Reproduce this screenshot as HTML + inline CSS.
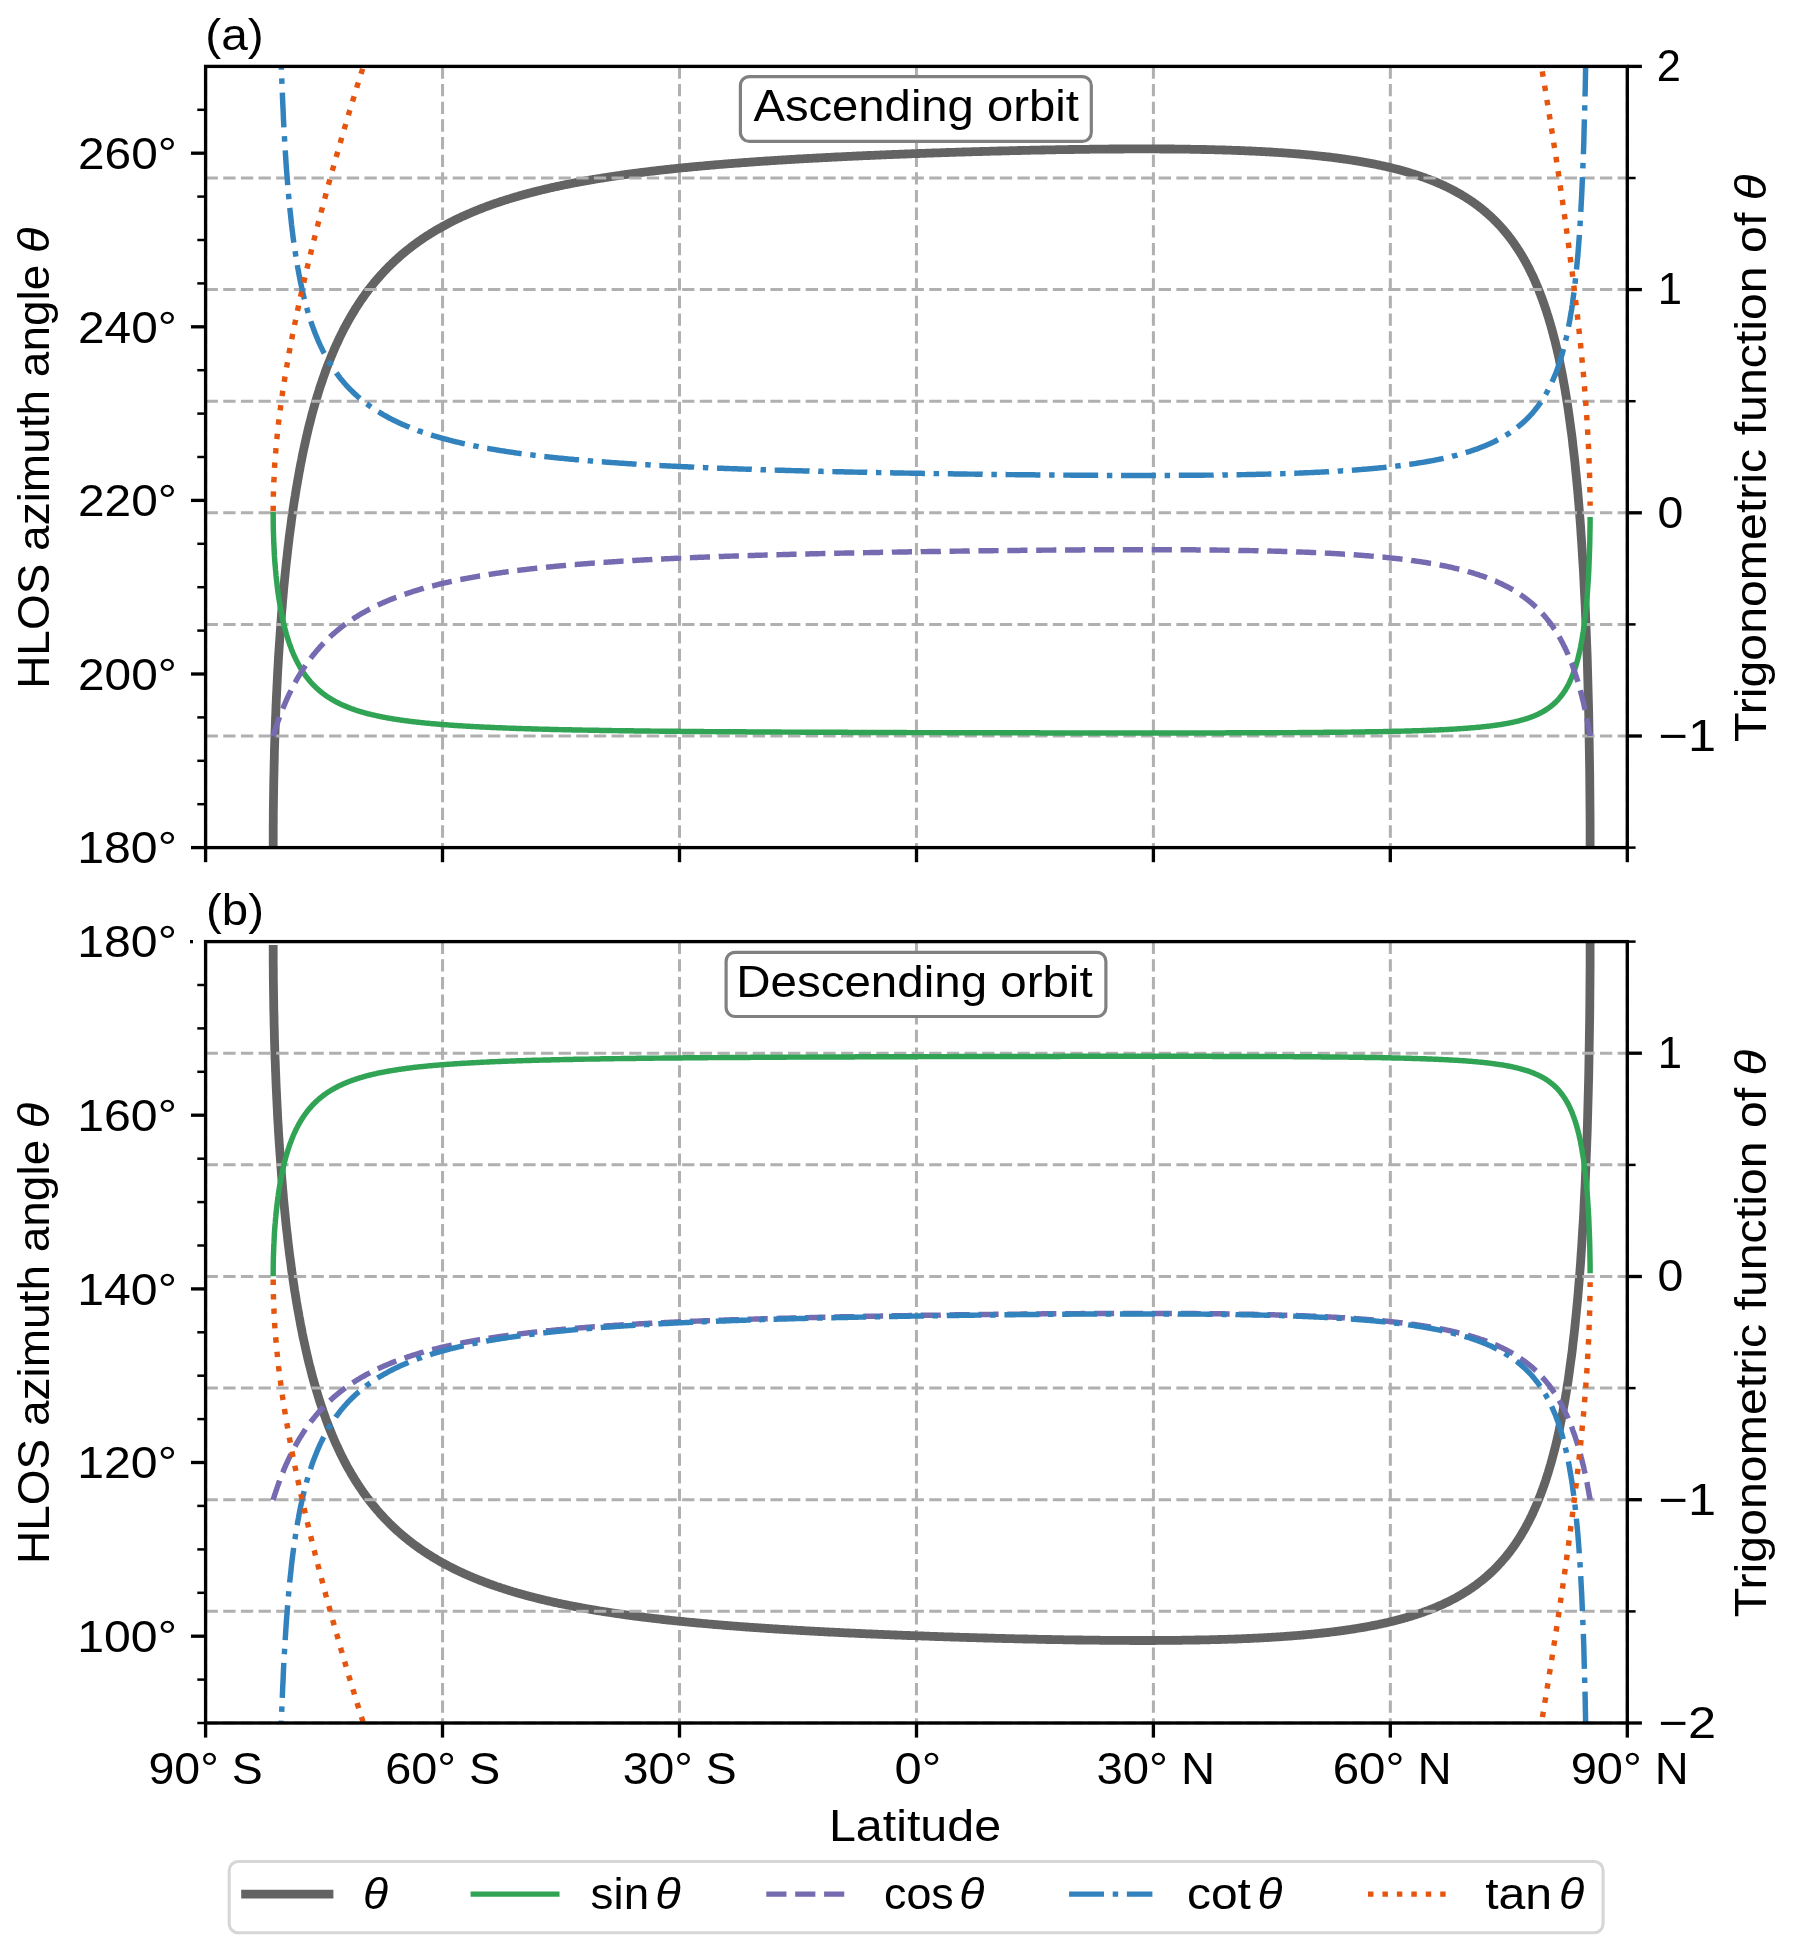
<!DOCTYPE html><html><head><meta charset="utf-8"><style>html,body{margin:0;padding:0;background:#fff}svg text{font-family:"Liberation Sans",sans-serif}svg{will-change:transform}</style></head><body><svg width="1793" height="1955" viewBox="0 0 1793 1955" style="display:block">
<rect x="0" y="0" width="1793" height="1955" fill="#fff"/>
<defs>
<clipPath id="clipa"><rect x="205.6" y="66.4" width="1421.7" height="781.2"/></clipPath>
<clipPath id="clipb"><rect x="205.6" y="941.6" width="1421.7" height="781.4"/></clipPath>
</defs>
<line x1="205.6" y1="66.4" x2="205.6" y2="847.6" stroke="#b0b0b0" stroke-width="3.0" stroke-dasharray="12.32 5.33"/>
<line x1="442.55" y1="66.4" x2="442.55" y2="847.6" stroke="#b0b0b0" stroke-width="3.0" stroke-dasharray="12.32 5.33"/>
<line x1="679.5" y1="66.4" x2="679.5" y2="847.6" stroke="#b0b0b0" stroke-width="3.0" stroke-dasharray="12.32 5.33"/>
<line x1="916.45" y1="66.4" x2="916.45" y2="847.6" stroke="#b0b0b0" stroke-width="3.0" stroke-dasharray="12.32 5.33"/>
<line x1="1153.4" y1="66.4" x2="1153.4" y2="847.6" stroke="#b0b0b0" stroke-width="3.0" stroke-dasharray="12.32 5.33"/>
<line x1="1390.35" y1="66.4" x2="1390.35" y2="847.6" stroke="#b0b0b0" stroke-width="3.0" stroke-dasharray="12.32 5.33"/>
<line x1="1627.3" y1="66.4" x2="1627.3" y2="847.6" stroke="#b0b0b0" stroke-width="3.0" stroke-dasharray="12.32 5.33"/>
<polyline points="273.2,847.6 273.2,840.7 273.2,833.8 273.2,826.9 273.3,820.0 273.3,813.1 273.4,806.2 273.5,799.4 273.6,792.5 273.7,785.7 273.8,778.9 274.0,772.2 274.1,765.4 274.3,758.7 274.4,752.0 274.6,745.4 274.8,738.8 275.0,732.3 275.3,725.7 275.5,719.3 275.8,712.8 276.0,706.5 276.3,700.1 276.6,693.8 276.9,687.6 277.2,681.4 277.5,675.3 277.8,669.3 278.2,663.3 278.5,657.3 278.9,651.4 279.3,645.6 279.7,639.8 280.1,634.1 280.5,628.5 280.9,622.9 281.3,617.3 281.7,611.9 282.2,606.5 282.6,601.2 283.1,595.9 283.5,590.7 284.0,585.5 284.5,580.5 285.0,575.4 285.5,570.5 286.0,565.6 286.5,560.8 287.1,556.0 287.6,551.3 288.1,546.7 288.7,542.1 289.2,537.6 289.8,533.1 290.4,528.7 291.0,524.4 291.5,520.1 292.1,515.9 292.7,511.7 293.3,507.6 293.9,503.6 294.5,499.6 295.2,495.7 295.8,491.8 296.4,488.0 297.1,484.2 297.7,480.5 298.4,476.9 299.0,473.2 299.7,469.7 300.3,466.2 301.0,462.7 301.7,459.3 302.3,456.0 303.0,452.6 303.7,449.4 304.4,446.2 305.1,443.0 305.8,439.9 306.5,436.8 307.2,433.7 307.9,430.7 308.6,427.8 309.3,424.9 310.1,422.0 310.8,419.2 311.5,416.4 312.2,413.6 313.0,410.9 313.7,408.2 314.5,405.6 315.2,403.0 316.0,400.4 316.7,397.9 317.5,395.4 318.2,393.0 319.0,390.5 319.7,388.1 320.5,385.8 321.3,383.5 322.1,381.2 322.8,378.9 323.6,376.7 324.4,374.5 325.2,372.3 325.9,370.1 326.7,368.0 327.5,365.9 328.3,363.9 329.1,361.8 329.9,359.8 330.7,357.9 331.5,355.9 332.3,354.0 333.1,352.1 333.9,350.2 334.7,348.3 335.5,346.5 336.3,344.7 337.2,342.9 338.0,341.1 338.8,339.4 339.6,337.7 340.4,336.0 341.2,334.3 342.1,332.7 342.9,331.0 343.7,329.4 344.5,327.8 345.4,326.3 346.2,324.7 347.0,323.2 347.9,321.7 348.7,320.2 349.5,318.7 350.4,317.2 351.2,315.8 352.1,314.4 352.9,313.0 353.8,311.6 354.6,310.2 355.4,308.8 356.3,307.5 357.1,306.2 358.0,304.8 358.8,303.5 359.7,302.3 360.5,301.0 361.4,299.7 362.3,298.5 363.1,297.3 364.0,296.1 364.8,294.9 365.7,293.7 366.5,292.5 367.4,291.4 368.3,290.2 369.1,289.1 370.0,288.0 370.9,286.9 371.7,285.8 372.6,284.7 373.5,283.6 374.3,282.6 375.2,281.5 376.1,280.5 376.9,279.5 377.8,278.5 378.7,277.5 379.6,276.5 380.4,275.5 381.3,274.5 382.2,273.6 383.1,272.6 383.9,271.7 384.8,270.7 385.7,269.8 386.6,268.9 387.5,268.0 388.3,267.1 389.2,266.2 390.1,265.4 391.0,264.5 391.9,263.6 392.8,262.8 393.6,262.0 394.5,261.1 395.4,260.3 396.3,259.5 397.2,258.7 398.1,257.9 399.0,257.1 399.8,256.3 400.7,255.5 401.6,254.8 402.5,254.0 403.4,253.3 404.3,252.5 405.2,251.8 406.1,251.0 407.0,250.3 407.9,249.6 408.8,248.9 409.7,248.2 410.6,247.5 411.5,246.8 412.3,246.1 413.2,245.5 414.1,244.8 415.0,244.1 415.9,243.5 416.8,242.8 417.7,242.2 418.6,241.5 419.5,240.9 420.4,240.3 421.3,239.6 422.2,239.0 423.1,238.4 424.0,237.8 424.9,237.2 425.8,236.6 426.7,236.0 427.6,235.4 428.6,234.9 429.5,234.3 430.4,233.7 431.3,233.2 432.2,232.6 433.1,232.0 434.0,231.5 434.9,230.9 435.8,230.4 436.7,229.9 437.6,229.3 438.5,228.8 439.4,228.3 440.3,227.8 441.2,227.3 442.1,226.8 443.1,226.3 444.0,225.8 444.9,225.3 445.8,224.8 446.7,224.3 447.6,223.8 448.5,223.3 449.4,222.9 450.3,222.4 451.3,221.9 452.2,221.5 453.1,221.0 454.0,220.5 454.9,220.1 455.8,219.6 456.7,219.2 457.6,218.8 458.6,218.3 459.5,217.9 460.4,217.5 461.3,217.0 462.2,216.6 463.1,216.2 464.0,215.8 465.0,215.4 465.9,215.0 466.8,214.6 467.7,214.2 468.6,213.8 469.5,213.4 470.5,213.0 471.4,212.6 472.3,212.2 473.2,211.8 474.1,211.4 475.0,211.0 476.0,210.7 476.9,210.3 477.8,209.9 478.7,209.6 479.6,209.2 480.6,208.8 481.5,208.5 482.4,208.1 483.3,207.8 484.2,207.4 485.2,207.1 486.1,206.7 487.0,206.4 487.9,206.0 488.8,205.7 489.8,205.4 490.7,205.0 491.6,204.7 492.5,204.4 493.4,204.1 494.4,203.7 495.3,203.4 496.2,203.1 497.1,202.8 498.1,202.5 499.0,202.2 499.9,201.9 500.8,201.5 501.7,201.2 502.7,200.9 503.6,200.6 504.5,200.3 505.4,200.0 506.4,199.8 507.3,199.5 508.2,199.2 509.1,198.9 510.1,198.6 511.0,198.3 511.9,198.0 512.8,197.8 513.8,197.5 514.7,197.2 515.6,196.9 516.5,196.7 517.5,196.4 518.4,196.1 519.3,195.9 520.2,195.6 521.2,195.3 522.1,195.1 523.0,194.8 523.9,194.6 524.9,194.3 525.8,194.1 526.7,193.8 527.6,193.6 528.6,193.3 529.5,193.1 530.4,192.8 531.4,192.6 532.3,192.3 533.2,192.1 534.1,191.9 535.1,191.6 536.0,191.4 536.9,191.2 537.8,190.9 538.8,190.7 539.7,190.5 540.6,190.2 541.6,190.0 542.5,189.8 543.4,189.6 544.3,189.3 545.3,189.1 546.2,188.9 547.1,188.7 548.1,188.5 549.0,188.3 549.9,188.0 550.9,187.8 551.8,187.6 552.7,187.4 553.6,187.2 554.6,187.0 555.5,186.8 556.4,186.6 557.4,186.4 558.3,186.2 559.2,186.0 560.2,185.8 561.1,185.6 562.0,185.4 562.9,185.2 563.9,185.0 564.8,184.8 565.7,184.6 566.7,184.5 567.6,184.3 568.5,184.1 569.5,183.9 570.4,183.7 571.3,183.5 572.3,183.3 573.2,183.2 574.1,183.0 575.1,182.8 576.0,182.6 576.9,182.4 577.9,182.3 578.8,182.1 579.7,181.9 580.6,181.7 581.6,181.6 582.5,181.4 583.4,181.2 584.4,181.1 585.3,180.9 586.2,180.7 587.2,180.6 588.1,180.4 589.0,180.2 590.0,180.1 590.9,179.9 591.8,179.8 592.8,179.6 593.7,179.4 594.6,179.3 595.6,179.1 596.5,179.0 597.4,178.8 598.4,178.7 599.3,178.5 600.2,178.4 601.2,178.2 602.1,178.1 603.0,177.9 604.0,177.8 604.9,177.6 605.8,177.5 606.8,177.3 607.7,177.2 608.7,177.0 609.6,176.9 610.5,176.7 611.5,176.6 612.4,176.5 613.3,176.3 614.3,176.2 615.2,176.0 616.1,175.9 617.1,175.8 618.0,175.6 618.9,175.5 619.9,175.4 620.8,175.2 621.7,175.1 622.7,175.0 623.6,174.8 624.5,174.7 625.5,174.6 626.4,174.4 627.3,174.3 628.3,174.2 629.2,174.1 630.2,173.9 631.1,173.8 632.0,173.7 633.0,173.6 633.9,173.4 634.8,173.3 635.8,173.2 636.7,173.1 637.6,173.0 638.6,172.8 639.5,172.7 640.4,172.6 641.4,172.5 642.3,172.4 643.3,172.2 644.2,172.1 645.1,172.0 646.1,171.9 647.0,171.8 647.9,171.7 648.9,171.5 649.8,171.4 650.7,171.3 651.7,171.2 652.6,171.1 653.6,171.0 654.5,170.9 655.4,170.8 656.4,170.7 657.3,170.6 658.2,170.4 659.2,170.3 660.1,170.2 661.1,170.1 662.0,170.0 662.9,169.9 663.9,169.8 664.8,169.7 665.7,169.6 666.7,169.5 667.6,169.4 668.6,169.3 669.5,169.2 670.4,169.1 671.4,169.0 672.3,168.9 673.2,168.8 674.2,168.7 675.1,168.6 676.0,168.5 677.0,168.4 677.9,168.3 678.9,168.2 679.8,168.1 680.7,168.0 681.7,167.9 682.6,167.8 683.6,167.7 684.5,167.7 685.4,167.6 686.4,167.5 687.3,167.4 688.2,167.3 689.2,167.2 690.1,167.1 691.1,167.0 692.0,166.9 692.9,166.8 693.9,166.7 694.8,166.7 695.7,166.6 696.7,166.5 697.6,166.4 698.6,166.3 699.5,166.2 700.4,166.1 701.4,166.1 702.3,166.0 703.3,165.9 704.2,165.8 705.1,165.7 706.1,165.6 707.0,165.5 707.9,165.5 708.9,165.4 709.8,165.3 710.8,165.2 711.7,165.1 712.6,165.1 713.6,165.0 714.5,164.9 715.5,164.8 716.4,164.7 717.3,164.7 718.3,164.6 719.2,164.5 720.2,164.4 721.1,164.4 722.0,164.3 723.0,164.2 723.9,164.1 724.8,164.0 725.8,164.0 726.7,163.9 727.7,163.8 728.6,163.7 729.5,163.7 730.5,163.6 731.4,163.5 732.4,163.5 733.3,163.4 734.2,163.3 735.2,163.2 736.1,163.2 737.1,163.1 738.0,163.0 738.9,163.0 739.9,162.9 740.8,162.8 741.8,162.7 742.7,162.7 743.6,162.6 744.6,162.5 745.5,162.5 746.5,162.4 747.4,162.3 748.3,162.3 749.3,162.2 750.2,162.1 751.1,162.1 752.1,162.0 753.0,161.9 754.0,161.9 754.9,161.8 755.8,161.7 756.8,161.7 757.7,161.6 758.7,161.5 759.6,161.5 760.5,161.4 761.5,161.3 762.4,161.3 763.4,161.2 764.3,161.2 765.2,161.1 766.2,161.0 767.1,161.0 768.1,160.9 769.0,160.8 769.9,160.8 770.9,160.7 771.8,160.7 772.8,160.6 773.7,160.5 774.6,160.5 775.6,160.4 776.5,160.4 777.5,160.3 778.4,160.2 779.3,160.2 780.3,160.1 781.2,160.1 782.2,160.0 783.1,159.9 784.1,159.9 785.0,159.8 785.9,159.8 786.9,159.7 787.8,159.7 788.8,159.6 789.7,159.5 790.6,159.5 791.6,159.4 792.5,159.4 793.5,159.3 794.4,159.3 795.3,159.2 796.3,159.2 797.2,159.1 798.2,159.0 799.1,159.0 800.0,158.9 801.0,158.9 801.9,158.8 802.9,158.8 803.8,158.7 804.7,158.7 805.7,158.6 806.6,158.6 807.6,158.5 808.5,158.5 809.4,158.4 810.4,158.4 811.3,158.3 812.3,158.3 813.2,158.2 814.1,158.2 815.1,158.1 816.0,158.1 817.0,158.0 817.9,158.0 818.9,157.9 819.8,157.9 820.7,157.8 821.7,157.8 822.6,157.7 823.6,157.7 824.5,157.6 825.4,157.6 826.4,157.5 827.3,157.5 828.3,157.4 829.2,157.4 830.1,157.3 831.1,157.3 832.0,157.2 833.0,157.2 833.9,157.1 834.8,157.1 835.8,157.0 836.7,157.0 837.7,156.9 838.6,156.9 839.6,156.8 840.5,156.8 841.4,156.8 842.4,156.7 843.3,156.7 844.3,156.6 845.2,156.6 846.1,156.5 847.1,156.5 848.0,156.4 849.0,156.4 849.9,156.4 850.8,156.3 851.8,156.3 852.7,156.2 853.7,156.2 854.6,156.1 855.6,156.1 856.5,156.0 857.4,156.0 858.4,156.0 859.3,155.9 860.3,155.9 861.2,155.8 862.1,155.8 863.1,155.7 864.0,155.7 865.0,155.7 865.9,155.6 866.8,155.6 867.8,155.5 868.7,155.5 869.7,155.5 870.6,155.4 871.6,155.4 872.5,155.3 873.4,155.3 874.4,155.3 875.3,155.2 876.3,155.2 877.2,155.1 878.1,155.1 879.1,155.1 880.0,155.0 881.0,155.0 881.9,154.9 882.8,154.9 883.8,154.9 884.7,154.8 885.7,154.8 886.6,154.7 887.6,154.7 888.5,154.7 889.4,154.6 890.4,154.6 891.3,154.6 892.3,154.5 893.2,154.5 894.1,154.4 895.1,154.4 896.0,154.4 897.0,154.3 897.9,154.3 898.9,154.3 899.8,154.2 900.7,154.2 901.7,154.1 902.6,154.1 903.6,154.1 904.5,154.0 905.4,154.0 906.4,154.0 907.3,153.9 908.3,153.9 909.2,153.9 910.2,153.8 911.1,153.8 912.0,153.7 913.0,153.7 913.9,153.7 914.9,153.6 915.8,153.6 916.7,153.6 917.7,153.5 918.6,153.5 919.6,153.5 920.5,153.4 921.4,153.4 922.4,153.4 923.3,153.3 924.3,153.3 925.2,153.3 926.2,153.2 927.1,153.2 928.0,153.2 929.0,153.1 929.9,153.1 930.9,153.1 931.8,153.0 932.7,153.0 933.7,153.0 934.6,152.9 935.6,152.9 936.5,152.9 937.5,152.8 938.4,152.8 939.3,152.8 940.3,152.8 941.2,152.7 942.2,152.7 943.1,152.7 944.0,152.6 945.0,152.6 945.9,152.6 946.9,152.5 947.8,152.5 948.8,152.5 949.7,152.4 950.6,152.4 951.6,152.4 952.5,152.3 953.5,152.3 954.4,152.3 955.3,152.3 956.3,152.2 957.2,152.2 958.2,152.2 959.1,152.1 960.1,152.1 961.0,152.1 961.9,152.1 962.9,152.0 963.8,152.0 964.8,152.0 965.7,151.9 966.6,151.9 967.6,151.9 968.5,151.9 969.5,151.8 970.4,151.8 971.4,151.8 972.3,151.7 973.2,151.7 974.2,151.7 975.1,151.7 976.1,151.6 977.0,151.6 977.9,151.6 978.9,151.6 979.8,151.5 980.8,151.5 981.7,151.5 982.7,151.4 983.6,151.4 984.5,151.4 985.5,151.4 986.4,151.3 987.4,151.3 988.3,151.3 989.2,151.3 990.2,151.2 991.1,151.2 992.1,151.2 993.0,151.2 994.0,151.1 994.9,151.1 995.8,151.1 996.8,151.1 997.7,151.0 998.7,151.0 999.6,151.0 1000.5,151.0 1001.5,150.9 1002.4,150.9 1003.4,150.9 1004.3,150.9 1005.3,150.8 1006.2,150.8 1007.1,150.8 1008.1,150.8 1009.0,150.8 1010.0,150.7 1010.9,150.7 1011.8,150.7 1012.8,150.7 1013.7,150.6 1014.7,150.6 1015.6,150.6 1016.6,150.6 1017.5,150.5 1018.4,150.5 1019.4,150.5 1020.3,150.5 1021.3,150.5 1022.2,150.4 1023.1,150.4 1024.1,150.4 1025.0,150.4 1026.0,150.4 1026.9,150.3 1027.9,150.3 1028.8,150.3 1029.7,150.3 1030.7,150.2 1031.6,150.2 1032.6,150.2 1033.5,150.2 1034.4,150.2 1035.4,150.1 1036.3,150.1 1037.3,150.1 1038.2,150.1 1039.2,150.1 1040.1,150.1 1041.0,150.0 1042.0,150.0 1042.9,150.0 1043.9,150.0 1044.8,150.0 1045.7,149.9 1046.7,149.9 1047.6,149.9 1048.6,149.9 1049.5,149.9 1050.5,149.8 1051.4,149.8 1052.3,149.8 1053.3,149.8 1054.2,149.8 1055.2,149.8 1056.1,149.7 1057.0,149.7 1058.0,149.7 1058.9,149.7 1059.9,149.7 1060.8,149.7 1061.8,149.6 1062.7,149.6 1063.6,149.6 1064.6,149.6 1065.5,149.6 1066.5,149.6 1067.4,149.6 1068.3,149.5 1069.3,149.5 1070.2,149.5 1071.2,149.5 1072.1,149.5 1073.1,149.5 1074.0,149.5 1074.9,149.4 1075.9,149.4 1076.8,149.4 1077.8,149.4 1078.7,149.4 1079.6,149.4 1080.6,149.4 1081.5,149.3 1082.5,149.3 1083.4,149.3 1084.3,149.3 1085.3,149.3 1086.2,149.3 1087.2,149.3 1088.1,149.3 1089.1,149.3 1090.0,149.2 1090.9,149.2 1091.9,149.2 1092.8,149.2 1093.8,149.2 1094.7,149.2 1095.6,149.2 1096.6,149.2 1097.5,149.2 1098.5,149.1 1099.4,149.1 1100.4,149.1 1101.3,149.1 1102.2,149.1 1103.2,149.1 1104.1,149.1 1105.1,149.1 1106.0,149.1 1106.9,149.1 1107.9,149.1 1108.8,149.1 1109.8,149.0 1110.7,149.0 1111.6,149.0 1112.6,149.0 1113.5,149.0 1114.5,149.0 1115.4,149.0 1116.4,149.0 1117.3,149.0 1118.2,149.0 1119.2,149.0 1120.1,149.0 1121.1,149.0 1122.0,149.0 1122.9,149.0 1123.9,149.0 1124.8,148.9 1125.8,148.9 1126.7,148.9 1127.6,148.9 1128.6,148.9 1129.5,148.9 1130.5,148.9 1131.4,148.9 1132.3,148.9 1133.3,148.9 1134.2,148.9 1135.2,148.9 1136.1,148.9 1137.1,148.9 1138.0,148.9 1138.9,148.9 1139.9,148.9 1140.8,148.9 1141.8,148.9 1142.7,148.9 1143.6,148.9 1144.6,148.9 1145.5,148.9 1146.5,148.9 1147.4,148.9 1148.3,148.9 1149.3,148.9 1150.2,148.9 1151.2,148.9 1152.1,148.9 1153.0,148.9 1154.0,148.9 1154.9,148.9 1155.9,148.9 1156.8,148.9 1157.8,148.9 1158.7,148.9 1159.6,148.9 1160.6,149.0 1161.5,149.0 1162.5,149.0 1163.4,149.0 1164.3,149.0 1165.3,149.0 1166.2,149.0 1167.2,149.0 1168.1,149.0 1169.0,149.0 1170.0,149.0 1170.9,149.0 1171.9,149.0 1172.8,149.0 1173.7,149.0 1174.7,149.1 1175.6,149.1 1176.6,149.1 1177.5,149.1 1178.4,149.1 1179.4,149.1 1180.3,149.1 1181.3,149.1 1182.2,149.1 1183.1,149.1 1184.1,149.2 1185.0,149.2 1186.0,149.2 1186.9,149.2 1187.9,149.2 1188.8,149.2 1189.7,149.2 1190.7,149.3 1191.6,149.3 1192.6,149.3 1193.5,149.3 1194.4,149.3 1195.4,149.3 1196.3,149.3 1197.3,149.4 1198.2,149.4 1199.1,149.4 1200.1,149.4 1201.0,149.4 1202.0,149.5 1202.9,149.5 1203.8,149.5 1204.8,149.5 1205.7,149.5 1206.7,149.6 1207.6,149.6 1208.5,149.6 1209.5,149.6 1210.4,149.6 1211.4,149.7 1212.3,149.7 1213.2,149.7 1214.2,149.7 1215.1,149.8 1216.1,149.8 1217.0,149.8 1217.9,149.8 1218.9,149.9 1219.8,149.9 1220.8,149.9 1221.7,149.9 1222.6,150.0 1223.6,150.0 1224.5,150.0 1225.5,150.0 1226.4,150.1 1227.3,150.1 1228.3,150.1 1229.2,150.2 1230.1,150.2 1231.1,150.2 1232.0,150.3 1233.0,150.3 1233.9,150.3 1234.8,150.4 1235.8,150.4 1236.7,150.4 1237.7,150.5 1238.6,150.5 1239.5,150.5 1240.5,150.6 1241.4,150.6 1242.4,150.6 1243.3,150.7 1244.2,150.7 1245.2,150.8 1246.1,150.8 1247.1,150.8 1248.0,150.9 1248.9,150.9 1249.9,151.0 1250.8,151.0 1251.8,151.0 1252.7,151.1 1253.6,151.1 1254.6,151.2 1255.5,151.2 1256.4,151.3 1257.4,151.3 1258.3,151.4 1259.3,151.4 1260.2,151.5 1261.1,151.5 1262.1,151.6 1263.0,151.6 1264.0,151.7 1264.9,151.7 1265.8,151.8 1266.8,151.8 1267.7,151.9 1268.7,151.9 1269.6,152.0 1270.5,152.0 1271.5,152.1 1272.4,152.1 1273.3,152.2 1274.3,152.3 1275.2,152.3 1276.2,152.4 1277.1,152.4 1278.0,152.5 1279.0,152.6 1279.9,152.6 1280.9,152.7 1281.8,152.7 1282.7,152.8 1283.7,152.9 1284.6,152.9 1285.5,153.0 1286.5,153.1 1287.4,153.1 1288.4,153.2 1289.3,153.3 1290.2,153.3 1291.2,153.4 1292.1,153.5 1293.0,153.6 1294.0,153.6 1294.9,153.7 1295.9,153.8 1296.8,153.9 1297.7,153.9 1298.7,154.0 1299.6,154.1 1300.6,154.2 1301.5,154.3 1302.4,154.3 1303.4,154.4 1304.3,154.5 1305.2,154.6 1306.2,154.7 1307.1,154.8 1308.1,154.8 1309.0,154.9 1309.9,155.0 1310.9,155.1 1311.8,155.2 1312.7,155.3 1313.7,155.4 1314.6,155.5 1315.5,155.6 1316.5,155.7 1317.4,155.8 1318.4,155.9 1319.3,156.0 1320.2,156.1 1321.2,156.2 1322.1,156.3 1323.0,156.4 1324.0,156.5 1324.9,156.6 1325.9,156.7 1326.8,156.8 1327.7,156.9 1328.7,157.0 1329.6,157.1 1330.5,157.2 1331.5,157.3 1332.4,157.5 1333.3,157.6 1334.3,157.7 1335.2,157.8 1336.2,157.9 1337.1,158.1 1338.0,158.2 1339.0,158.3 1339.9,158.4 1340.8,158.6 1341.8,158.7 1342.7,158.8 1343.6,158.9 1344.6,159.1 1345.5,159.2 1346.4,159.3 1347.4,159.5 1348.3,159.6 1349.3,159.8 1350.2,159.9 1351.1,160.0 1352.1,160.2 1353.0,160.3 1353.9,160.5 1354.9,160.6 1355.8,160.8 1356.7,160.9 1357.7,161.1 1358.6,161.2 1359.5,161.4 1360.5,161.5 1361.4,161.7 1362.3,161.9 1363.3,162.0 1364.2,162.2 1365.1,162.4 1366.1,162.5 1367.0,162.7 1367.9,162.9 1368.9,163.0 1369.8,163.2 1370.7,163.4 1371.7,163.6 1372.6,163.7 1373.5,163.9 1374.5,164.1 1375.4,164.3 1376.3,164.5 1377.3,164.7 1378.2,164.9 1379.1,165.1 1380.1,165.3 1381.0,165.5 1381.9,165.7 1382.9,165.9 1383.8,166.1 1384.7,166.3 1385.7,166.5 1386.6,166.7 1387.5,166.9 1388.5,167.1 1389.4,167.4 1390.3,167.6 1391.3,167.8 1392.2,168.0 1393.1,168.3 1394.1,168.5 1395.0,168.7 1395.9,169.0 1396.9,169.2 1397.8,169.4 1398.7,169.7 1399.7,169.9 1400.6,170.2 1401.5,170.4 1402.4,170.7 1403.4,170.9 1404.3,171.2 1405.2,171.5 1406.2,171.7 1407.1,172.0 1408.0,172.3 1409.0,172.6 1409.9,172.8 1410.8,173.1 1411.7,173.4 1412.7,173.7 1413.6,174.0 1414.5,174.3 1415.5,174.6 1416.4,174.9 1417.3,175.2 1418.2,175.5 1419.2,175.8 1420.1,176.1 1421.0,176.4 1422.0,176.8 1422.9,177.1 1423.8,177.4 1424.7,177.7 1425.7,178.1 1426.6,178.4 1427.5,178.8 1428.5,179.1 1429.4,179.5 1430.3,179.8 1431.2,180.2 1432.2,180.6 1433.1,180.9 1434.0,181.3 1434.9,181.7 1435.9,182.1 1436.8,182.5 1437.7,182.8 1438.6,183.2 1439.6,183.7 1440.5,184.1 1441.4,184.5 1442.3,184.9 1443.3,185.3 1444.2,185.7 1445.1,186.2 1446.0,186.6 1447.0,187.1 1447.9,187.5 1448.8,188.0 1449.7,188.4 1450.7,188.9 1451.6,189.4 1452.5,189.8 1453.4,190.3 1454.3,190.8 1455.3,191.3 1456.2,191.8 1457.1,192.3 1458.0,192.8 1458.9,193.3 1459.9,193.9 1460.8,194.4 1461.7,195.0 1462.6,195.5 1463.5,196.1 1464.5,196.6 1465.4,197.2 1466.3,197.8 1467.2,198.4 1468.1,199.0 1469.1,199.6 1470.0,200.2 1470.9,200.8 1471.8,201.4 1472.7,202.0 1473.6,202.7 1474.5,203.3 1475.5,204.0 1476.4,204.7 1477.3,205.3 1478.2,206.0 1479.1,206.7 1480.0,207.4 1480.9,208.2 1481.9,208.9 1482.8,209.6 1483.7,210.4 1484.6,211.1 1485.5,211.9 1486.4,212.7 1487.3,213.5 1488.2,214.3 1489.1,215.1 1490.1,215.9 1491.0,216.8 1491.9,217.6 1492.8,218.5 1493.7,219.4 1494.6,220.3 1495.5,221.2 1496.4,222.1 1497.3,223.0 1498.2,224.0 1499.1,224.9 1500.0,225.9 1500.9,226.9 1501.8,227.9 1502.7,228.9 1503.6,230.0 1504.5,231.0 1505.4,232.1 1506.3,233.2 1507.2,234.3 1508.1,235.4 1509.0,236.6 1509.9,237.8 1510.8,238.9 1511.7,240.1 1512.6,241.4 1513.5,242.6 1514.4,243.9 1515.3,245.2 1516.1,246.5 1517.0,247.8 1517.9,249.2 1518.8,250.5 1519.7,251.9 1520.6,253.4 1521.5,254.8 1522.3,256.3 1523.2,257.8 1524.1,259.3 1525.0,260.9 1525.9,262.5 1526.7,264.1 1527.6,265.7 1528.5,267.4 1529.4,269.1 1530.2,270.9 1531.1,272.7 1532.0,274.5 1532.9,276.3 1533.7,278.2 1534.6,280.1 1535.4,282.1 1536.3,284.1 1537.2,286.1 1538.0,288.2 1538.9,290.3 1539.7,292.5 1540.6,294.7 1541.4,296.9 1542.3,299.2 1543.1,301.6 1544.0,304.0 1544.8,306.4 1545.7,308.9 1546.5,311.5 1547.3,314.1 1548.2,316.7 1549.0,319.5 1549.8,322.2 1550.7,325.1 1551.5,328.0 1552.3,331.0 1553.1,334.0 1553.9,337.1 1554.8,340.3 1555.6,343.6 1556.4,346.9 1557.2,350.3 1558.0,353.8 1558.8,357.4 1559.6,361.1 1560.3,364.8 1561.1,368.7 1561.9,372.6 1562.7,376.7 1563.4,380.8 1564.2,385.0 1565.0,389.4 1565.7,393.8 1566.5,398.4 1567.2,403.1 1568.0,407.9 1568.7,412.8 1569.4,417.9 1570.1,423.1 1570.8,428.4 1571.6,433.8 1572.3,439.4 1572.9,445.2 1573.6,451.1 1574.3,457.1 1575.0,463.3 1575.6,469.7 1576.3,476.2 1576.9,482.9 1577.6,489.8 1578.2,496.8 1578.8,504.1 1579.4,511.5 1580.0,519.1 1580.6,526.9 1581.1,534.9 1581.7,543.1 1582.2,551.5 1582.7,560.0 1583.3,568.8 1583.8,577.9 1584.2,587.1 1584.7,596.5 1585.2,606.1 1585.6,616.0 1586.0,626.0 1586.4,636.2 1586.8,646.7 1587.2,657.3 1587.5,668.2 1587.8,679.2 1588.1,690.4 1588.4,701.8 1588.7,713.3 1588.9,725.0 1589.1,736.8 1589.3,748.8 1589.5,760.8 1589.7,773.0 1589.8,785.3 1589.9,797.7 1590.0,810.1 1590.1,822.6 1590.1,835.1 1590.1,847.6" fill="none" stroke="#636363" stroke-width="8.8" stroke-linecap="square" stroke-linejoin="round" clip-path="url(#clipa)" />
<line x1="205.6" y1="847.6" x2="1627.3" y2="847.6" stroke="#b0b0b0" stroke-width="3.0" stroke-dasharray="12.32 5.33"/>
<line x1="205.6" y1="736" x2="1627.3" y2="736" stroke="#b0b0b0" stroke-width="3.0" stroke-dasharray="12.32 5.33"/>
<line x1="205.6" y1="624.4" x2="1627.3" y2="624.4" stroke="#b0b0b0" stroke-width="3.0" stroke-dasharray="12.32 5.33"/>
<line x1="205.6" y1="512.8" x2="1627.3" y2="512.8" stroke="#b0b0b0" stroke-width="3.0" stroke-dasharray="12.32 5.33"/>
<line x1="205.6" y1="401.2" x2="1627.3" y2="401.2" stroke="#b0b0b0" stroke-width="3.0" stroke-dasharray="12.32 5.33"/>
<line x1="205.6" y1="289.6" x2="1627.3" y2="289.6" stroke="#b0b0b0" stroke-width="3.0" stroke-dasharray="12.32 5.33"/>
<line x1="205.6" y1="178" x2="1627.3" y2="178" stroke="#b0b0b0" stroke-width="3.0" stroke-dasharray="12.32 5.33"/>
<line x1="205.6" y1="66.4" x2="1627.3" y2="66.4" stroke="#b0b0b0" stroke-width="3.0" stroke-dasharray="12.32 5.33"/>
<polyline points="273.2,514.4 273.2,515.9 273.2,519.0 273.2,522.1 273.3,525.2 273.3,528.3 273.4,531.4 273.5,534.4 273.6,537.5 273.7,540.5 273.8,543.5 274.0,546.5 274.1,549.5 274.3,552.5 274.4,555.4 274.6,558.3 274.8,561.2 275.0,564.1 275.3,566.9 275.5,569.8 275.8,572.5 276.0,575.3 276.3,578.0 276.6,580.7 276.9,583.4 277.2,586.0 277.5,588.6 277.8,591.1 278.2,593.7 278.5,596.1 278.9,598.6 279.3,601.0 279.7,603.4 280.1,605.7 280.5,608.0 280.9,610.3 281.3,612.5 281.7,614.7 282.2,616.8 282.6,618.9 283.1,621.0 283.5,623.0 284.0,625.0 284.5,627.0 285.0,628.9 285.5,630.8 286.0,632.7 286.5,634.5 287.1,636.3 287.6,638.0 288.1,639.8 288.7,641.4 289.2,643.1 289.8,644.7 290.4,646.3 291.0,647.9 291.5,649.4 292.1,650.9 292.7,652.3 293.3,653.8 293.9,655.2 294.5,656.5 295.2,657.9 295.8,659.2 296.4,660.5 297.1,661.8 297.7,663.0 298.4,664.2 299.0,665.4 299.7,666.5 300.3,667.7 301.0,668.8 301.7,669.9 302.3,671.0 303.0,672.0 303.7,673.0 304.4,674.0 305.1,675.0 305.8,676.0 306.5,676.9 307.2,677.8 307.9,678.7 308.6,679.6 309.3,680.5 310.1,681.3 310.8,682.2 311.5,683.0 312.2,683.8 313.0,684.6 313.7,685.3 314.5,686.1 315.2,686.8 316.0,687.5 316.7,688.2 317.5,688.9 318.2,689.6 319.0,690.2 319.7,690.9 320.5,691.5 321.3,692.2 322.1,692.8 322.8,693.4 323.6,694.0 324.4,694.5 325.2,695.1 325.9,695.7 326.7,696.2 327.5,696.7 328.3,697.2 329.1,697.8 329.9,698.3 330.7,698.8 331.5,699.2 332.3,699.7 333.1,700.2 333.9,700.6 334.7,701.1 335.5,701.5 336.3,702.0 337.2,702.4 338.0,702.8 338.8,703.2 339.6,703.6 340.4,704.0 341.2,704.4 342.1,704.8 342.9,705.1 343.7,705.5 344.5,705.9 345.4,706.2 346.2,706.6 347.0,706.9 347.9,707.2 348.7,707.6 349.5,707.9 350.4,708.2 351.2,708.5 352.1,708.8 352.9,709.1 353.8,709.4 354.6,709.7 355.4,710.0 356.3,710.3 357.1,710.6 358.0,710.8 358.8,711.1 359.7,711.4 360.5,711.6 361.4,711.9 362.3,712.1 363.1,712.4 364.0,712.6 364.8,712.9 365.7,713.1 366.5,713.3 367.4,713.5 368.3,713.8 369.1,714.0 370.0,714.2 370.9,714.4 371.7,714.6 372.6,714.8 373.5,715.0 374.3,715.2 375.2,715.4 376.1,715.6 376.9,715.8 377.8,716.0 378.7,716.2 379.6,716.4 380.4,716.6 381.3,716.7 382.2,716.9 383.1,717.1 383.9,717.3 384.8,717.4 385.7,717.6 386.6,717.8 387.5,717.9 388.3,718.1 389.2,718.2 390.1,718.4 391.0,718.5 391.9,718.7 392.8,718.8 393.6,719.0 394.5,719.1 395.4,719.2 396.3,719.4 397.2,719.5 398.1,719.7 399.0,719.8 399.8,719.9 400.7,720.1 401.6,720.2 402.5,720.3 403.4,720.4 404.3,720.6 405.2,720.7 406.1,720.8 407.0,720.9 407.9,721.0 408.8,721.1 409.7,721.3 410.6,721.4 411.5,721.5 412.3,721.6 413.2,721.7 414.1,721.8 415.0,721.9 415.9,722.0 416.8,722.1 417.7,722.2 418.6,722.3 419.5,722.4 420.4,722.5 421.3,722.6 422.2,722.7 423.1,722.8 424.0,722.9 424.9,723.0 425.8,723.1 426.7,723.1 427.6,723.2 428.6,723.3 429.5,723.4 430.4,723.5 431.3,723.6 432.2,723.7 433.1,723.7 434.0,723.8 434.9,723.9 435.8,724.0 436.7,724.0 437.6,724.1 438.5,724.2 439.4,724.3 440.3,724.4 441.2,724.4 442.1,724.5 443.1,724.6 444.0,724.6 444.9,724.7 445.8,724.8 446.7,724.8 447.6,724.9 448.5,725.0 449.4,725.0 450.3,725.1 451.3,725.2 452.2,725.2 453.1,725.3 454.0,725.4 454.9,725.4 455.8,725.5 456.7,725.5 457.6,725.6 458.6,725.7 459.5,725.7 460.4,725.8 461.3,725.8 462.2,725.9 463.1,726.0 464.0,726.0 465.0,726.1 465.9,726.1 466.8,726.2 467.7,726.2 468.6,726.3 469.5,726.3 470.5,726.4 471.4,726.4 472.3,726.5 473.2,726.5 474.1,726.6 475.0,726.6 476.0,726.7 476.9,726.7 477.8,726.8 478.7,726.8 479.6,726.9 480.6,726.9 481.5,727.0 482.4,727.0 483.3,727.0 484.2,727.1 485.2,727.1 486.1,727.2 487.0,727.2 487.9,727.3 488.8,727.3 489.8,727.3 490.7,727.4 491.6,727.4 492.5,727.5 493.4,727.5 494.4,727.5 495.3,727.6 496.2,727.6 497.1,727.7 498.1,727.7 499.0,727.7 499.9,727.8 500.8,727.8 501.7,727.8 502.7,727.9 503.6,727.9 504.5,728.0 505.4,728.0 506.4,728.0 507.3,728.1 508.2,728.1 509.1,728.1 510.1,728.2 511.0,728.2 511.9,728.2 512.8,728.3 513.8,728.3 514.7,728.3 515.6,728.4 516.5,728.4 517.5,728.4 518.4,728.4 519.3,728.5 520.2,728.5 521.2,728.5 522.1,728.6 523.0,728.6 523.9,728.6 524.9,728.7 525.8,728.7 526.7,728.7 527.6,728.7 528.6,728.8 529.5,728.8 530.4,728.8 531.4,728.9 532.3,728.9 533.2,728.9 534.1,728.9 535.1,729.0 536.0,729.0 536.9,729.0 537.8,729.0 538.8,729.1 539.7,729.1 540.6,729.1 541.6,729.1 542.5,729.2 543.4,729.2 544.3,729.2 545.3,729.2 546.2,729.3 547.1,729.3 548.1,729.3 549.0,729.3 549.9,729.4 550.9,729.4 551.8,729.4 552.7,729.4 553.6,729.4 554.6,729.5 555.5,729.5 556.4,729.5 557.4,729.5 558.3,729.6 559.2,729.6 560.2,729.6 561.1,729.6 562.0,729.6 562.9,729.7 563.9,729.7 564.8,729.7 565.7,729.7 566.7,729.7 567.6,729.8 568.5,729.8 569.5,729.8 570.4,729.8 571.3,729.8 572.3,729.9 573.2,729.9 574.1,729.9 575.1,729.9 576.0,729.9 576.9,730.0 577.9,730.0 578.8,730.0 579.7,730.0 580.6,730.0 581.6,730.0 582.5,730.1 583.4,730.1 584.4,730.1 585.3,730.1 586.2,730.1 587.2,730.1 588.1,730.2 589.0,730.2 590.0,730.2 590.9,730.2 591.8,730.2 592.8,730.2 593.7,730.3 594.6,730.3 595.6,730.3 596.5,730.3 597.4,730.3 598.4,730.3 599.3,730.4 600.2,730.4 601.2,730.4 602.1,730.4 603.0,730.4 604.0,730.4 604.9,730.4 605.8,730.5 606.8,730.5 607.7,730.5 608.7,730.5 609.6,730.5 610.5,730.5 611.5,730.5 612.4,730.6 613.3,730.6 614.3,730.6 615.2,730.6 616.1,730.6 617.1,730.6 618.0,730.6 618.9,730.7 619.9,730.7 620.8,730.7 621.7,730.7 622.7,730.7 623.6,730.7 624.5,730.7 625.5,730.7 626.4,730.8 627.3,730.8 628.3,730.8 629.2,730.8 630.2,730.8 631.1,730.8 632.0,730.8 633.0,730.8 633.9,730.9 634.8,730.9 635.8,730.9 636.7,730.9 637.6,730.9 638.6,730.9 639.5,730.9 640.4,730.9 641.4,730.9 642.3,731.0 643.3,731.0 644.2,731.0 645.1,731.0 646.1,731.0 647.0,731.0 647.9,731.0 648.9,731.0 649.8,731.0 650.7,731.1 651.7,731.1 652.6,731.1 653.6,731.1 654.5,731.1 655.4,731.1 656.4,731.1 657.3,731.1 658.2,731.1 659.2,731.1 660.1,731.2 661.1,731.2 662.0,731.2 662.9,731.2 663.9,731.2 664.8,731.2 665.7,731.2 666.7,731.2 667.6,731.2 668.6,731.2 669.5,731.2 670.4,731.3 671.4,731.3 672.3,731.3 673.2,731.3 674.2,731.3 675.1,731.3 676.0,731.3 677.0,731.3 677.9,731.3 678.9,731.3 679.8,731.3 680.7,731.4 681.7,731.4 682.6,731.4 683.6,731.4 684.5,731.4 685.4,731.4 686.4,731.4 687.3,731.4 688.2,731.4 689.2,731.4 690.1,731.4 691.1,731.4 692.0,731.5 692.9,731.5 693.9,731.5 694.8,731.5 695.7,731.5 696.7,731.5 697.6,731.5 698.6,731.5 699.5,731.5 700.4,731.5 701.4,731.5 702.3,731.5 703.3,731.5 704.2,731.6 705.1,731.6 706.1,731.6 707.0,731.6 707.9,731.6 708.9,731.6 709.8,731.6 710.8,731.6 711.7,731.6 712.6,731.6 713.6,731.6 714.5,731.6 715.5,731.6 716.4,731.7 717.3,731.7 718.3,731.7 719.2,731.7 720.2,731.7 721.1,731.7 722.0,731.7 723.0,731.7 723.9,731.7 724.8,731.7 725.8,731.7 726.7,731.7 727.7,731.7 728.6,731.7 729.5,731.7 730.5,731.8 731.4,731.8 732.4,731.8 733.3,731.8 734.2,731.8 735.2,731.8 736.1,731.8 737.1,731.8 738.0,731.8 738.9,731.8 739.9,731.8 740.8,731.8 741.8,731.8 742.7,731.8 743.6,731.8 744.6,731.8 745.5,731.8 746.5,731.9 747.4,731.9 748.3,731.9 749.3,731.9 750.2,731.9 751.1,731.9 752.1,731.9 753.0,731.9 754.0,731.9 754.9,731.9 755.8,731.9 756.8,731.9 757.7,731.9 758.7,731.9 759.6,731.9 760.5,731.9 761.5,731.9 762.4,732.0 763.4,732.0 764.3,732.0 765.2,732.0 766.2,732.0 767.1,732.0 768.1,732.0 769.0,732.0 769.9,732.0 770.9,732.0 771.8,732.0 772.8,732.0 773.7,732.0 774.6,732.0 775.6,732.0 776.5,732.0 777.5,732.0 778.4,732.0 779.3,732.0 780.3,732.0 781.2,732.1 782.2,732.1 783.1,732.1 784.1,732.1 785.0,732.1 785.9,732.1 786.9,732.1 787.8,732.1 788.8,732.1 789.7,732.1 790.6,732.1 791.6,732.1 792.5,732.1 793.5,732.1 794.4,732.1 795.3,732.1 796.3,732.1 797.2,732.1 798.2,732.1 799.1,732.1 800.0,732.1 801.0,732.2 801.9,732.2 802.9,732.2 803.8,732.2 804.7,732.2 805.7,732.2 806.6,732.2 807.6,732.2 808.5,732.2 809.4,732.2 810.4,732.2 811.3,732.2 812.3,732.2 813.2,732.2 814.1,732.2 815.1,732.2 816.0,732.2 817.0,732.2 817.9,732.2 818.9,732.2 819.8,732.2 820.7,732.2 821.7,732.2 822.6,732.2 823.6,732.3 824.5,732.3 825.4,732.3 826.4,732.3 827.3,732.3 828.3,732.3 829.2,732.3 830.1,732.3 831.1,732.3 832.0,732.3 833.0,732.3 833.9,732.3 834.8,732.3 835.8,732.3 836.7,732.3 837.7,732.3 838.6,732.3 839.6,732.3 840.5,732.3 841.4,732.3 842.4,732.3 843.3,732.3 844.3,732.3 845.2,732.3 846.1,732.3 847.1,732.3 848.0,732.4 849.0,732.4 849.9,732.4 850.8,732.4 851.8,732.4 852.7,732.4 853.7,732.4 854.6,732.4 855.6,732.4 856.5,732.4 857.4,732.4 858.4,732.4 859.3,732.4 860.3,732.4 861.2,732.4 862.1,732.4 863.1,732.4 864.0,732.4 865.0,732.4 865.9,732.4 866.8,732.4 867.8,732.4 868.7,732.4 869.7,732.4 870.6,732.4 871.6,732.4 872.5,732.4 873.4,732.4 874.4,732.4 875.3,732.5 876.3,732.5 877.2,732.5 878.1,732.5 879.1,732.5 880.0,732.5 881.0,732.5 881.9,732.5 882.8,732.5 883.8,732.5 884.7,732.5 885.7,732.5 886.6,732.5 887.6,732.5 888.5,732.5 889.4,732.5 890.4,732.5 891.3,732.5 892.3,732.5 893.2,732.5 894.1,732.5 895.1,732.5 896.0,732.5 897.0,732.5 897.9,732.5 898.9,732.5 899.8,732.5 900.7,732.5 901.7,732.5 902.6,732.5 903.6,732.5 904.5,732.5 905.4,732.5 906.4,732.5 907.3,732.6 908.3,732.6 909.2,732.6 910.2,732.6 911.1,732.6 912.0,732.6 913.0,732.6 913.9,732.6 914.9,732.6 915.8,732.6 916.7,732.6 917.7,732.6 918.6,732.6 919.6,732.6 920.5,732.6 921.4,732.6 922.4,732.6 923.3,732.6 924.3,732.6 925.2,732.6 926.2,732.6 927.1,732.6 928.0,732.6 929.0,732.6 929.9,732.6 930.9,732.6 931.8,732.6 932.7,732.6 933.7,732.6 934.6,732.6 935.6,732.6 936.5,732.6 937.5,732.6 938.4,732.6 939.3,732.6 940.3,732.6 941.2,732.6 942.2,732.6 943.1,732.7 944.0,732.7 945.0,732.7 945.9,732.7 946.9,732.7 947.8,732.7 948.8,732.7 949.7,732.7 950.6,732.7 951.6,732.7 952.5,732.7 953.5,732.7 954.4,732.7 955.3,732.7 956.3,732.7 957.2,732.7 958.2,732.7 959.1,732.7 960.1,732.7 961.0,732.7 961.9,732.7 962.9,732.7 963.8,732.7 964.8,732.7 965.7,732.7 966.6,732.7 967.6,732.7 968.5,732.7 969.5,732.7 970.4,732.7 971.4,732.7 972.3,732.7 973.2,732.7 974.2,732.7 975.1,732.7 976.1,732.7 977.0,732.7 977.9,732.7 978.9,732.7 979.8,732.7 980.8,732.7 981.7,732.7 982.7,732.7 983.6,732.7 984.5,732.7 985.5,732.8 986.4,732.8 987.4,732.8 988.3,732.8 989.2,732.8 990.2,732.8 991.1,732.8 992.1,732.8 993.0,732.8 994.0,732.8 994.9,732.8 995.8,732.8 996.8,732.8 997.7,732.8 998.7,732.8 999.6,732.8 1000.5,732.8 1001.5,732.8 1002.4,732.8 1003.4,732.8 1004.3,732.8 1005.3,732.8 1006.2,732.8 1007.1,732.8 1008.1,732.8 1009.0,732.8 1010.0,732.8 1010.9,732.8 1011.8,732.8 1012.8,732.8 1013.7,732.8 1014.7,732.8 1015.6,732.8 1016.6,732.8 1017.5,732.8 1018.4,732.8 1019.4,732.8 1020.3,732.8 1021.3,732.8 1022.2,732.8 1023.1,732.8 1024.1,732.8 1025.0,732.8 1026.0,732.8 1026.9,732.8 1027.9,732.8 1028.8,732.8 1029.7,732.8 1030.7,732.8 1031.6,732.8 1032.6,732.8 1033.5,732.8 1034.4,732.8 1035.4,732.8 1036.3,732.8 1037.3,732.8 1038.2,732.8 1039.2,732.8 1040.1,732.9 1041.0,732.9 1042.0,732.9 1042.9,732.9 1043.9,732.9 1044.8,732.9 1045.7,732.9 1046.7,732.9 1047.6,732.9 1048.6,732.9 1049.5,732.9 1050.5,732.9 1051.4,732.9 1052.3,732.9 1053.3,732.9 1054.2,732.9 1055.2,732.9 1056.1,732.9 1057.0,732.9 1058.0,732.9 1058.9,732.9 1059.9,732.9 1060.8,732.9 1061.8,732.9 1062.7,732.9 1063.6,732.9 1064.6,732.9 1065.5,732.9 1066.5,732.9 1067.4,732.9 1068.3,732.9 1069.3,732.9 1070.2,732.9 1071.2,732.9 1072.1,732.9 1073.1,732.9 1074.0,732.9 1074.9,732.9 1075.9,732.9 1076.8,732.9 1077.8,732.9 1078.7,732.9 1079.6,732.9 1080.6,732.9 1081.5,732.9 1082.5,732.9 1083.4,732.9 1084.3,732.9 1085.3,732.9 1086.2,732.9 1087.2,732.9 1088.1,732.9 1089.1,732.9 1090.0,732.9 1090.9,732.9 1091.9,732.9 1092.8,732.9 1093.8,732.9 1094.7,732.9 1095.6,732.9 1096.6,732.9 1097.5,732.9 1098.5,732.9 1099.4,732.9 1100.4,732.9 1101.3,732.9 1102.2,732.9 1103.2,732.9 1104.1,732.9 1105.1,732.9 1106.0,732.9 1106.9,732.9 1107.9,732.9 1108.8,732.9 1109.8,732.9 1110.7,732.9 1111.6,732.9 1112.6,732.9 1113.5,732.9 1114.5,732.9 1115.4,732.9 1116.4,732.9 1117.3,732.9 1118.2,732.9 1119.2,732.9 1120.1,732.9 1121.1,732.9 1122.0,732.9 1122.9,732.9 1123.9,732.9 1124.8,732.9 1125.8,732.9 1126.7,732.9 1127.6,732.9 1128.6,732.9 1129.5,732.9 1130.5,732.9 1131.4,732.9 1132.3,732.9 1133.3,732.9 1134.2,732.9 1135.2,732.9 1136.1,732.9 1137.1,732.9 1138.0,732.9 1138.9,732.9 1139.9,732.9 1140.8,732.9 1141.8,732.9 1142.7,732.9 1143.6,732.9 1144.6,732.9 1145.5,732.9 1146.5,732.9 1147.4,732.9 1148.3,732.9 1149.3,732.9 1150.2,732.9 1151.2,732.9 1152.1,732.9 1153.0,732.9 1154.0,732.9 1154.9,732.9 1155.9,732.9 1156.8,732.9 1157.8,732.9 1158.7,732.9 1159.6,732.9 1160.6,732.9 1161.5,732.9 1162.5,732.9 1163.4,732.9 1164.3,732.9 1165.3,732.9 1166.2,732.9 1167.2,732.9 1168.1,732.9 1169.0,732.9 1170.0,732.9 1170.9,732.9 1171.9,732.9 1172.8,732.9 1173.7,732.9 1174.7,732.9 1175.6,732.9 1176.6,732.9 1177.5,732.9 1178.4,732.9 1179.4,732.9 1180.3,732.9 1181.3,732.9 1182.2,732.9 1183.1,732.9 1184.1,732.9 1185.0,732.9 1186.0,732.9 1186.9,732.9 1187.9,732.9 1188.8,732.9 1189.7,732.9 1190.7,732.9 1191.6,732.9 1192.6,732.9 1193.5,732.9 1194.4,732.9 1195.4,732.9 1196.3,732.9 1197.3,732.9 1198.2,732.9 1199.1,732.9 1200.1,732.9 1201.0,732.9 1202.0,732.9 1202.9,732.9 1203.8,732.9 1204.8,732.9 1205.7,732.9 1206.7,732.9 1207.6,732.9 1208.5,732.9 1209.5,732.9 1210.4,732.9 1211.4,732.9 1212.3,732.9 1213.2,732.9 1214.2,732.9 1215.1,732.9 1216.1,732.9 1217.0,732.9 1217.9,732.9 1218.9,732.9 1219.8,732.9 1220.8,732.9 1221.7,732.9 1222.6,732.9 1223.6,732.9 1224.5,732.9 1225.5,732.9 1226.4,732.8 1227.3,732.8 1228.3,732.8 1229.2,732.8 1230.1,732.8 1231.1,732.8 1232.0,732.8 1233.0,732.8 1233.9,732.8 1234.8,732.8 1235.8,732.8 1236.7,732.8 1237.7,732.8 1238.6,732.8 1239.5,732.8 1240.5,732.8 1241.4,732.8 1242.4,732.8 1243.3,732.8 1244.2,732.8 1245.2,732.8 1246.1,732.8 1247.1,732.8 1248.0,732.8 1248.9,732.8 1249.9,732.8 1250.8,732.8 1251.8,732.8 1252.7,732.8 1253.6,732.8 1254.6,732.8 1255.5,732.8 1256.4,732.8 1257.4,732.8 1258.3,732.8 1259.3,732.7 1260.2,732.7 1261.1,732.7 1262.1,732.7 1263.0,732.7 1264.0,732.7 1264.9,732.7 1265.8,732.7 1266.8,732.7 1267.7,732.7 1268.7,732.7 1269.6,732.7 1270.5,732.7 1271.5,732.7 1272.4,732.7 1273.3,732.7 1274.3,732.7 1275.2,732.7 1276.2,732.7 1277.1,732.7 1278.0,732.7 1279.0,732.7 1279.9,732.7 1280.9,732.6 1281.8,732.6 1282.7,732.6 1283.7,732.6 1284.6,732.6 1285.5,732.6 1286.5,732.6 1287.4,732.6 1288.4,732.6 1289.3,732.6 1290.2,732.6 1291.2,732.6 1292.1,732.6 1293.0,732.6 1294.0,732.6 1294.9,732.6 1295.9,732.6 1296.8,732.6 1297.7,732.6 1298.7,732.5 1299.6,732.5 1300.6,732.5 1301.5,732.5 1302.4,732.5 1303.4,732.5 1304.3,732.5 1305.2,732.5 1306.2,732.5 1307.1,732.5 1308.1,732.5 1309.0,732.5 1309.9,732.5 1310.9,732.5 1311.8,732.5 1312.7,732.4 1313.7,732.4 1314.6,732.4 1315.5,732.4 1316.5,732.4 1317.4,732.4 1318.4,732.4 1319.3,732.4 1320.2,732.4 1321.2,732.4 1322.1,732.4 1323.0,732.4 1324.0,732.3 1324.9,732.3 1325.9,732.3 1326.8,732.3 1327.7,732.3 1328.7,732.3 1329.6,732.3 1330.5,732.3 1331.5,732.3 1332.4,732.3 1333.3,732.3 1334.3,732.2 1335.2,732.2 1336.2,732.2 1337.1,732.2 1338.0,732.2 1339.0,732.2 1339.9,732.2 1340.8,732.2 1341.8,732.2 1342.7,732.2 1343.6,732.1 1344.6,732.1 1345.5,732.1 1346.4,732.1 1347.4,732.1 1348.3,732.1 1349.3,732.1 1350.2,732.1 1351.1,732.1 1352.1,732.0 1353.0,732.0 1353.9,732.0 1354.9,732.0 1355.8,732.0 1356.7,732.0 1357.7,732.0 1358.6,732.0 1359.5,731.9 1360.5,731.9 1361.4,731.9 1362.3,731.9 1363.3,731.9 1364.2,731.9 1365.1,731.9 1366.1,731.8 1367.0,731.8 1367.9,731.8 1368.9,731.8 1369.8,731.8 1370.7,731.8 1371.7,731.8 1372.6,731.7 1373.5,731.7 1374.5,731.7 1375.4,731.7 1376.3,731.7 1377.3,731.7 1378.2,731.6 1379.1,731.6 1380.1,731.6 1381.0,731.6 1381.9,731.6 1382.9,731.6 1383.8,731.5 1384.7,731.5 1385.7,731.5 1386.6,731.5 1387.5,731.5 1388.5,731.4 1389.4,731.4 1390.3,731.4 1391.3,731.4 1392.2,731.4 1393.1,731.3 1394.1,731.3 1395.0,731.3 1395.9,731.3 1396.9,731.2 1397.8,731.2 1398.7,731.2 1399.7,731.2 1400.6,731.2 1401.5,731.1 1402.4,731.1 1403.4,731.1 1404.3,731.1 1405.2,731.0 1406.2,731.0 1407.1,731.0 1408.0,731.0 1409.0,730.9 1409.9,730.9 1410.8,730.9 1411.7,730.9 1412.7,730.8 1413.6,730.8 1414.5,730.8 1415.5,730.7 1416.4,730.7 1417.3,730.7 1418.2,730.7 1419.2,730.6 1420.1,730.6 1421.0,730.6 1422.0,730.5 1422.9,730.5 1423.8,730.5 1424.7,730.4 1425.7,730.4 1426.6,730.4 1427.5,730.3 1428.5,730.3 1429.4,730.3 1430.3,730.2 1431.2,730.2 1432.2,730.1 1433.1,730.1 1434.0,730.1 1434.9,730.0 1435.9,730.0 1436.8,730.0 1437.7,729.9 1438.6,729.9 1439.6,729.8 1440.5,729.8 1441.4,729.7 1442.3,729.7 1443.3,729.7 1444.2,729.6 1445.1,729.6 1446.0,729.5 1447.0,729.5 1447.9,729.4 1448.8,729.4 1449.7,729.3 1450.7,729.3 1451.6,729.2 1452.5,729.2 1453.4,729.1 1454.3,729.1 1455.3,729.0 1456.2,728.9 1457.1,728.9 1458.0,728.8 1458.9,728.8 1459.9,728.7 1460.8,728.6 1461.7,728.6 1462.6,728.5 1463.5,728.5 1464.5,728.4 1465.4,728.3 1466.3,728.3 1467.2,728.2 1468.1,728.1 1469.1,728.0 1470.0,728.0 1470.9,727.9 1471.8,727.8 1472.7,727.7 1473.6,727.7 1474.5,727.6 1475.5,727.5 1476.4,727.4 1477.3,727.3 1478.2,727.3 1479.1,727.2 1480.0,727.1 1480.9,727.0 1481.9,726.9 1482.8,726.8 1483.7,726.7 1484.6,726.6 1485.5,726.5 1486.4,726.4 1487.3,726.3 1488.2,726.2 1489.1,726.1 1490.1,726.0 1491.0,725.9 1491.9,725.8 1492.8,725.6 1493.7,725.5 1494.6,725.4 1495.5,725.3 1496.4,725.2 1497.3,725.0 1498.2,724.9 1499.1,724.8 1500.0,724.6 1500.9,724.5 1501.8,724.3 1502.7,724.2 1503.6,724.0 1504.5,723.9 1505.4,723.7 1506.3,723.6 1507.2,723.4 1508.1,723.2 1509.0,723.1 1509.9,722.9 1510.8,722.7 1511.7,722.5 1512.6,722.3 1513.5,722.1 1514.4,721.9 1515.3,721.7 1516.1,721.5 1517.0,721.3 1517.9,721.1 1518.8,720.9 1519.7,720.6 1520.6,720.4 1521.5,720.2 1522.3,719.9 1523.2,719.7 1524.1,719.4 1525.0,719.1 1525.9,718.9 1526.7,718.6 1527.6,718.3 1528.5,718.0 1529.4,717.7 1530.2,717.4 1531.1,717.1 1532.0,716.7 1532.9,716.4 1533.7,716.1 1534.6,715.7 1535.4,715.3 1536.3,715.0 1537.2,714.6 1538.0,714.2 1538.9,713.8 1539.7,713.3 1540.6,712.9 1541.4,712.4 1542.3,712.0 1543.1,711.5 1544.0,711.0 1544.8,710.5 1545.7,710.0 1546.5,709.4 1547.3,708.9 1548.2,708.3 1549.0,707.7 1549.8,707.1 1550.7,706.5 1551.5,705.8 1552.3,705.2 1553.1,704.5 1553.9,703.7 1554.8,703.0 1555.6,702.2 1556.4,701.4 1557.2,700.6 1558.0,699.7 1558.8,698.9 1559.6,697.9 1560.3,697.0 1561.1,696.0 1561.9,695.0 1562.7,694.0 1563.4,692.9 1564.2,691.7 1565.0,690.6 1565.7,689.3 1566.5,688.1 1567.2,686.8 1568.0,685.4 1568.7,684.0 1569.4,682.5 1570.1,681.0 1570.8,679.4 1571.6,677.8 1572.3,676.1 1572.9,674.3 1573.6,672.5 1574.3,670.6 1575.0,668.6 1575.6,666.6 1576.3,664.4 1576.9,662.2 1577.6,659.9 1578.2,657.5 1578.8,655.0 1579.4,652.4 1580.0,649.8 1580.6,647.0 1581.1,644.1 1581.7,641.1 1582.2,638.0 1582.7,634.8 1583.3,631.5 1583.8,628.0 1584.2,624.5 1584.7,620.8 1585.2,617.0 1585.6,613.0 1586.0,609.0 1586.4,604.8 1586.8,600.5 1587.2,596.1 1587.5,591.6 1587.8,586.9 1588.1,582.2 1588.4,577.3 1588.7,572.3 1588.9,567.3 1589.1,562.1 1589.3,556.9 1589.5,551.5 1589.7,546.1 1589.8,540.7 1589.9,535.2 1590.0,529.6 1590.1,524.0 1590.1,519.8" fill="none" stroke="#31a354" stroke-width="5.45" stroke-linecap="square" stroke-linejoin="round" clip-path="url(#clipa)" />
<polyline points="273.2,736.0 273.2,736.0 273.2,735.9 273.2,735.8 273.3,735.7 273.3,735.5 273.4,735.2 273.5,735.0 273.6,734.6 273.7,734.3 273.8,733.9 274.0,733.4 274.1,733.0 274.3,732.4 274.4,731.9 274.6,731.3 274.8,730.7 275.0,730.0 275.3,729.3 275.5,728.6 275.8,727.9 276.0,727.1 276.3,726.3 276.6,725.4 276.9,724.6 277.2,723.7 277.5,722.7 277.8,721.8 278.2,720.8 278.5,719.9 278.9,718.9 279.3,717.8 279.7,716.8 280.1,715.7 280.5,714.7 280.9,713.6 281.3,712.5 281.7,711.4 282.2,710.3 282.6,709.2 283.1,708.0 283.5,706.9 284.0,705.7 284.5,704.6 285.0,703.4 285.5,702.2 286.0,701.1 286.5,699.9 287.1,698.7 287.6,697.5 288.1,696.4 288.7,695.2 289.2,694.0 289.8,692.8 290.4,691.7 291.0,690.5 291.5,689.3 292.1,688.2 292.7,687.0 293.3,685.9 293.9,684.7 294.5,683.6 295.2,682.4 295.8,681.3 296.4,680.1 297.1,679.0 297.7,677.9 298.4,676.8 299.0,675.7 299.7,674.6 300.3,673.5 301.0,672.4 301.7,671.4 302.3,670.3 303.0,669.2 303.7,668.2 304.4,667.2 305.1,666.1 305.8,665.1 306.5,664.1 307.2,663.1 307.9,662.1 308.6,661.1 309.3,660.1 310.1,659.1 310.8,658.2 311.5,657.2 312.2,656.3 313.0,655.3 313.7,654.4 314.5,653.5 315.2,652.6 316.0,651.7 316.7,650.8 317.5,649.9 318.2,649.1 319.0,648.2 319.7,647.3 320.5,646.5 321.3,645.6 322.1,644.8 322.8,644.0 323.6,643.2 324.4,642.4 325.2,641.6 325.9,640.8 326.7,640.0 327.5,639.2 328.3,638.5 329.1,637.7 329.9,637.0 330.7,636.2 331.5,635.5 332.3,634.8 333.1,634.1 333.9,633.4 334.7,632.7 335.5,632.0 336.3,631.3 337.2,630.6 338.0,629.9 338.8,629.3 339.6,628.6 340.4,628.0 341.2,627.3 342.1,626.7 342.9,626.0 343.7,625.4 344.5,624.8 345.4,624.2 346.2,623.6 347.0,623.0 347.9,622.4 348.7,621.8 349.5,621.2 350.4,620.7 351.2,620.1 352.1,619.5 352.9,619.0 353.8,618.4 354.6,617.9 355.4,617.3 356.3,616.8 357.1,616.3 358.0,615.8 358.8,615.2 359.7,614.7 360.5,614.2 361.4,613.7 362.3,613.2 363.1,612.7 364.0,612.3 364.8,611.8 365.7,611.3 366.5,610.8 367.4,610.4 368.3,609.9 369.1,609.4 370.0,609.0 370.9,608.5 371.7,608.1 372.6,607.7 373.5,607.2 374.3,606.8 375.2,606.4 376.1,605.9 376.9,605.5 377.8,605.1 378.7,604.7 379.6,604.3 380.4,603.9 381.3,603.5 382.2,603.1 383.1,602.7 383.9,602.3 384.8,601.9 385.7,601.6 386.6,601.2 387.5,600.8 388.3,600.5 389.2,600.1 390.1,599.7 391.0,599.4 391.9,599.0 392.8,598.7 393.6,598.3 394.5,598.0 395.4,597.6 396.3,597.3 397.2,597.0 398.1,596.6 399.0,596.3 399.8,596.0 400.7,595.7 401.6,595.3 402.5,595.0 403.4,594.7 404.3,594.4 405.2,594.1 406.1,593.8 407.0,593.5 407.9,593.2 408.8,592.9 409.7,592.6 410.6,592.3 411.5,592.0 412.3,591.7 413.2,591.4 414.1,591.2 415.0,590.9 415.9,590.6 416.8,590.3 417.7,590.0 418.6,589.8 419.5,589.5 420.4,589.2 421.3,589.0 422.2,588.7 423.1,588.5 424.0,588.2 424.9,588.0 425.8,587.7 426.7,587.5 427.6,587.2 428.6,587.0 429.5,586.7 430.4,586.5 431.3,586.2 432.2,586.0 433.1,585.8 434.0,585.5 434.9,585.3 435.8,585.1 436.7,584.9 437.6,584.6 438.5,584.4 439.4,584.2 440.3,584.0 441.2,583.7 442.1,583.5 443.1,583.3 444.0,583.1 444.9,582.9 445.8,582.7 446.7,582.5 447.6,582.3 448.5,582.1 449.4,581.9 450.3,581.7 451.3,581.5 452.2,581.3 453.1,581.1 454.0,580.9 454.9,580.7 455.8,580.5 456.7,580.3 457.6,580.1 458.6,579.9 459.5,579.7 460.4,579.6 461.3,579.4 462.2,579.2 463.1,579.0 464.0,578.8 465.0,578.7 465.9,578.5 466.8,578.3 467.7,578.1 468.6,578.0 469.5,577.8 470.5,577.6 471.4,577.5 472.3,577.3 473.2,577.1 474.1,577.0 475.0,576.8 476.0,576.6 476.9,576.5 477.8,576.3 478.7,576.2 479.6,576.0 480.6,575.9 481.5,575.7 482.4,575.5 483.3,575.4 484.2,575.2 485.2,575.1 486.1,574.9 487.0,574.8 487.9,574.7 488.8,574.5 489.8,574.4 490.7,574.2 491.6,574.1 492.5,573.9 493.4,573.8 494.4,573.7 495.3,573.5 496.2,573.4 497.1,573.2 498.1,573.1 499.0,573.0 499.9,572.8 500.8,572.7 501.7,572.6 502.7,572.4 503.6,572.3 504.5,572.2 505.4,572.1 506.4,571.9 507.3,571.8 508.2,571.7 509.1,571.6 510.1,571.4 511.0,571.3 511.9,571.2 512.8,571.1 513.8,571.0 514.7,570.8 515.6,570.7 516.5,570.6 517.5,570.5 518.4,570.4 519.3,570.2 520.2,570.1 521.2,570.0 522.1,569.9 523.0,569.8 523.9,569.7 524.9,569.6 525.8,569.5 526.7,569.4 527.6,569.2 528.6,569.1 529.5,569.0 530.4,568.9 531.4,568.8 532.3,568.7 533.2,568.6 534.1,568.5 535.1,568.4 536.0,568.3 536.9,568.2 537.8,568.1 538.8,568.0 539.7,567.9 540.6,567.8 541.6,567.7 542.5,567.6 543.4,567.5 544.3,567.4 545.3,567.3 546.2,567.2 547.1,567.1 548.1,567.0 549.0,566.9 549.9,566.9 550.9,566.8 551.8,566.7 552.7,566.6 553.6,566.5 554.6,566.4 555.5,566.3 556.4,566.2 557.4,566.1 558.3,566.0 559.2,566.0 560.2,565.9 561.1,565.8 562.0,565.7 562.9,565.6 563.9,565.5 564.8,565.5 565.7,565.4 566.7,565.3 567.6,565.2 568.5,565.1 569.5,565.0 570.4,565.0 571.3,564.9 572.3,564.8 573.2,564.7 574.1,564.6 575.1,564.6 576.0,564.5 576.9,564.4 577.9,564.3 578.8,564.3 579.7,564.2 580.6,564.1 581.6,564.0 582.5,564.0 583.4,563.9 584.4,563.8 585.3,563.7 586.2,563.7 587.2,563.6 588.1,563.5 589.0,563.4 590.0,563.4 590.9,563.3 591.8,563.2 592.8,563.2 593.7,563.1 594.6,563.0 595.6,563.0 596.5,562.9 597.4,562.8 598.4,562.8 599.3,562.7 600.2,562.6 601.2,562.6 602.1,562.5 603.0,562.4 604.0,562.4 604.9,562.3 605.8,562.2 606.8,562.2 607.7,562.1 608.7,562.0 609.6,562.0 610.5,561.9 611.5,561.9 612.4,561.8 613.3,561.7 614.3,561.7 615.2,561.6 616.1,561.6 617.1,561.5 618.0,561.4 618.9,561.4 619.9,561.3 620.8,561.3 621.7,561.2 622.7,561.1 623.6,561.1 624.5,561.0 625.5,561.0 626.4,560.9 627.3,560.9 628.3,560.8 629.2,560.7 630.2,560.7 631.1,560.6 632.0,560.6 633.0,560.5 633.9,560.5 634.8,560.4 635.8,560.4 636.7,560.3 637.6,560.3 638.6,560.2 639.5,560.1 640.4,560.1 641.4,560.0 642.3,560.0 643.3,559.9 644.2,559.9 645.1,559.8 646.1,559.8 647.0,559.7 647.9,559.7 648.9,559.6 649.8,559.6 650.7,559.5 651.7,559.5 652.6,559.4 653.6,559.4 654.5,559.3 655.4,559.3 656.4,559.3 657.3,559.2 658.2,559.2 659.2,559.1 660.1,559.1 661.1,559.0 662.0,559.0 662.9,558.9 663.9,558.9 664.8,558.8 665.7,558.8 666.7,558.7 667.6,558.7 668.6,558.7 669.5,558.6 670.4,558.6 671.4,558.5 672.3,558.5 673.2,558.4 674.2,558.4 675.1,558.3 676.0,558.3 677.0,558.3 677.9,558.2 678.9,558.2 679.8,558.1 680.7,558.1 681.7,558.1 682.6,558.0 683.6,558.0 684.5,557.9 685.4,557.9 686.4,557.8 687.3,557.8 688.2,557.8 689.2,557.7 690.1,557.7 691.1,557.6 692.0,557.6 692.9,557.6 693.9,557.5 694.8,557.5 695.7,557.5 696.7,557.4 697.6,557.4 698.6,557.3 699.5,557.3 700.4,557.3 701.4,557.2 702.3,557.2 703.3,557.2 704.2,557.1 705.1,557.1 706.1,557.0 707.0,557.0 707.9,557.0 708.9,556.9 709.8,556.9 710.8,556.9 711.7,556.8 712.6,556.8 713.6,556.8 714.5,556.7 715.5,556.7 716.4,556.6 717.3,556.6 718.3,556.6 719.2,556.5 720.2,556.5 721.1,556.5 722.0,556.4 723.0,556.4 723.9,556.4 724.8,556.3 725.8,556.3 726.7,556.3 727.7,556.2 728.6,556.2 729.5,556.2 730.5,556.1 731.4,556.1 732.4,556.1 733.3,556.0 734.2,556.0 735.2,556.0 736.1,556.0 737.1,555.9 738.0,555.9 738.9,555.9 739.9,555.8 740.8,555.8 741.8,555.8 742.7,555.7 743.6,555.7 744.6,555.7 745.5,555.6 746.5,555.6 747.4,555.6 748.3,555.6 749.3,555.5 750.2,555.5 751.1,555.5 752.1,555.4 753.0,555.4 754.0,555.4 754.9,555.4 755.8,555.3 756.8,555.3 757.7,555.3 758.7,555.2 759.6,555.2 760.5,555.2 761.5,555.2 762.4,555.1 763.4,555.1 764.3,555.1 765.2,555.0 766.2,555.0 767.1,555.0 768.1,555.0 769.0,554.9 769.9,554.9 770.9,554.9 771.8,554.8 772.8,554.8 773.7,554.8 774.6,554.8 775.6,554.7 776.5,554.7 777.5,554.7 778.4,554.7 779.3,554.6 780.3,554.6 781.2,554.6 782.2,554.6 783.1,554.5 784.1,554.5 785.0,554.5 785.9,554.5 786.9,554.4 787.8,554.4 788.8,554.4 789.7,554.4 790.6,554.3 791.6,554.3 792.5,554.3 793.5,554.3 794.4,554.2 795.3,554.2 796.3,554.2 797.2,554.2 798.2,554.1 799.1,554.1 800.0,554.1 801.0,554.1 801.9,554.0 802.9,554.0 803.8,554.0 804.7,554.0 805.7,554.0 806.6,553.9 807.6,553.9 808.5,553.9 809.4,553.9 810.4,553.8 811.3,553.8 812.3,553.8 813.2,553.8 814.1,553.7 815.1,553.7 816.0,553.7 817.0,553.7 817.9,553.7 818.9,553.6 819.8,553.6 820.7,553.6 821.7,553.6 822.6,553.5 823.6,553.5 824.5,553.5 825.4,553.5 826.4,553.5 827.3,553.4 828.3,553.4 829.2,553.4 830.1,553.4 831.1,553.4 832.0,553.3 833.0,553.3 833.9,553.3 834.8,553.3 835.8,553.3 836.7,553.2 837.7,553.2 838.6,553.2 839.6,553.2 840.5,553.1 841.4,553.1 842.4,553.1 843.3,553.1 844.3,553.1 845.2,553.0 846.1,553.0 847.1,553.0 848.0,553.0 849.0,553.0 849.9,553.0 850.8,552.9 851.8,552.9 852.7,552.9 853.7,552.9 854.6,552.9 855.6,552.8 856.5,552.8 857.4,552.8 858.4,552.8 859.3,552.8 860.3,552.7 861.2,552.7 862.1,552.7 863.1,552.7 864.0,552.7 865.0,552.6 865.9,552.6 866.8,552.6 867.8,552.6 868.7,552.6 869.7,552.6 870.6,552.5 871.6,552.5 872.5,552.5 873.4,552.5 874.4,552.5 875.3,552.4 876.3,552.4 877.2,552.4 878.1,552.4 879.1,552.4 880.0,552.4 881.0,552.3 881.9,552.3 882.8,552.3 883.8,552.3 884.7,552.3 885.7,552.3 886.6,552.2 887.6,552.2 888.5,552.2 889.4,552.2 890.4,552.2 891.3,552.2 892.3,552.1 893.2,552.1 894.1,552.1 895.1,552.1 896.0,552.1 897.0,552.1 897.9,552.0 898.9,552.0 899.8,552.0 900.7,552.0 901.7,552.0 902.6,552.0 903.6,551.9 904.5,551.9 905.4,551.9 906.4,551.9 907.3,551.9 908.3,551.9 909.2,551.8 910.2,551.8 911.1,551.8 912.0,551.8 913.0,551.8 913.9,551.8 914.9,551.8 915.8,551.7 916.7,551.7 917.7,551.7 918.6,551.7 919.6,551.7 920.5,551.7 921.4,551.6 922.4,551.6 923.3,551.6 924.3,551.6 925.2,551.6 926.2,551.6 927.1,551.6 928.0,551.5 929.0,551.5 929.9,551.5 930.9,551.5 931.8,551.5 932.7,551.5 933.7,551.5 934.6,551.4 935.6,551.4 936.5,551.4 937.5,551.4 938.4,551.4 939.3,551.4 940.3,551.4 941.2,551.3 942.2,551.3 943.1,551.3 944.0,551.3 945.0,551.3 945.9,551.3 946.9,551.3 947.8,551.2 948.8,551.2 949.7,551.2 950.6,551.2 951.6,551.2 952.5,551.2 953.5,551.2 954.4,551.2 955.3,551.1 956.3,551.1 957.2,551.1 958.2,551.1 959.1,551.1 960.1,551.1 961.0,551.1 961.9,551.1 962.9,551.0 963.8,551.0 964.8,551.0 965.7,551.0 966.6,551.0 967.6,551.0 968.5,551.0 969.5,551.0 970.4,550.9 971.4,550.9 972.3,550.9 973.2,550.9 974.2,550.9 975.1,550.9 976.1,550.9 977.0,550.9 977.9,550.8 978.9,550.8 979.8,550.8 980.8,550.8 981.7,550.8 982.7,550.8 983.6,550.8 984.5,550.8 985.5,550.7 986.4,550.7 987.4,550.7 988.3,550.7 989.2,550.7 990.2,550.7 991.1,550.7 992.1,550.7 993.0,550.7 994.0,550.6 994.9,550.6 995.8,550.6 996.8,550.6 997.7,550.6 998.7,550.6 999.6,550.6 1000.5,550.6 1001.5,550.6 1002.4,550.5 1003.4,550.5 1004.3,550.5 1005.3,550.5 1006.2,550.5 1007.1,550.5 1008.1,550.5 1009.0,550.5 1010.0,550.5 1010.9,550.5 1011.8,550.4 1012.8,550.4 1013.7,550.4 1014.7,550.4 1015.6,550.4 1016.6,550.4 1017.5,550.4 1018.4,550.4 1019.4,550.4 1020.3,550.4 1021.3,550.3 1022.2,550.3 1023.1,550.3 1024.1,550.3 1025.0,550.3 1026.0,550.3 1026.9,550.3 1027.9,550.3 1028.8,550.3 1029.7,550.3 1030.7,550.3 1031.6,550.2 1032.6,550.2 1033.5,550.2 1034.4,550.2 1035.4,550.2 1036.3,550.2 1037.3,550.2 1038.2,550.2 1039.2,550.2 1040.1,550.2 1041.0,550.2 1042.0,550.1 1042.9,550.1 1043.9,550.1 1044.8,550.1 1045.7,550.1 1046.7,550.1 1047.6,550.1 1048.6,550.1 1049.5,550.1 1050.5,550.1 1051.4,550.1 1052.3,550.1 1053.3,550.1 1054.2,550.0 1055.2,550.0 1056.1,550.0 1057.0,550.0 1058.0,550.0 1058.9,550.0 1059.9,550.0 1060.8,550.0 1061.8,550.0 1062.7,550.0 1063.6,550.0 1064.6,550.0 1065.5,550.0 1066.5,550.0 1067.4,549.9 1068.3,549.9 1069.3,549.9 1070.2,549.9 1071.2,549.9 1072.1,549.9 1073.1,549.9 1074.0,549.9 1074.9,549.9 1075.9,549.9 1076.8,549.9 1077.8,549.9 1078.7,549.9 1079.6,549.9 1080.6,549.9 1081.5,549.9 1082.5,549.8 1083.4,549.8 1084.3,549.8 1085.3,549.8 1086.2,549.8 1087.2,549.8 1088.1,549.8 1089.1,549.8 1090.0,549.8 1090.9,549.8 1091.9,549.8 1092.8,549.8 1093.8,549.8 1094.7,549.8 1095.6,549.8 1096.6,549.8 1097.5,549.8 1098.5,549.8 1099.4,549.8 1100.4,549.8 1101.3,549.8 1102.2,549.7 1103.2,549.7 1104.1,549.7 1105.1,549.7 1106.0,549.7 1106.9,549.7 1107.9,549.7 1108.8,549.7 1109.8,549.7 1110.7,549.7 1111.6,549.7 1112.6,549.7 1113.5,549.7 1114.5,549.7 1115.4,549.7 1116.4,549.7 1117.3,549.7 1118.2,549.7 1119.2,549.7 1120.1,549.7 1121.1,549.7 1122.0,549.7 1122.9,549.7 1123.9,549.7 1124.8,549.7 1125.8,549.7 1126.7,549.7 1127.6,549.7 1128.6,549.7 1129.5,549.7 1130.5,549.7 1131.4,549.7 1132.3,549.7 1133.3,549.7 1134.2,549.7 1135.2,549.7 1136.1,549.7 1137.1,549.7 1138.0,549.7 1138.9,549.7 1139.9,549.7 1140.8,549.7 1141.8,549.7 1142.7,549.7 1143.6,549.7 1144.6,549.7 1145.5,549.7 1146.5,549.7 1147.4,549.7 1148.3,549.7 1149.3,549.7 1150.2,549.7 1151.2,549.7 1152.1,549.7 1153.0,549.7 1154.0,549.7 1154.9,549.7 1155.9,549.7 1156.8,549.7 1157.8,549.7 1158.7,549.7 1159.6,549.7 1160.6,549.7 1161.5,549.7 1162.5,549.7 1163.4,549.7 1164.3,549.7 1165.3,549.7 1166.2,549.7 1167.2,549.7 1168.1,549.7 1169.0,549.7 1170.0,549.7 1170.9,549.7 1171.9,549.7 1172.8,549.7 1173.7,549.7 1174.7,549.7 1175.6,549.7 1176.6,549.7 1177.5,549.7 1178.4,549.7 1179.4,549.7 1180.3,549.8 1181.3,549.8 1182.2,549.8 1183.1,549.8 1184.1,549.8 1185.0,549.8 1186.0,549.8 1186.9,549.8 1187.9,549.8 1188.8,549.8 1189.7,549.8 1190.7,549.8 1191.6,549.8 1192.6,549.8 1193.5,549.8 1194.4,549.8 1195.4,549.8 1196.3,549.9 1197.3,549.9 1198.2,549.9 1199.1,549.9 1200.1,549.9 1201.0,549.9 1202.0,549.9 1202.9,549.9 1203.8,549.9 1204.8,549.9 1205.7,549.9 1206.7,549.9 1207.6,550.0 1208.5,550.0 1209.5,550.0 1210.4,550.0 1211.4,550.0 1212.3,550.0 1213.2,550.0 1214.2,550.0 1215.1,550.0 1216.1,550.0 1217.0,550.1 1217.9,550.1 1218.9,550.1 1219.8,550.1 1220.8,550.1 1221.7,550.1 1222.6,550.1 1223.6,550.1 1224.5,550.1 1225.5,550.2 1226.4,550.2 1227.3,550.2 1228.3,550.2 1229.2,550.2 1230.1,550.2 1231.1,550.2 1232.0,550.3 1233.0,550.3 1233.9,550.3 1234.8,550.3 1235.8,550.3 1236.7,550.3 1237.7,550.3 1238.6,550.4 1239.5,550.4 1240.5,550.4 1241.4,550.4 1242.4,550.4 1243.3,550.4 1244.2,550.5 1245.2,550.5 1246.1,550.5 1247.1,550.5 1248.0,550.5 1248.9,550.5 1249.9,550.6 1250.8,550.6 1251.8,550.6 1252.7,550.6 1253.6,550.6 1254.6,550.7 1255.5,550.7 1256.4,550.7 1257.4,550.7 1258.3,550.7 1259.3,550.8 1260.2,550.8 1261.1,550.8 1262.1,550.8 1263.0,550.9 1264.0,550.9 1264.9,550.9 1265.8,550.9 1266.8,550.9 1267.7,551.0 1268.7,551.0 1269.6,551.0 1270.5,551.0 1271.5,551.1 1272.4,551.1 1273.3,551.1 1274.3,551.1 1275.2,551.2 1276.2,551.2 1277.1,551.2 1278.0,551.2 1279.0,551.3 1279.9,551.3 1280.9,551.3 1281.8,551.4 1282.7,551.4 1283.7,551.4 1284.6,551.4 1285.5,551.5 1286.5,551.5 1287.4,551.5 1288.4,551.6 1289.3,551.6 1290.2,551.6 1291.2,551.7 1292.1,551.7 1293.0,551.7 1294.0,551.8 1294.9,551.8 1295.9,551.8 1296.8,551.9 1297.7,551.9 1298.7,551.9 1299.6,552.0 1300.6,552.0 1301.5,552.0 1302.4,552.1 1303.4,552.1 1304.3,552.1 1305.2,552.2 1306.2,552.2 1307.1,552.2 1308.1,552.3 1309.0,552.3 1309.9,552.4 1310.9,552.4 1311.8,552.4 1312.7,552.5 1313.7,552.5 1314.6,552.6 1315.5,552.6 1316.5,552.6 1317.4,552.7 1318.4,552.7 1319.3,552.8 1320.2,552.8 1321.2,552.9 1322.1,552.9 1323.0,553.0 1324.0,553.0 1324.9,553.1 1325.9,553.1 1326.8,553.1 1327.7,553.2 1328.7,553.2 1329.6,553.3 1330.5,553.3 1331.5,553.4 1332.4,553.4 1333.3,553.5 1334.3,553.5 1335.2,553.6 1336.2,553.6 1337.1,553.7 1338.0,553.8 1339.0,553.8 1339.9,553.9 1340.8,553.9 1341.8,554.0 1342.7,554.0 1343.6,554.1 1344.6,554.2 1345.5,554.2 1346.4,554.3 1347.4,554.3 1348.3,554.4 1349.3,554.5 1350.2,554.5 1351.1,554.6 1352.1,554.6 1353.0,554.7 1353.9,554.8 1354.9,554.8 1355.8,554.9 1356.7,555.0 1357.7,555.0 1358.6,555.1 1359.5,555.2 1360.5,555.2 1361.4,555.3 1362.3,555.4 1363.3,555.5 1364.2,555.5 1365.1,555.6 1366.1,555.7 1367.0,555.7 1367.9,555.8 1368.9,555.9 1369.8,556.0 1370.7,556.1 1371.7,556.1 1372.6,556.2 1373.5,556.3 1374.5,556.4 1375.4,556.5 1376.3,556.5 1377.3,556.6 1378.2,556.7 1379.1,556.8 1380.1,556.9 1381.0,557.0 1381.9,557.1 1382.9,557.1 1383.8,557.2 1384.7,557.3 1385.7,557.4 1386.6,557.5 1387.5,557.6 1388.5,557.7 1389.4,557.8 1390.3,557.9 1391.3,558.0 1392.2,558.1 1393.1,558.2 1394.1,558.3 1395.0,558.4 1395.9,558.5 1396.9,558.6 1397.8,558.7 1398.7,558.8 1399.7,558.9 1400.6,559.0 1401.5,559.1 1402.4,559.3 1403.4,559.4 1404.3,559.5 1405.2,559.6 1406.2,559.7 1407.1,559.8 1408.0,560.0 1409.0,560.1 1409.9,560.2 1410.8,560.3 1411.7,560.5 1412.7,560.6 1413.6,560.7 1414.5,560.8 1415.5,561.0 1416.4,561.1 1417.3,561.2 1418.2,561.4 1419.2,561.5 1420.1,561.6 1421.0,561.8 1422.0,561.9 1422.9,562.1 1423.8,562.2 1424.7,562.4 1425.7,562.5 1426.6,562.7 1427.5,562.8 1428.5,563.0 1429.4,563.1 1430.3,563.3 1431.2,563.4 1432.2,563.6 1433.1,563.7 1434.0,563.9 1434.9,564.1 1435.9,564.2 1436.8,564.4 1437.7,564.6 1438.6,564.8 1439.6,564.9 1440.5,565.1 1441.4,565.3 1442.3,565.5 1443.3,565.7 1444.2,565.8 1445.1,566.0 1446.0,566.2 1447.0,566.4 1447.9,566.6 1448.8,566.8 1449.7,567.0 1450.7,567.2 1451.6,567.4 1452.5,567.6 1453.4,567.8 1454.3,568.1 1455.3,568.3 1456.2,568.5 1457.1,568.7 1458.0,568.9 1458.9,569.2 1459.9,569.4 1460.8,569.6 1461.7,569.9 1462.6,570.1 1463.5,570.3 1464.5,570.6 1465.4,570.8 1466.3,571.1 1467.2,571.3 1468.1,571.6 1469.1,571.8 1470.0,572.1 1470.9,572.4 1471.8,572.6 1472.7,572.9 1473.6,573.2 1474.5,573.5 1475.5,573.8 1476.4,574.1 1477.3,574.4 1478.2,574.6 1479.1,575.0 1480.0,575.3 1480.9,575.6 1481.9,575.9 1482.8,576.2 1483.7,576.5 1484.6,576.8 1485.5,577.2 1486.4,577.5 1487.3,577.9 1488.2,578.2 1489.1,578.5 1490.1,578.9 1491.0,579.3 1491.9,579.6 1492.8,580.0 1493.7,580.4 1494.6,580.8 1495.5,581.1 1496.4,581.5 1497.3,581.9 1498.2,582.3 1499.1,582.8 1500.0,583.2 1500.9,583.6 1501.8,584.0 1502.7,584.5 1503.6,584.9 1504.5,585.3 1505.4,585.8 1506.3,586.3 1507.2,586.7 1508.1,587.2 1509.0,587.7 1509.9,588.2 1510.8,588.7 1511.7,589.2 1512.6,589.7 1513.5,590.2 1514.4,590.8 1515.3,591.3 1516.1,591.9 1517.0,592.4 1517.9,593.0 1518.8,593.6 1519.7,594.1 1520.6,594.7 1521.5,595.4 1522.3,596.0 1523.2,596.6 1524.1,597.2 1525.0,597.9 1525.9,598.5 1526.7,599.2 1527.6,599.9 1528.5,600.6 1529.4,601.3 1530.2,602.0 1531.1,602.7 1532.0,603.5 1532.9,604.2 1533.7,605.0 1534.6,605.8 1535.4,606.6 1536.3,607.4 1537.2,608.2 1538.0,609.1 1538.9,609.9 1539.7,610.8 1540.6,611.7 1541.4,612.6 1542.3,613.5 1543.1,614.5 1544.0,615.4 1544.8,616.4 1545.7,617.4 1546.5,618.4 1547.3,619.4 1548.2,620.5 1549.0,621.5 1549.8,622.6 1550.7,623.7 1551.5,624.9 1552.3,626.0 1553.1,627.2 1553.9,628.4 1554.8,629.6 1555.6,630.9 1556.4,632.1 1557.2,633.4 1558.0,634.7 1558.8,636.1 1559.6,637.5 1560.3,638.8 1561.1,640.3 1561.9,641.7 1562.7,643.2 1563.4,644.7 1564.2,646.2 1565.0,647.8 1565.7,649.4 1566.5,651.0 1567.2,652.6 1568.0,654.3 1568.7,656.0 1569.4,657.7 1570.1,659.5 1570.8,661.3 1571.6,663.1 1572.3,665.0 1572.9,666.8 1573.6,668.7 1574.3,670.7 1575.0,672.6 1575.6,674.6 1576.3,676.6 1576.9,678.6 1577.6,680.7 1578.2,682.7 1578.8,684.8 1579.4,686.9 1580.0,689.0 1580.6,691.2 1581.1,693.3 1581.7,695.4 1582.2,697.6 1582.7,699.7 1583.3,701.8 1583.8,704.0 1584.2,706.1 1584.7,708.1 1585.2,710.2 1585.6,712.2 1586.0,714.2 1586.4,716.1 1586.8,718.0 1587.2,719.9 1587.5,721.6 1587.8,723.3 1588.1,724.9 1588.4,726.5 1588.7,727.9 1588.9,729.2 1589.1,730.5 1589.3,731.6 1589.5,732.6 1589.7,733.5 1589.8,734.3 1589.9,734.9 1590.0,735.4 1590.1,735.7 1590.1,735.9" fill="none" stroke="#756bb1" stroke-width="5.45" stroke-linecap="butt" stroke-linejoin="round" stroke-dasharray="20.17 8.72" clip-path="url(#clipa)" />
<polyline points="273.2,-3951.2 273.2,-3951.2 273.2,-3951.2 273.2,-3951.2 273.3,-3501.3 273.3,-2698.5 273.4,-2163.4 273.5,-1781.1 273.6,-1494.4 273.7,-1271.5 273.8,-1093.1 274.0,-947.2 274.1,-825.6 274.3,-722.7 274.4,-634.5 274.6,-558.1 274.8,-491.2 275.0,-432.2 275.3,-379.8 275.5,-332.9 275.8,-290.6 276.0,-252.4 276.3,-217.7 276.6,-186.0 276.9,-157.0 277.2,-130.2 277.5,-105.6 277.8,-82.7 278.2,-61.5 278.5,-41.8 278.9,-23.4 279.3,-6.1 279.7,10.0 280.1,25.2 280.5,39.5 280.9,52.9 281.3,65.7 281.7,77.7 282.2,89.1 282.6,99.9 283.1,110.1 283.5,119.9 284.0,129.2 284.5,138.0 285.0,146.5 285.5,154.6 286.0,162.3 286.5,169.7 287.1,176.8 287.6,183.6 288.1,190.1 288.7,196.4 289.2,202.4 289.8,208.2 290.4,213.7 291.0,219.1 291.5,224.3 292.1,229.3 292.7,234.1 293.3,238.8 293.9,243.3 294.5,247.6 295.2,251.9 295.8,255.9 296.4,259.9 297.1,263.7 297.7,267.4 298.4,271.0 299.0,274.5 299.7,277.9 300.3,281.2 301.0,284.4 301.7,287.5 302.3,290.5 303.0,293.5 303.7,296.3 304.4,299.1 305.1,301.8 305.8,304.5 306.5,307.0 307.2,309.6 307.9,312.0 308.6,314.4 309.3,316.7 310.1,319.0 310.8,321.2 311.5,323.4 312.2,325.5 313.0,327.5 313.7,329.6 314.5,331.5 315.2,333.5 316.0,335.4 316.7,337.2 317.5,339.0 318.2,340.8 319.0,342.5 319.7,344.2 320.5,345.9 321.3,347.5 322.1,349.1 322.8,350.6 323.6,352.2 324.4,353.6 325.2,355.1 325.9,356.6 326.7,358.0 327.5,359.4 328.3,360.7 329.1,362.0 329.9,363.3 330.7,364.6 331.5,365.9 332.3,367.1 333.1,368.3 333.9,369.5 334.7,370.7 335.5,371.9 336.3,373.0 337.2,374.1 338.0,375.2 338.8,376.3 339.6,377.3 340.4,378.4 341.2,379.4 342.1,380.4 342.9,381.4 343.7,382.4 344.5,383.3 345.4,384.3 346.2,385.2 347.0,386.1 347.9,387.0 348.7,387.9 349.5,388.7 350.4,389.6 351.2,390.4 352.1,391.3 352.9,392.1 353.8,392.9 354.6,393.7 355.4,394.5 356.3,395.2 357.1,396.0 358.0,396.8 358.8,397.5 359.7,398.2 360.5,398.9 361.4,399.6 362.3,400.3 363.1,401.0 364.0,401.7 364.8,402.4 365.7,403.0 366.5,403.7 367.4,404.3 368.3,405.0 369.1,405.6 370.0,406.2 370.9,406.8 371.7,407.4 372.6,408.0 373.5,408.6 374.3,409.2 375.2,409.7 376.1,410.3 376.9,410.9 377.8,411.4 378.7,411.9 379.6,412.5 380.4,413.0 381.3,413.5 382.2,414.0 383.1,414.6 383.9,415.1 384.8,415.6 385.7,416.0 386.6,416.5 387.5,417.0 388.3,417.5 389.2,418.0 390.1,418.4 391.0,418.9 391.9,419.3 392.8,419.8 393.6,420.2 394.5,420.7 395.4,421.1 396.3,421.5 397.2,421.9 398.1,422.3 399.0,422.8 399.8,423.2 400.7,423.6 401.6,424.0 402.5,424.4 403.4,424.8 404.3,425.1 405.2,425.5 406.1,425.9 407.0,426.3 407.9,426.6 408.8,427.0 409.7,427.4 410.6,427.7 411.5,428.1 412.3,428.4 413.2,428.8 414.1,429.1 415.0,429.5 415.9,429.8 416.8,430.1 417.7,430.5 418.6,430.8 419.5,431.1 420.4,431.4 421.3,431.7 422.2,432.1 423.1,432.4 424.0,432.7 424.9,433.0 425.8,433.3 426.7,433.6 427.6,433.9 428.6,434.2 429.5,434.5 430.4,434.7 431.3,435.0 432.2,435.3 433.1,435.6 434.0,435.9 434.9,436.1 435.8,436.4 436.7,436.7 437.6,436.9 438.5,437.2 439.4,437.5 440.3,437.7 441.2,438.0 442.1,438.2 443.1,438.5 444.0,438.7 444.9,439.0 445.8,439.2 446.7,439.5 447.6,439.7 448.5,439.9 449.4,440.2 450.3,440.4 451.3,440.6 452.2,440.9 453.1,441.1 454.0,441.3 454.9,441.5 455.8,441.8 456.7,442.0 457.6,442.2 458.6,442.4 459.5,442.6 460.4,442.8 461.3,443.0 462.2,443.3 463.1,443.5 464.0,443.7 465.0,443.9 465.9,444.1 466.8,444.3 467.7,444.5 468.6,444.7 469.5,444.9 470.5,445.1 471.4,445.2 472.3,445.4 473.2,445.6 474.1,445.8 475.0,446.0 476.0,446.2 476.9,446.4 477.8,446.5 478.7,446.7 479.6,446.9 480.6,447.1 481.5,447.2 482.4,447.4 483.3,447.6 484.2,447.8 485.2,447.9 486.1,448.1 487.0,448.3 487.9,448.4 488.8,448.6 489.8,448.8 490.7,448.9 491.6,449.1 492.5,449.2 493.4,449.4 494.4,449.5 495.3,449.7 496.2,449.9 497.1,450.0 498.1,450.2 499.0,450.3 499.9,450.5 500.8,450.6 501.7,450.8 502.7,450.9 503.6,451.0 504.5,451.2 505.4,451.3 506.4,451.5 507.3,451.6 508.2,451.8 509.1,451.9 510.1,452.0 511.0,452.2 511.9,452.3 512.8,452.4 513.8,452.6 514.7,452.7 515.6,452.8 516.5,453.0 517.5,453.1 518.4,453.2 519.3,453.3 520.2,453.5 521.2,453.6 522.1,453.7 523.0,453.8 523.9,454.0 524.9,454.1 525.8,454.2 526.7,454.3 527.6,454.5 528.6,454.6 529.5,454.7 530.4,454.8 531.4,454.9 532.3,455.0 533.2,455.2 534.1,455.3 535.1,455.4 536.0,455.5 536.9,455.6 537.8,455.7 538.8,455.8 539.7,455.9 540.6,456.0 541.6,456.2 542.5,456.3 543.4,456.4 544.3,456.5 545.3,456.6 546.2,456.7 547.1,456.8 548.1,456.9 549.0,457.0 549.9,457.1 550.9,457.2 551.8,457.3 552.7,457.4 553.6,457.5 554.6,457.6 555.5,457.7 556.4,457.8 557.4,457.9 558.3,458.0 559.2,458.1 560.2,458.2 561.1,458.3 562.0,458.3 562.9,458.4 563.9,458.5 564.8,458.6 565.7,458.7 566.7,458.8 567.6,458.9 568.5,459.0 569.5,459.1 570.4,459.2 571.3,459.2 572.3,459.3 573.2,459.4 574.1,459.5 575.1,459.6 576.0,459.7 576.9,459.8 577.9,459.8 578.8,459.9 579.7,460.0 580.6,460.1 581.6,460.2 582.5,460.2 583.4,460.3 584.4,460.4 585.3,460.5 586.2,460.6 587.2,460.6 588.1,460.7 589.0,460.8 590.0,460.9 590.9,460.9 591.8,461.0 592.8,461.1 593.7,461.2 594.6,461.2 595.6,461.3 596.5,461.4 597.4,461.5 598.4,461.5 599.3,461.6 600.2,461.7 601.2,461.8 602.1,461.8 603.0,461.9 604.0,462.0 604.9,462.0 605.8,462.1 606.8,462.2 607.7,462.2 608.7,462.3 609.6,462.4 610.5,462.4 611.5,462.5 612.4,462.6 613.3,462.6 614.3,462.7 615.2,462.8 616.1,462.8 617.1,462.9 618.0,463.0 618.9,463.0 619.9,463.1 620.8,463.2 621.7,463.2 622.7,463.3 623.6,463.3 624.5,463.4 625.5,463.5 626.4,463.5 627.3,463.6 628.3,463.7 629.2,463.7 630.2,463.8 631.1,463.8 632.0,463.9 633.0,463.9 633.9,464.0 634.8,464.1 635.8,464.1 636.7,464.2 637.6,464.2 638.6,464.3 639.5,464.3 640.4,464.4 641.4,464.5 642.3,464.5 643.3,464.6 644.2,464.6 645.1,464.7 646.1,464.7 647.0,464.8 647.9,464.8 648.9,464.9 649.8,464.9 650.7,465.0 651.7,465.1 652.6,465.1 653.6,465.2 654.5,465.2 655.4,465.3 656.4,465.3 657.3,465.4 658.2,465.4 659.2,465.5 660.1,465.5 661.1,465.6 662.0,465.6 662.9,465.7 663.9,465.7 664.8,465.8 665.7,465.8 666.7,465.9 667.6,465.9 668.6,465.9 669.5,466.0 670.4,466.0 671.4,466.1 672.3,466.1 673.2,466.2 674.2,466.2 675.1,466.3 676.0,466.3 677.0,466.4 677.9,466.4 678.9,466.5 679.8,466.5 680.7,466.5 681.7,466.6 682.6,466.6 683.6,466.7 684.5,466.7 685.4,466.8 686.4,466.8 687.3,466.8 688.2,466.9 689.2,466.9 690.1,467.0 691.1,467.0 692.0,467.1 692.9,467.1 693.9,467.1 694.8,467.2 695.7,467.2 696.7,467.3 697.6,467.3 698.6,467.3 699.5,467.4 700.4,467.4 701.4,467.5 702.3,467.5 703.3,467.5 704.2,467.6 705.1,467.6 706.1,467.7 707.0,467.7 707.9,467.7 708.9,467.8 709.8,467.8 710.8,467.9 711.7,467.9 712.6,467.9 713.6,468.0 714.5,468.0 715.5,468.0 716.4,468.1 717.3,468.1 718.3,468.2 719.2,468.2 720.2,468.2 721.1,468.3 722.0,468.3 723.0,468.3 723.9,468.4 724.8,468.4 725.8,468.4 726.7,468.5 727.7,468.5 728.6,468.5 729.5,468.6 730.5,468.6 731.4,468.6 732.4,468.7 733.3,468.7 734.2,468.7 735.2,468.8 736.1,468.8 737.1,468.8 738.0,468.9 738.9,468.9 739.9,468.9 740.8,469.0 741.8,469.0 742.7,469.0 743.6,469.1 744.6,469.1 745.5,469.1 746.5,469.2 747.4,469.2 748.3,469.2 749.3,469.3 750.2,469.3 751.1,469.3 752.1,469.4 753.0,469.4 754.0,469.4 754.9,469.5 755.8,469.5 756.8,469.5 757.7,469.5 758.7,469.6 759.6,469.6 760.5,469.6 761.5,469.7 762.4,469.7 763.4,469.7 764.3,469.8 765.2,469.8 766.2,469.8 767.1,469.8 768.1,469.9 769.0,469.9 769.9,469.9 770.9,470.0 771.8,470.0 772.8,470.0 773.7,470.0 774.6,470.1 775.6,470.1 776.5,470.1 777.5,470.2 778.4,470.2 779.3,470.2 780.3,470.2 781.2,470.3 782.2,470.3 783.1,470.3 784.1,470.3 785.0,470.4 785.9,470.4 786.9,470.4 787.8,470.4 788.8,470.5 789.7,470.5 790.6,470.5 791.6,470.6 792.5,470.6 793.5,470.6 794.4,470.6 795.3,470.7 796.3,470.7 797.2,470.7 798.2,470.7 799.1,470.8 800.0,470.8 801.0,470.8 801.9,470.8 802.9,470.9 803.8,470.9 804.7,470.9 805.7,470.9 806.6,471.0 807.6,471.0 808.5,471.0 809.4,471.0 810.4,471.1 811.3,471.1 812.3,471.1 813.2,471.1 814.1,471.1 815.1,471.2 816.0,471.2 817.0,471.2 817.9,471.2 818.9,471.3 819.8,471.3 820.7,471.3 821.7,471.3 822.6,471.4 823.6,471.4 824.5,471.4 825.4,471.4 826.4,471.4 827.3,471.5 828.3,471.5 829.2,471.5 830.1,471.5 831.1,471.6 832.0,471.6 833.0,471.6 833.9,471.6 834.8,471.6 835.8,471.7 836.7,471.7 837.7,471.7 838.6,471.7 839.6,471.8 840.5,471.8 841.4,471.8 842.4,471.8 843.3,471.8 844.3,471.9 845.2,471.9 846.1,471.9 847.1,471.9 848.0,471.9 849.0,472.0 849.9,472.0 850.8,472.0 851.8,472.0 852.7,472.0 853.7,472.1 854.6,472.1 855.6,472.1 856.5,472.1 857.4,472.1 858.4,472.2 859.3,472.2 860.3,472.2 861.2,472.2 862.1,472.2 863.1,472.3 864.0,472.3 865.0,472.3 865.9,472.3 866.8,472.3 867.8,472.4 868.7,472.4 869.7,472.4 870.6,472.4 871.6,472.4 872.5,472.5 873.4,472.5 874.4,472.5 875.3,472.5 876.3,472.5 877.2,472.5 878.1,472.6 879.1,472.6 880.0,472.6 881.0,472.6 881.9,472.6 882.8,472.7 883.8,472.7 884.7,472.7 885.7,472.7 886.6,472.7 887.6,472.7 888.5,472.8 889.4,472.8 890.4,472.8 891.3,472.8 892.3,472.8 893.2,472.9 894.1,472.9 895.1,472.9 896.0,472.9 897.0,472.9 897.9,472.9 898.9,473.0 899.8,473.0 900.7,473.0 901.7,473.0 902.6,473.0 903.6,473.0 904.5,473.1 905.4,473.1 906.4,473.1 907.3,473.1 908.3,473.1 909.2,473.1 910.2,473.2 911.1,473.2 912.0,473.2 913.0,473.2 913.9,473.2 914.9,473.2 915.8,473.3 916.7,473.3 917.7,473.3 918.6,473.3 919.6,473.3 920.5,473.3 921.4,473.3 922.4,473.4 923.3,473.4 924.3,473.4 925.2,473.4 926.2,473.4 927.1,473.4 928.0,473.5 929.0,473.5 929.9,473.5 930.9,473.5 931.8,473.5 932.7,473.5 933.7,473.5 934.6,473.6 935.6,473.6 936.5,473.6 937.5,473.6 938.4,473.6 939.3,473.6 940.3,473.7 941.2,473.7 942.2,473.7 943.1,473.7 944.0,473.7 945.0,473.7 945.9,473.7 946.9,473.8 947.8,473.8 948.8,473.8 949.7,473.8 950.6,473.8 951.6,473.8 952.5,473.8 953.5,473.9 954.4,473.9 955.3,473.9 956.3,473.9 957.2,473.9 958.2,473.9 959.1,473.9 960.1,473.9 961.0,474.0 961.9,474.0 962.9,474.0 963.8,474.0 964.8,474.0 965.7,474.0 966.6,474.0 967.6,474.1 968.5,474.1 969.5,474.1 970.4,474.1 971.4,474.1 972.3,474.1 973.2,474.1 974.2,474.1 975.1,474.2 976.1,474.2 977.0,474.2 977.9,474.2 978.9,474.2 979.8,474.2 980.8,474.2 981.7,474.2 982.7,474.3 983.6,474.3 984.5,474.3 985.5,474.3 986.4,474.3 987.4,474.3 988.3,474.3 989.2,474.3 990.2,474.4 991.1,474.4 992.1,474.4 993.0,474.4 994.0,474.4 994.9,474.4 995.8,474.4 996.8,474.4 997.7,474.4 998.7,474.5 999.6,474.5 1000.5,474.5 1001.5,474.5 1002.4,474.5 1003.4,474.5 1004.3,474.5 1005.3,474.5 1006.2,474.5 1007.1,474.6 1008.1,474.6 1009.0,474.6 1010.0,474.6 1010.9,474.6 1011.8,474.6 1012.8,474.6 1013.7,474.6 1014.7,474.6 1015.6,474.7 1016.6,474.7 1017.5,474.7 1018.4,474.7 1019.4,474.7 1020.3,474.7 1021.3,474.7 1022.2,474.7 1023.1,474.7 1024.1,474.7 1025.0,474.8 1026.0,474.8 1026.9,474.8 1027.9,474.8 1028.8,474.8 1029.7,474.8 1030.7,474.8 1031.6,474.8 1032.6,474.8 1033.5,474.8 1034.4,474.8 1035.4,474.9 1036.3,474.9 1037.3,474.9 1038.2,474.9 1039.2,474.9 1040.1,474.9 1041.0,474.9 1042.0,474.9 1042.9,474.9 1043.9,474.9 1044.8,474.9 1045.7,475.0 1046.7,475.0 1047.6,475.0 1048.6,475.0 1049.5,475.0 1050.5,475.0 1051.4,475.0 1052.3,475.0 1053.3,475.0 1054.2,475.0 1055.2,475.0 1056.1,475.0 1057.0,475.0 1058.0,475.1 1058.9,475.1 1059.9,475.1 1060.8,475.1 1061.8,475.1 1062.7,475.1 1063.6,475.1 1064.6,475.1 1065.5,475.1 1066.5,475.1 1067.4,475.1 1068.3,475.1 1069.3,475.1 1070.2,475.1 1071.2,475.2 1072.1,475.2 1073.1,475.2 1074.0,475.2 1074.9,475.2 1075.9,475.2 1076.8,475.2 1077.8,475.2 1078.7,475.2 1079.6,475.2 1080.6,475.2 1081.5,475.2 1082.5,475.2 1083.4,475.2 1084.3,475.2 1085.3,475.2 1086.2,475.3 1087.2,475.3 1088.1,475.3 1089.1,475.3 1090.0,475.3 1090.9,475.3 1091.9,475.3 1092.8,475.3 1093.8,475.3 1094.7,475.3 1095.6,475.3 1096.6,475.3 1097.5,475.3 1098.5,475.3 1099.4,475.3 1100.4,475.3 1101.3,475.3 1102.2,475.3 1103.2,475.3 1104.1,475.3 1105.1,475.3 1106.0,475.4 1106.9,475.4 1107.9,475.4 1108.8,475.4 1109.8,475.4 1110.7,475.4 1111.6,475.4 1112.6,475.4 1113.5,475.4 1114.5,475.4 1115.4,475.4 1116.4,475.4 1117.3,475.4 1118.2,475.4 1119.2,475.4 1120.1,475.4 1121.1,475.4 1122.0,475.4 1122.9,475.4 1123.9,475.4 1124.8,475.4 1125.8,475.4 1126.7,475.4 1127.6,475.4 1128.6,475.4 1129.5,475.4 1130.5,475.4 1131.4,475.4 1132.3,475.4 1133.3,475.4 1134.2,475.4 1135.2,475.4 1136.1,475.4 1137.1,475.4 1138.0,475.4 1138.9,475.4 1139.9,475.4 1140.8,475.4 1141.8,475.4 1142.7,475.4 1143.6,475.4 1144.6,475.4 1145.5,475.4 1146.5,475.4 1147.4,475.4 1148.3,475.4 1149.3,475.4 1150.2,475.4 1151.2,475.4 1152.1,475.4 1153.0,475.4 1154.0,475.4 1154.9,475.4 1155.9,475.4 1156.8,475.4 1157.8,475.4 1158.7,475.4 1159.6,475.4 1160.6,475.4 1161.5,475.4 1162.5,475.4 1163.4,475.4 1164.3,475.4 1165.3,475.4 1166.2,475.4 1167.2,475.4 1168.1,475.4 1169.0,475.4 1170.0,475.4 1170.9,475.4 1171.9,475.4 1172.8,475.4 1173.7,475.4 1174.7,475.4 1175.6,475.4 1176.6,475.4 1177.5,475.3 1178.4,475.3 1179.4,475.3 1180.3,475.3 1181.3,475.3 1182.2,475.3 1183.1,475.3 1184.1,475.3 1185.0,475.3 1186.0,475.3 1186.9,475.3 1187.9,475.3 1188.8,475.3 1189.7,475.3 1190.7,475.3 1191.6,475.3 1192.6,475.3 1193.5,475.2 1194.4,475.2 1195.4,475.2 1196.3,475.2 1197.3,475.2 1198.2,475.2 1199.1,475.2 1200.1,475.2 1201.0,475.2 1202.0,475.2 1202.9,475.2 1203.8,475.2 1204.8,475.1 1205.7,475.1 1206.7,475.1 1207.6,475.1 1208.5,475.1 1209.5,475.1 1210.4,475.1 1211.4,475.1 1212.3,475.1 1213.2,475.1 1214.2,475.0 1215.1,475.0 1216.1,475.0 1217.0,475.0 1217.9,475.0 1218.9,475.0 1219.8,475.0 1220.8,475.0 1221.7,475.0 1222.6,474.9 1223.6,474.9 1224.5,474.9 1225.5,474.9 1226.4,474.9 1227.3,474.9 1228.3,474.9 1229.2,474.8 1230.1,474.8 1231.1,474.8 1232.0,474.8 1233.0,474.8 1233.9,474.8 1234.8,474.8 1235.8,474.7 1236.7,474.7 1237.7,474.7 1238.6,474.7 1239.5,474.7 1240.5,474.7 1241.4,474.6 1242.4,474.6 1243.3,474.6 1244.2,474.6 1245.2,474.6 1246.1,474.6 1247.1,474.5 1248.0,474.5 1248.9,474.5 1249.9,474.5 1250.8,474.5 1251.8,474.4 1252.7,474.4 1253.6,474.4 1254.6,474.4 1255.5,474.4 1256.4,474.3 1257.4,474.3 1258.3,474.3 1259.3,474.3 1260.2,474.3 1261.1,474.2 1262.1,474.2 1263.0,474.2 1264.0,474.2 1264.9,474.1 1265.8,474.1 1266.8,474.1 1267.7,474.1 1268.7,474.0 1269.6,474.0 1270.5,474.0 1271.5,474.0 1272.4,473.9 1273.3,473.9 1274.3,473.9 1275.2,473.9 1276.2,473.8 1277.1,473.8 1278.0,473.8 1279.0,473.7 1279.9,473.7 1280.9,473.7 1281.8,473.7 1282.7,473.6 1283.7,473.6 1284.6,473.6 1285.5,473.5 1286.5,473.5 1287.4,473.5 1288.4,473.4 1289.3,473.4 1290.2,473.4 1291.2,473.3 1292.1,473.3 1293.0,473.3 1294.0,473.2 1294.9,473.2 1295.9,473.2 1296.8,473.1 1297.7,473.1 1298.7,473.1 1299.6,473.0 1300.6,473.0 1301.5,473.0 1302.4,472.9 1303.4,472.9 1304.3,472.8 1305.2,472.8 1306.2,472.8 1307.1,472.7 1308.1,472.7 1309.0,472.6 1309.9,472.6 1310.9,472.6 1311.8,472.5 1312.7,472.5 1313.7,472.4 1314.6,472.4 1315.5,472.3 1316.5,472.3 1317.4,472.3 1318.4,472.2 1319.3,472.2 1320.2,472.1 1321.2,472.1 1322.1,472.0 1323.0,472.0 1324.0,471.9 1324.9,471.9 1325.9,471.8 1326.8,471.8 1327.7,471.7 1328.7,471.7 1329.6,471.6 1330.5,471.6 1331.5,471.5 1332.4,471.5 1333.3,471.4 1334.3,471.4 1335.2,471.3 1336.2,471.2 1337.1,471.2 1338.0,471.1 1339.0,471.1 1339.9,471.0 1340.8,471.0 1341.8,470.9 1342.7,470.8 1343.6,470.8 1344.6,470.7 1345.5,470.7 1346.4,470.6 1347.4,470.5 1348.3,470.5 1349.3,470.4 1350.2,470.3 1351.1,470.3 1352.1,470.2 1353.0,470.1 1353.9,470.1 1354.9,470.0 1355.8,469.9 1356.7,469.9 1357.7,469.8 1358.6,469.7 1359.5,469.6 1360.5,469.6 1361.4,469.5 1362.3,469.4 1363.3,469.3 1364.2,469.3 1365.1,469.2 1366.1,469.1 1367.0,469.0 1367.9,469.0 1368.9,468.9 1369.8,468.8 1370.7,468.7 1371.7,468.6 1372.6,468.5 1373.5,468.5 1374.5,468.4 1375.4,468.3 1376.3,468.2 1377.3,468.1 1378.2,468.0 1379.1,467.9 1380.1,467.8 1381.0,467.7 1381.9,467.6 1382.9,467.6 1383.8,467.5 1384.7,467.4 1385.7,467.3 1386.6,467.2 1387.5,467.1 1388.5,467.0 1389.4,466.9 1390.3,466.8 1391.3,466.7 1392.2,466.5 1393.1,466.4 1394.1,466.3 1395.0,466.2 1395.9,466.1 1396.9,466.0 1397.8,465.9 1398.7,465.8 1399.7,465.7 1400.6,465.5 1401.5,465.4 1402.4,465.3 1403.4,465.2 1404.3,465.1 1405.2,464.9 1406.2,464.8 1407.1,464.7 1408.0,464.6 1409.0,464.4 1409.9,464.3 1410.8,464.2 1411.7,464.0 1412.7,463.9 1413.6,463.8 1414.5,463.6 1415.5,463.5 1416.4,463.3 1417.3,463.2 1418.2,463.0 1419.2,462.9 1420.1,462.7 1421.0,462.6 1422.0,462.4 1422.9,462.3 1423.8,462.1 1424.7,462.0 1425.7,461.8 1426.6,461.7 1427.5,461.5 1428.5,461.3 1429.4,461.2 1430.3,461.0 1431.2,460.8 1432.2,460.6 1433.1,460.5 1434.0,460.3 1434.9,460.1 1435.9,459.9 1436.8,459.7 1437.7,459.6 1438.6,459.4 1439.6,459.2 1440.5,459.0 1441.4,458.8 1442.3,458.6 1443.3,458.4 1444.2,458.2 1445.1,458.0 1446.0,457.8 1447.0,457.6 1447.9,457.3 1448.8,457.1 1449.7,456.9 1450.7,456.7 1451.6,456.5 1452.5,456.2 1453.4,456.0 1454.3,455.8 1455.3,455.5 1456.2,455.3 1457.1,455.1 1458.0,454.8 1458.9,454.6 1459.9,454.3 1460.8,454.0 1461.7,453.8 1462.6,453.5 1463.5,453.3 1464.5,453.0 1465.4,452.7 1466.3,452.4 1467.2,452.1 1468.1,451.9 1469.1,451.6 1470.0,451.3 1470.9,451.0 1471.8,450.7 1472.7,450.4 1473.6,450.1 1474.5,449.7 1475.5,449.4 1476.4,449.1 1477.3,448.8 1478.2,448.4 1479.1,448.1 1480.0,447.7 1480.9,447.4 1481.9,447.0 1482.8,446.7 1483.7,446.3 1484.6,445.9 1485.5,445.6 1486.4,445.2 1487.3,444.8 1488.2,444.4 1489.1,444.0 1490.1,443.6 1491.0,443.2 1491.9,442.8 1492.8,442.3 1493.7,441.9 1494.6,441.5 1495.5,441.0 1496.4,440.5 1497.3,440.1 1498.2,439.6 1499.1,439.1 1500.0,438.6 1500.9,438.2 1501.8,437.7 1502.7,437.1 1503.6,436.6 1504.5,436.1 1505.4,435.5 1506.3,435.0 1507.2,434.4 1508.1,433.9 1509.0,433.3 1509.9,432.7 1510.8,432.1 1511.7,431.5 1512.6,430.9 1513.5,430.2 1514.4,429.6 1515.3,428.9 1516.1,428.3 1517.0,427.6 1517.9,426.9 1518.8,426.2 1519.7,425.4 1520.6,424.7 1521.5,423.9 1522.3,423.2 1523.2,422.4 1524.1,421.6 1525.0,420.8 1525.9,419.9 1526.7,419.1 1527.6,418.2 1528.5,417.3 1529.4,416.4 1530.2,415.5 1531.1,414.5 1532.0,413.6 1532.9,412.6 1533.7,411.5 1534.6,410.5 1535.4,409.4 1536.3,408.4 1537.2,407.2 1538.0,406.1 1538.9,404.9 1539.7,403.7 1540.6,402.5 1541.4,401.2 1542.3,399.9 1543.1,398.6 1544.0,397.3 1544.8,395.9 1545.7,394.4 1546.5,393.0 1547.3,391.4 1548.2,389.9 1549.0,388.3 1549.8,386.6 1550.7,385.0 1551.5,383.2 1552.3,381.4 1553.1,379.6 1553.9,377.7 1554.8,375.7 1555.6,373.7 1556.4,371.6 1557.2,369.4 1558.0,367.2 1558.8,364.9 1559.6,362.5 1560.3,360.1 1561.1,357.5 1561.9,354.9 1562.7,352.1 1563.4,349.3 1564.2,346.4 1565.0,343.3 1565.7,340.1 1566.5,336.8 1567.2,333.4 1568.0,329.8 1568.7,326.1 1569.4,322.2 1570.1,318.2 1570.8,313.9 1571.6,309.5 1572.3,304.8 1572.9,300.0 1573.6,294.9 1574.3,289.5 1575.0,283.9 1575.6,277.9 1576.3,271.7 1576.9,265.1 1577.6,258.1 1578.2,250.7 1578.8,242.8 1579.4,234.4 1580.0,225.6 1580.6,216.1 1581.1,205.9 1581.7,195.0 1582.2,183.4 1582.7,170.8 1583.3,157.2 1583.8,142.5 1584.2,126.4 1584.7,109.0 1585.2,89.8 1585.6,68.8 1586.0,45.5 1586.4,19.6 1586.8,-9.3 1587.2,-41.9 1587.5,-78.8 1587.8,-120.9 1588.1,-169.6 1588.4,-226.4 1588.7,-293.5 1588.9,-374.0 1589.1,-472.5 1589.3,-595.5 1589.5,-753.8 1589.7,-964.8 1589.8,-1260.2 1589.9,-1703.3 1590.0,-2441.9 1590.1,-3919.2 1590.1,-3951.2" fill="none" stroke="#3182bd" stroke-width="5.45" stroke-linecap="butt" stroke-linejoin="round" stroke-dasharray="34.88 8.72 5.45 8.72" clip-path="url(#clipa)" />
<polyline points="273.2,511.2 273.2,509.7 273.2,506.6 273.2,503.5 273.3,500.4 273.3,497.3 273.4,494.2 273.5,491.1 273.6,488.0 273.7,484.9 273.8,481.8 274.0,478.7 274.1,475.6 274.3,472.5 274.4,469.4 274.6,466.3 274.8,463.2 275.0,460.1 275.3,457.0 275.5,453.9 275.8,450.8 276.0,447.7 276.3,444.6 276.6,441.5 276.9,438.4 277.2,435.3 277.5,432.2 277.8,429.1 278.2,426.1 278.5,423.0 278.9,419.9 279.3,416.8 279.7,413.7 280.1,410.6 280.5,407.5 280.9,404.5 281.3,401.4 281.7,398.3 282.2,395.2 282.6,392.2 283.1,389.1 283.5,386.0 284.0,382.9 284.5,379.9 285.0,376.8 285.5,373.7 286.0,370.7 286.5,367.6 287.1,364.5 287.6,361.5 288.1,358.4 288.7,355.4 289.2,352.3 289.8,349.3 290.4,346.2 291.0,343.2 291.5,340.1 292.1,337.1 292.7,334.0 293.3,331.0 293.9,328.0 294.5,324.9 295.2,321.9 295.8,318.9 296.4,315.8 297.1,312.8 297.7,309.8 298.4,306.7 299.0,303.7 299.7,300.7 300.3,297.7 301.0,294.7 301.7,291.7 302.3,288.7 303.0,285.7 303.7,282.7 304.4,279.7 305.1,276.7 305.8,273.7 306.5,270.7 307.2,267.7 307.9,264.7 308.6,261.7 309.3,258.7 310.1,255.8 310.8,252.8 311.5,249.8 312.2,246.8 313.0,243.9 313.7,240.9 314.5,238.0 315.2,235.0 316.0,232.0 316.7,229.1 317.5,226.1 318.2,223.2 319.0,220.3 319.7,217.3 320.5,214.4 321.3,211.5 322.1,208.5 322.8,205.6 323.6,202.7 324.4,199.8 325.2,196.9 325.9,194.0 326.7,191.0 327.5,188.1 328.3,185.2 329.1,182.3 329.9,179.5 330.7,176.6 331.5,173.7 332.3,170.8 333.1,167.9 333.9,165.1 334.7,162.2 335.5,159.3 336.3,156.5 337.2,153.6 338.0,150.7 338.8,147.9 339.6,145.1 340.4,142.2 341.2,139.4 342.1,136.5 342.9,133.7 343.7,130.9 344.5,128.1 345.4,125.2 346.2,122.4 347.0,119.6 347.9,116.8 348.7,114.0 349.5,111.2 350.4,108.4 351.2,105.6 352.1,102.9 352.9,100.1 353.8,97.3 354.6,94.5 355.4,91.8 356.3,89.0 357.1,86.2 358.0,83.5 358.8,80.7 359.7,78.0 360.5,75.3 361.4,72.5 362.3,69.8 363.1,67.1 364.0,64.4 364.8,61.6 365.7,58.9 366.5,56.2 367.4,53.5 368.3,50.8 369.1,48.1 370.0,45.4 370.9,42.8 371.7,40.1 372.6,37.4 373.5,34.7 374.3,32.1 375.2,29.4 376.1,26.8 376.9,24.1 377.8,21.5 378.7,18.8 379.6,16.2 380.4,13.6 381.3,10.9 382.2,8.3 383.1,5.7 383.9,3.1 384.8,0.5 385.7,-2.1 386.6,-4.7 387.5,-7.3 388.3,-9.9 389.2,-12.5 390.1,-15.0 391.0,-17.6 391.9,-20.2 392.8,-22.7 393.6,-25.3 394.5,-27.8 395.4,-30.4 396.3,-32.9 397.2,-35.4 398.1,-38.0 399.0,-40.5 399.8,-43.0 400.7,-45.5 401.6,-48.0 402.5,-50.5 403.4,-53.0 404.3,-55.5 405.2,-58.0 406.1,-60.5 407.0,-63.0 407.9,-65.4 408.8,-67.9 409.7,-70.4 410.6,-72.8 411.5,-75.3 412.3,-77.7 413.2,-80.1 414.1,-82.6 415.0,-85.0 415.9,-87.4 416.8,-89.8 417.7,-92.2 418.6,-94.6 419.5,-97.0 420.4,-99.4 421.3,-101.8 422.2,-104.2 423.1,-106.6 424.0,-109.0 424.9,-111.3 425.8,-113.7 426.7,-116.0 427.6,-118.4 428.6,-120.7 429.5,-123.1 430.4,-125.4 431.3,-127.7 432.2,-130.1 433.1,-132.4 434.0,-134.7 434.9,-137.0 435.8,-139.3 436.7,-141.6 437.6,-143.9 438.5,-146.2 439.4,-148.4 440.3,-150.7 441.2,-153.0 442.1,-155.2 443.1,-157.5 444.0,-159.7 444.9,-162.0 445.8,-164.2 446.7,-166.5 447.6,-168.7 448.5,-170.9 449.4,-173.1 450.3,-175.3 451.3,-177.5 452.2,-179.7 453.1,-181.9 454.0,-184.1 454.9,-186.3 455.8,-188.5 456.7,-190.6 457.6,-192.8 458.6,-195.0 459.5,-197.1 460.4,-199.3 461.3,-201.4 462.2,-203.5 463.1,-205.7 464.0,-207.8 465.0,-209.9 465.9,-212.0 466.8,-214.2 467.7,-216.3 468.6,-218.4 469.5,-220.4 470.5,-222.5 471.4,-224.6 472.3,-226.7 473.2,-228.8 474.1,-230.8 475.0,-232.9 476.0,-234.9 476.9,-237.0 477.8,-239.0 478.7,-241.1 479.6,-243.1 480.6,-245.1 481.5,-247.1 482.4,-249.1 483.3,-251.2 484.2,-253.2 485.2,-255.2 486.1,-257.1 487.0,-259.1 487.9,-261.1 488.8,-263.1 489.8,-265.1 490.7,-267.0 491.6,-269.0 492.5,-270.9 493.4,-272.9 494.4,-274.8 495.3,-276.8 496.2,-278.7 497.1,-280.6 498.1,-282.5 499.0,-284.4 499.9,-286.4 500.8,-288.3 501.7,-290.2 502.7,-292.0 503.6,-293.9 504.5,-295.8 505.4,-297.7 506.4,-299.6 507.3,-301.4 508.2,-303.3 509.1,-305.1 510.1,-307.0 511.0,-308.8 511.9,-310.7 512.8,-312.5 513.8,-314.3 514.7,-316.1 515.6,-318.0 516.5,-319.8 517.5,-321.6 518.4,-323.4 519.3,-325.2 520.2,-327.0 521.2,-328.7 522.1,-330.5 523.0,-332.3 523.9,-334.1 524.9,-335.8 525.8,-337.6 526.7,-339.3 527.6,-341.1 528.6,-342.8 529.5,-344.6 530.4,-346.3 531.4,-348.0 532.3,-349.7 533.2,-351.4 534.1,-353.2 535.1,-354.9 536.0,-356.6 536.9,-358.3 537.8,-359.9 538.8,-361.6 539.7,-363.3 540.6,-365.0 541.6,-366.6 542.5,-368.3 543.4,-370.0 544.3,-371.6 545.3,-373.3 546.2,-374.9 547.1,-376.5 548.1,-378.2 549.0,-379.8 549.9,-381.4 550.9,-383.0 551.8,-384.7 552.7,-386.3 553.6,-387.9 554.6,-389.5 555.5,-391.1 556.4,-392.6 557.4,-394.2 558.3,-395.8 559.2,-397.4 560.2,-398.9 561.1,-400.5 562.0,-402.1 562.9,-403.6 563.9,-405.2 564.8,-406.7 565.7,-408.2 566.7,-409.8 567.6,-411.3 568.5,-412.8 569.5,-414.3 570.4,-415.9 571.3,-417.4 572.3,-418.9 573.2,-420.4 574.1,-421.9 575.1,-423.4 576.0,-424.8 576.9,-426.3 577.9,-427.8 578.8,-429.3 579.7,-430.7 580.6,-432.2 581.6,-433.7 582.5,-435.1 583.4,-436.6 584.4,-438.0 585.3,-439.4 586.2,-440.9 587.2,-442.3 588.1,-443.7 589.0,-445.1 590.0,-446.6 590.9,-448.0 591.8,-449.4 592.8,-450.8 593.7,-452.2 594.6,-453.6 595.6,-455.0 596.5,-456.3 597.4,-457.7 598.4,-459.1 599.3,-460.5 600.2,-461.8 601.2,-463.2 602.1,-464.6 603.0,-465.9 604.0,-467.3 604.9,-468.6 605.8,-469.9 606.8,-471.3 607.7,-472.6 608.7,-473.9 609.6,-475.3 610.5,-476.6 611.5,-477.9 612.4,-479.2 613.3,-480.5 614.3,-481.8 615.2,-483.1 616.1,-484.4 617.1,-485.7 618.0,-487.0 618.9,-488.3 619.9,-489.5 620.8,-490.8 621.7,-492.1 622.7,-493.3 623.6,-494.6 624.5,-495.8 625.5,-497.1 626.4,-498.3 627.3,-499.6 628.3,-500.8 629.2,-502.1 630.2,-503.3 631.1,-504.5 632.0,-505.7 633.0,-507.0 633.9,-508.2 634.8,-509.4 635.8,-510.6 636.7,-511.8 637.6,-513.0 638.6,-514.2 639.5,-515.4 640.4,-516.6 641.4,-517.8 642.3,-518.9 643.3,-520.1 644.2,-521.3 645.1,-522.5 646.1,-523.6 647.0,-524.8 647.9,-526.0 648.9,-527.1 649.8,-528.3 650.7,-529.4 651.7,-530.5 652.6,-531.7 653.6,-532.8 654.5,-534.0 655.4,-535.1 656.4,-536.2 657.3,-537.3 658.2,-538.4 659.2,-539.6 660.1,-540.7 661.1,-541.8 662.0,-542.9 662.9,-544.0 663.9,-545.1 664.8,-546.2 665.7,-547.3 666.7,-548.3 667.6,-549.4 668.6,-550.5 669.5,-551.6 670.4,-552.6 671.4,-553.7 672.3,-554.8 673.2,-555.8 674.2,-556.9 675.1,-558.0 676.0,-559.0 677.0,-560.1 677.9,-561.1 678.9,-562.1 679.8,-563.2 680.7,-564.2 681.7,-565.2 682.6,-566.3 683.6,-567.3 684.5,-568.3 685.4,-569.3 686.4,-570.4 687.3,-571.4 688.2,-572.4 689.2,-573.4 690.1,-574.4 691.1,-575.4 692.0,-576.4 692.9,-577.4 693.9,-578.4 694.8,-579.3 695.7,-580.3 696.7,-581.3 697.6,-582.3 698.6,-583.3 699.5,-584.2 700.4,-585.2 701.4,-586.2 702.3,-587.1 703.3,-588.1 704.2,-589.0 705.1,-590.0 706.1,-590.9 707.0,-591.9 707.9,-592.8 708.9,-593.8 709.8,-594.7 710.8,-595.6 711.7,-596.6 712.6,-597.5 713.6,-598.4 714.5,-599.4 715.5,-600.3 716.4,-601.2 717.3,-602.1 718.3,-603.0 719.2,-603.9 720.2,-604.8 721.1,-605.7 722.0,-606.6 723.0,-607.5 723.9,-608.4 724.8,-609.3 725.8,-610.2 726.7,-611.1 727.7,-612.0 728.6,-612.9 729.5,-613.8 730.5,-614.6 731.4,-615.5 732.4,-616.4 733.3,-617.3 734.2,-618.1 735.2,-619.0 736.1,-619.8 737.1,-620.7 738.0,-621.6 738.9,-622.4 739.9,-623.3 740.8,-624.1 741.8,-625.0 742.7,-625.8 743.6,-626.6 744.6,-627.5 745.5,-628.3 746.5,-629.1 747.4,-630.0 748.3,-630.8 749.3,-631.6 750.2,-632.5 751.1,-633.3 752.1,-634.1 753.0,-634.9 754.0,-635.7 754.9,-636.5 755.8,-637.3 756.8,-638.1 757.7,-639.0 758.7,-639.8 759.6,-640.6 760.5,-641.4 761.5,-642.1 762.4,-642.9 763.4,-643.7 764.3,-644.5 765.2,-645.3 766.2,-646.1 767.1,-646.9 768.1,-647.6 769.0,-648.4 769.9,-649.2 770.9,-650.0 771.8,-650.7 772.8,-651.5 773.7,-652.3 774.6,-653.0 775.6,-653.8 776.5,-654.6 777.5,-655.3 778.4,-656.1 779.3,-656.8 780.3,-657.6 781.2,-658.3 782.2,-659.1 783.1,-659.8 784.1,-660.5 785.0,-661.3 785.9,-662.0 786.9,-662.8 787.8,-663.5 788.8,-664.2 789.7,-665.0 790.6,-665.7 791.6,-666.4 792.5,-667.1 793.5,-667.9 794.4,-668.6 795.3,-669.3 796.3,-670.0 797.2,-670.7 798.2,-671.4 799.1,-672.1 800.0,-672.8 801.0,-673.6 801.9,-674.3 802.9,-675.0 803.8,-675.7 804.7,-676.4 805.7,-677.0 806.6,-677.7 807.6,-678.4 808.5,-679.1 809.4,-679.8 810.4,-680.5 811.3,-681.2 812.3,-681.9 813.2,-682.5 814.1,-683.2 815.1,-683.9 816.0,-684.6 817.0,-685.3 817.9,-685.9 818.9,-686.6 819.8,-687.3 820.7,-687.9 821.7,-688.6 822.6,-689.3 823.6,-689.9 824.5,-690.6 825.4,-691.2 826.4,-691.9 827.3,-692.5 828.3,-693.2 829.2,-693.8 830.1,-694.5 831.1,-695.1 832.0,-695.8 833.0,-696.4 833.9,-697.1 834.8,-697.7 835.8,-698.3 836.7,-699.0 837.7,-699.6 838.6,-700.3 839.6,-700.9 840.5,-701.5 841.4,-702.1 842.4,-702.8 843.3,-703.4 844.3,-704.0 845.2,-704.6 846.1,-705.3 847.1,-705.9 848.0,-706.5 849.0,-707.1 849.9,-707.7 850.8,-708.3 851.8,-709.0 852.7,-709.6 853.7,-710.2 854.6,-710.8 855.6,-711.4 856.5,-712.0 857.4,-712.6 858.4,-713.2 859.3,-713.8 860.3,-714.4 861.2,-715.0 862.1,-715.6 863.1,-716.2 864.0,-716.7 865.0,-717.3 865.9,-717.9 866.8,-718.5 867.8,-719.1 868.7,-719.7 869.7,-720.3 870.6,-720.8 871.6,-721.4 872.5,-722.0 873.4,-722.6 874.4,-723.1 875.3,-723.7 876.3,-724.3 877.2,-724.9 878.1,-725.4 879.1,-726.0 880.0,-726.6 881.0,-727.1 881.9,-727.7 882.8,-728.2 883.8,-728.8 884.7,-729.4 885.7,-729.9 886.6,-730.5 887.6,-731.0 888.5,-731.6 889.4,-732.1 890.4,-732.7 891.3,-733.2 892.3,-733.8 893.2,-734.3 894.1,-734.9 895.1,-735.4 896.0,-735.9 897.0,-736.5 897.9,-737.0 898.9,-737.5 899.8,-738.1 900.7,-738.6 901.7,-739.1 902.6,-739.7 903.6,-740.2 904.5,-740.7 905.4,-741.3 906.4,-741.8 907.3,-742.3 908.3,-742.8 909.2,-743.3 910.2,-743.9 911.1,-744.4 912.0,-744.9 913.0,-745.4 913.9,-745.9 914.9,-746.4 915.8,-747.0 916.7,-747.5 917.7,-748.0 918.6,-748.5 919.6,-749.0 920.5,-749.5 921.4,-750.0 922.4,-750.5 923.3,-751.0 924.3,-751.5 925.2,-752.0 926.2,-752.5 927.1,-753.0 928.0,-753.5 929.0,-754.0 929.9,-754.5 930.9,-754.9 931.8,-755.4 932.7,-755.9 933.7,-756.4 934.6,-756.9 935.6,-757.4 936.5,-757.8 937.5,-758.3 938.4,-758.8 939.3,-759.3 940.3,-759.8 941.2,-760.2 942.2,-760.7 943.1,-761.2 944.0,-761.6 945.0,-762.1 945.9,-762.6 946.9,-763.0 947.8,-763.5 948.8,-764.0 949.7,-764.4 950.6,-764.9 951.6,-765.3 952.5,-765.8 953.5,-766.3 954.4,-766.7 955.3,-767.2 956.3,-767.6 957.2,-768.1 958.2,-768.5 959.1,-769.0 960.1,-769.4 961.0,-769.9 961.9,-770.3 962.9,-770.7 963.8,-771.2 964.8,-771.6 965.7,-772.1 966.6,-772.5 967.6,-772.9 968.5,-773.4 969.5,-773.8 970.4,-774.2 971.4,-774.6 972.3,-775.1 973.2,-775.5 974.2,-775.9 975.1,-776.3 976.1,-776.8 977.0,-777.2 977.9,-777.6 978.9,-778.0 979.8,-778.4 980.8,-778.9 981.7,-779.3 982.7,-779.7 983.6,-780.1 984.5,-780.5 985.5,-780.9 986.4,-781.3 987.4,-781.7 988.3,-782.1 989.2,-782.5 990.2,-782.9 991.1,-783.3 992.1,-783.7 993.0,-784.1 994.0,-784.5 994.9,-784.9 995.8,-785.3 996.8,-785.6 997.7,-786.0 998.7,-786.4 999.6,-786.8 1000.5,-787.2 1001.5,-787.6 1002.4,-787.9 1003.4,-788.3 1004.3,-788.7 1005.3,-789.1 1006.2,-789.4 1007.1,-789.8 1008.1,-790.2 1009.0,-790.5 1010.0,-790.9 1010.9,-791.3 1011.8,-791.6 1012.8,-792.0 1013.7,-792.3 1014.7,-792.7 1015.6,-793.1 1016.6,-793.4 1017.5,-793.8 1018.4,-794.1 1019.4,-794.5 1020.3,-794.8 1021.3,-795.1 1022.2,-795.5 1023.1,-795.8 1024.1,-796.2 1025.0,-796.5 1026.0,-796.8 1026.9,-797.2 1027.9,-797.5 1028.8,-797.8 1029.7,-798.2 1030.7,-798.5 1031.6,-798.8 1032.6,-799.1 1033.5,-799.4 1034.4,-799.8 1035.4,-800.1 1036.3,-800.4 1037.3,-800.7 1038.2,-801.0 1039.2,-801.3 1040.1,-801.6 1041.0,-801.9 1042.0,-802.2 1042.9,-802.5 1043.9,-802.8 1044.8,-803.1 1045.7,-803.4 1046.7,-803.7 1047.6,-804.0 1048.6,-804.3 1049.5,-804.6 1050.5,-804.9 1051.4,-805.2 1052.3,-805.4 1053.3,-805.7 1054.2,-806.0 1055.2,-806.3 1056.1,-806.5 1057.0,-806.8 1058.0,-807.1 1058.9,-807.3 1059.9,-807.6 1060.8,-807.9 1061.8,-808.1 1062.7,-808.4 1063.6,-808.6 1064.6,-808.9 1065.5,-809.1 1066.5,-809.4 1067.4,-809.6 1068.3,-809.9 1069.3,-810.1 1070.2,-810.3 1071.2,-810.6 1072.1,-810.8 1073.1,-811.0 1074.0,-811.3 1074.9,-811.5 1075.9,-811.7 1076.8,-811.9 1077.8,-812.2 1078.7,-812.4 1079.6,-812.6 1080.6,-812.8 1081.5,-813.0 1082.5,-813.2 1083.4,-813.4 1084.3,-813.6 1085.3,-813.8 1086.2,-814.0 1087.2,-814.2 1088.1,-814.4 1089.1,-814.6 1090.0,-814.8 1090.9,-814.9 1091.9,-815.1 1092.8,-815.3 1093.8,-815.5 1094.7,-815.6 1095.6,-815.8 1096.6,-816.0 1097.5,-816.1 1098.5,-816.3 1099.4,-816.5 1100.4,-816.6 1101.3,-816.8 1102.2,-816.9 1103.2,-817.1 1104.1,-817.2 1105.1,-817.3 1106.0,-817.5 1106.9,-817.6 1107.9,-817.7 1108.8,-817.9 1109.8,-818.0 1110.7,-818.1 1111.6,-818.2 1112.6,-818.3 1113.5,-818.5 1114.5,-818.6 1115.4,-818.7 1116.4,-818.8 1117.3,-818.9 1118.2,-819.0 1119.2,-819.1 1120.1,-819.1 1121.1,-819.2 1122.0,-819.3 1122.9,-819.4 1123.9,-819.5 1124.8,-819.5 1125.8,-819.6 1126.7,-819.7 1127.6,-819.7 1128.6,-819.8 1129.5,-819.8 1130.5,-819.9 1131.4,-819.9 1132.3,-820.0 1133.3,-820.0 1134.2,-820.1 1135.2,-820.1 1136.1,-820.1 1137.1,-820.1 1138.0,-820.2 1138.9,-820.2 1139.9,-820.2 1140.8,-820.2 1141.8,-820.2 1142.7,-820.2 1143.6,-820.2 1144.6,-820.2 1145.5,-820.2 1146.5,-820.2 1147.4,-820.2 1148.3,-820.2 1149.3,-820.1 1150.2,-820.1 1151.2,-820.1 1152.1,-820.0 1153.0,-820.0 1154.0,-819.9 1154.9,-819.9 1155.9,-819.8 1156.8,-819.8 1157.8,-819.7 1158.7,-819.6 1159.6,-819.6 1160.6,-819.5 1161.5,-819.4 1162.5,-819.3 1163.4,-819.2 1164.3,-819.1 1165.3,-819.0 1166.2,-818.9 1167.2,-818.8 1168.1,-818.7 1169.0,-818.6 1170.0,-818.5 1170.9,-818.4 1171.9,-818.2 1172.8,-818.1 1173.7,-817.9 1174.7,-817.8 1175.6,-817.7 1176.6,-817.5 1177.5,-817.3 1178.4,-817.2 1179.4,-817.0 1180.3,-816.8 1181.3,-816.6 1182.2,-816.5 1183.1,-816.3 1184.1,-816.1 1185.0,-815.9 1186.0,-815.7 1186.9,-815.4 1187.9,-815.2 1188.8,-815.0 1189.7,-814.8 1190.7,-814.5 1191.6,-814.3 1192.6,-814.1 1193.5,-813.8 1194.4,-813.6 1195.4,-813.3 1196.3,-813.0 1197.3,-812.8 1198.2,-812.5 1199.1,-812.2 1200.1,-811.9 1201.0,-811.6 1202.0,-811.3 1202.9,-811.0 1203.8,-810.7 1204.8,-810.4 1205.7,-810.0 1206.7,-809.7 1207.6,-809.4 1208.5,-809.0 1209.5,-808.7 1210.4,-808.3 1211.4,-808.0 1212.3,-807.6 1213.2,-807.2 1214.2,-806.8 1215.1,-806.5 1216.1,-806.1 1217.0,-805.7 1217.9,-805.2 1218.9,-804.8 1219.8,-804.4 1220.8,-804.0 1221.7,-803.6 1222.6,-803.1 1223.6,-802.7 1224.5,-802.2 1225.5,-801.8 1226.4,-801.3 1227.3,-800.8 1228.3,-800.3 1229.2,-799.8 1230.1,-799.3 1231.1,-798.8 1232.0,-798.3 1233.0,-797.8 1233.9,-797.3 1234.8,-796.8 1235.8,-796.2 1236.7,-795.7 1237.7,-795.1 1238.6,-794.6 1239.5,-794.0 1240.5,-793.4 1241.4,-792.8 1242.4,-792.2 1243.3,-791.6 1244.2,-791.0 1245.2,-790.4 1246.1,-789.8 1247.1,-789.2 1248.0,-788.5 1248.9,-787.9 1249.9,-787.2 1250.8,-786.6 1251.8,-785.9 1252.7,-785.2 1253.6,-784.5 1254.6,-783.8 1255.5,-783.1 1256.4,-782.4 1257.4,-781.7 1258.3,-781.0 1259.3,-780.3 1260.2,-779.5 1261.1,-778.8 1262.1,-778.0 1263.0,-777.2 1264.0,-776.4 1264.9,-775.7 1265.8,-774.9 1266.8,-774.0 1267.7,-773.2 1268.7,-772.4 1269.6,-771.6 1270.5,-770.7 1271.5,-769.9 1272.4,-769.0 1273.3,-768.2 1274.3,-767.3 1275.2,-766.4 1276.2,-765.5 1277.1,-764.6 1278.0,-763.7 1279.0,-762.7 1279.9,-761.8 1280.9,-760.9 1281.8,-759.9 1282.7,-758.9 1283.7,-758.0 1284.6,-757.0 1285.5,-756.0 1286.5,-755.0 1287.4,-754.0 1288.4,-753.0 1289.3,-751.9 1290.2,-750.9 1291.2,-749.8 1292.1,-748.8 1293.0,-747.7 1294.0,-746.6 1294.9,-745.5 1295.9,-744.4 1296.8,-743.3 1297.7,-742.1 1298.7,-741.0 1299.6,-739.9 1300.6,-738.7 1301.5,-737.5 1302.4,-736.4 1303.4,-735.2 1304.3,-734.0 1305.2,-732.7 1306.2,-731.5 1307.1,-730.3 1308.1,-729.0 1309.0,-727.8 1309.9,-726.5 1310.9,-725.2 1311.8,-723.9 1312.7,-722.6 1313.7,-721.3 1314.6,-720.0 1315.5,-718.7 1316.5,-717.3 1317.4,-715.9 1318.4,-714.6 1319.3,-713.2 1320.2,-711.8 1321.2,-710.4 1322.1,-709.0 1323.0,-707.5 1324.0,-706.1 1324.9,-704.6 1325.9,-703.1 1326.8,-701.7 1327.7,-700.2 1328.7,-698.7 1329.6,-697.1 1330.5,-695.6 1331.5,-694.1 1332.4,-692.5 1333.3,-690.9 1334.3,-689.4 1335.2,-687.8 1336.2,-686.2 1337.1,-684.5 1338.0,-682.9 1339.0,-681.3 1339.9,-679.6 1340.8,-677.9 1341.8,-676.2 1342.7,-674.5 1343.6,-672.8 1344.6,-671.1 1345.5,-669.4 1346.4,-667.6 1347.4,-665.8 1348.3,-664.1 1349.3,-662.3 1350.2,-660.5 1351.1,-658.6 1352.1,-656.8 1353.0,-655.0 1353.9,-653.1 1354.9,-651.2 1355.8,-649.3 1356.7,-647.4 1357.7,-645.5 1358.6,-643.6 1359.5,-641.6 1360.5,-639.7 1361.4,-637.7 1362.3,-635.7 1363.3,-633.7 1364.2,-631.7 1365.1,-629.7 1366.1,-627.6 1367.0,-625.6 1367.9,-623.5 1368.9,-621.4 1369.8,-619.3 1370.7,-617.2 1371.7,-615.0 1372.6,-612.9 1373.5,-610.7 1374.5,-608.5 1375.4,-606.3 1376.3,-604.1 1377.3,-601.9 1378.2,-599.7 1379.1,-597.4 1380.1,-595.1 1381.0,-592.9 1381.9,-590.6 1382.9,-588.2 1383.8,-585.9 1384.7,-583.6 1385.7,-581.2 1386.6,-578.8 1387.5,-576.4 1388.5,-574.0 1389.4,-571.6 1390.3,-569.2 1391.3,-566.7 1392.2,-564.2 1393.1,-561.7 1394.1,-559.2 1395.0,-556.7 1395.9,-554.2 1396.9,-551.6 1397.8,-549.1 1398.7,-546.5 1399.7,-543.9 1400.6,-541.3 1401.5,-538.6 1402.4,-536.0 1403.4,-533.3 1404.3,-530.6 1405.2,-527.9 1406.2,-525.2 1407.1,-522.5 1408.0,-519.7 1409.0,-517.0 1409.9,-514.2 1410.8,-511.4 1411.7,-508.6 1412.7,-505.7 1413.6,-502.9 1414.5,-500.0 1415.5,-497.2 1416.4,-494.3 1417.3,-491.3 1418.2,-488.4 1419.2,-485.5 1420.1,-482.5 1421.0,-479.5 1422.0,-476.5 1422.9,-473.5 1423.8,-470.5 1424.7,-467.4 1425.7,-464.4 1426.6,-461.3 1427.5,-458.2 1428.5,-455.1 1429.4,-451.9 1430.3,-448.8 1431.2,-445.6 1432.2,-442.4 1433.1,-439.2 1434.0,-436.0 1434.9,-432.8 1435.9,-429.5 1436.8,-426.2 1437.7,-422.9 1438.6,-419.6 1439.6,-416.3 1440.5,-413.0 1441.4,-409.6 1442.3,-406.2 1443.3,-402.9 1444.2,-399.4 1445.1,-396.0 1446.0,-392.6 1447.0,-389.1 1447.9,-385.6 1448.8,-382.1 1449.7,-378.6 1450.7,-375.1 1451.6,-371.5 1452.5,-368.0 1453.4,-364.4 1454.3,-360.8 1455.3,-357.2 1456.2,-353.5 1457.1,-349.9 1458.0,-346.2 1458.9,-342.5 1459.9,-338.8 1460.8,-335.1 1461.7,-331.4 1462.6,-327.6 1463.5,-323.8 1464.5,-320.0 1465.4,-316.2 1466.3,-312.4 1467.2,-308.6 1468.1,-304.7 1469.1,-300.8 1470.0,-296.9 1470.9,-293.0 1471.8,-289.1 1472.7,-285.2 1473.6,-281.2 1474.5,-277.2 1475.5,-273.2 1476.4,-269.2 1477.3,-265.2 1478.2,-261.1 1479.1,-257.1 1480.0,-253.0 1480.9,-248.9 1481.9,-244.8 1482.8,-240.7 1483.7,-236.5 1484.6,-232.3 1485.5,-228.2 1486.4,-224.0 1487.3,-219.8 1488.2,-215.5 1489.1,-211.3 1490.1,-207.0 1491.0,-202.7 1491.9,-198.4 1492.8,-194.1 1493.7,-189.8 1494.6,-185.5 1495.5,-181.1 1496.4,-176.7 1497.3,-172.3 1498.2,-167.9 1499.1,-163.5 1500.0,-159.1 1500.9,-154.6 1501.8,-150.1 1502.7,-145.6 1503.6,-141.1 1504.5,-136.6 1505.4,-132.1 1506.3,-127.5 1507.2,-123.0 1508.1,-118.4 1509.0,-113.8 1509.9,-109.2 1510.8,-104.6 1511.7,-99.9 1512.6,-95.3 1513.5,-90.6 1514.4,-85.9 1515.3,-81.2 1516.1,-76.5 1517.0,-71.7 1517.9,-67.0 1518.8,-62.2 1519.7,-57.5 1520.6,-52.7 1521.5,-47.9 1522.3,-43.1 1523.2,-38.2 1524.1,-33.4 1525.0,-28.5 1525.9,-23.7 1526.7,-18.8 1527.6,-13.9 1528.5,-9.0 1529.4,-4.0 1530.2,0.9 1531.1,5.8 1532.0,10.8 1532.9,15.8 1533.7,20.8 1534.6,25.8 1535.4,30.8 1536.3,35.8 1537.2,40.9 1538.0,45.9 1538.9,51.0 1539.7,56.1 1540.6,61.2 1541.4,66.3 1542.3,71.4 1543.1,76.5 1544.0,81.6 1544.8,86.8 1545.7,91.9 1546.5,97.1 1547.3,102.3 1548.2,107.5 1549.0,112.7 1549.8,117.9 1550.7,123.1 1551.5,128.4 1552.3,133.6 1553.1,138.9 1553.9,144.1 1554.8,149.4 1555.6,154.7 1556.4,160.0 1557.2,165.3 1558.0,170.6 1558.8,175.9 1559.6,181.3 1560.3,186.6 1561.1,192.0 1561.9,197.3 1562.7,202.7 1563.4,208.1 1564.2,213.5 1565.0,218.9 1565.7,224.3 1566.5,229.7 1567.2,235.1 1568.0,240.5 1568.7,246.0 1569.4,251.4 1570.1,256.9 1570.8,262.3 1571.6,267.8 1572.3,273.2 1572.9,278.7 1573.6,284.2 1574.3,289.7 1575.0,295.2 1575.6,300.7 1576.3,306.2 1576.9,311.7 1577.6,317.2 1578.2,322.8 1578.8,328.3 1579.4,333.8 1580.0,339.4 1580.6,344.9 1581.1,350.5 1581.7,356.0 1582.2,361.6 1582.7,367.1 1583.3,372.7 1583.8,378.3 1584.2,383.9 1584.7,389.4 1585.2,395.0 1585.6,400.6 1586.0,406.2 1586.4,411.8 1586.8,417.4 1587.2,423.0 1587.5,428.6 1587.8,434.2 1588.1,439.8 1588.4,445.4 1588.7,451.0 1588.9,456.6 1589.1,462.2 1589.3,467.9 1589.5,473.5 1589.7,479.1 1589.8,484.7 1589.9,490.3 1590.0,495.9 1590.1,501.6 1590.1,505.8" fill="none" stroke="#e6550d" stroke-width="5.45" stroke-linecap="butt" stroke-linejoin="round" stroke-dasharray="5.45 8.99" clip-path="url(#clipa)" />
<rect x="205.6" y="66.4" width="1421.7" height="781.2" fill="none" stroke="#000" stroke-width="3.33" stroke-linejoin="miter"/>
<line x1="191.0" y1="847.6" x2="205.6" y2="847.6" stroke="#000" stroke-width="3.33"/>
<line x1="197.3" y1="804.2" x2="205.6" y2="804.2" stroke="#000" stroke-width="2.5"/>
<line x1="197.3" y1="760.8" x2="205.6" y2="760.8" stroke="#000" stroke-width="2.5"/>
<line x1="197.3" y1="717.4" x2="205.6" y2="717.4" stroke="#000" stroke-width="2.5"/>
<line x1="191.0" y1="674.0" x2="205.6" y2="674.0" stroke="#000" stroke-width="3.33"/>
<line x1="197.3" y1="630.6" x2="205.6" y2="630.6" stroke="#000" stroke-width="2.5"/>
<line x1="197.3" y1="587.2" x2="205.6" y2="587.2" stroke="#000" stroke-width="2.5"/>
<line x1="197.3" y1="543.8" x2="205.6" y2="543.8" stroke="#000" stroke-width="2.5"/>
<line x1="191.0" y1="500.4" x2="205.6" y2="500.4" stroke="#000" stroke-width="3.33"/>
<line x1="197.3" y1="457.0" x2="205.6" y2="457.0" stroke="#000" stroke-width="2.5"/>
<line x1="197.3" y1="413.6" x2="205.6" y2="413.6" stroke="#000" stroke-width="2.5"/>
<line x1="197.3" y1="370.2" x2="205.6" y2="370.2" stroke="#000" stroke-width="2.5"/>
<line x1="191.0" y1="326.8" x2="205.6" y2="326.8" stroke="#000" stroke-width="3.33"/>
<line x1="197.3" y1="283.4" x2="205.6" y2="283.4" stroke="#000" stroke-width="2.5"/>
<line x1="197.3" y1="240.0" x2="205.6" y2="240.0" stroke="#000" stroke-width="2.5"/>
<line x1="197.3" y1="196.6" x2="205.6" y2="196.6" stroke="#000" stroke-width="2.5"/>
<line x1="191.0" y1="153.2" x2="205.6" y2="153.2" stroke="#000" stroke-width="3.33"/>
<line x1="197.3" y1="109.8" x2="205.6" y2="109.8" stroke="#000" stroke-width="2.5"/>
<line x1="1627.3" y1="847.6" x2="1635.6" y2="847.6" stroke="#000" stroke-width="2.5"/>
<line x1="1627.3" y1="736.0" x2="1641.9" y2="736.0" stroke="#000" stroke-width="3.33"/>
<line x1="1627.3" y1="624.4" x2="1635.6" y2="624.4" stroke="#000" stroke-width="2.5"/>
<line x1="1627.3" y1="512.8" x2="1641.9" y2="512.8" stroke="#000" stroke-width="3.33"/>
<line x1="1627.3" y1="401.2" x2="1635.6" y2="401.2" stroke="#000" stroke-width="2.5"/>
<line x1="1627.3" y1="289.6" x2="1641.9" y2="289.6" stroke="#000" stroke-width="3.33"/>
<line x1="1627.3" y1="178.0" x2="1635.6" y2="178.0" stroke="#000" stroke-width="2.5"/>
<line x1="1627.3" y1="66.4" x2="1641.9" y2="66.4" stroke="#000" stroke-width="3.33"/>
<line x1="205.6" y1="847.6" x2="205.6" y2="862.2" stroke="#000" stroke-width="3.33"/>
<line x1="442.5" y1="847.6" x2="442.5" y2="862.2" stroke="#000" stroke-width="3.33"/>
<line x1="679.5" y1="847.6" x2="679.5" y2="862.2" stroke="#000" stroke-width="3.33"/>
<line x1="916.5" y1="847.6" x2="916.5" y2="862.2" stroke="#000" stroke-width="3.33"/>
<line x1="1153.4" y1="847.6" x2="1153.4" y2="862.2" stroke="#000" stroke-width="3.33"/>
<line x1="1390.3" y1="847.6" x2="1390.3" y2="862.2" stroke="#000" stroke-width="3.33"/>
<line x1="1627.3" y1="847.6" x2="1627.3" y2="862.2" stroke="#000" stroke-width="3.33"/>
<line x1="205.6" y1="941.6" x2="205.6" y2="1723.0" stroke="#b0b0b0" stroke-width="3.0" stroke-dasharray="12.32 5.33"/>
<line x1="442.55" y1="941.6" x2="442.55" y2="1723.0" stroke="#b0b0b0" stroke-width="3.0" stroke-dasharray="12.32 5.33"/>
<line x1="679.5" y1="941.6" x2="679.5" y2="1723.0" stroke="#b0b0b0" stroke-width="3.0" stroke-dasharray="12.32 5.33"/>
<line x1="916.45" y1="941.6" x2="916.45" y2="1723.0" stroke="#b0b0b0" stroke-width="3.0" stroke-dasharray="12.32 5.33"/>
<line x1="1153.4" y1="941.6" x2="1153.4" y2="1723.0" stroke="#b0b0b0" stroke-width="3.0" stroke-dasharray="12.32 5.33"/>
<line x1="1390.35" y1="941.6" x2="1390.35" y2="1723.0" stroke="#b0b0b0" stroke-width="3.0" stroke-dasharray="12.32 5.33"/>
<line x1="1627.3" y1="941.6" x2="1627.3" y2="1723.0" stroke="#b0b0b0" stroke-width="3.0" stroke-dasharray="12.32 5.33"/>
<polyline points="1590.1,941.6 1590.1,954.1 1590.1,966.6 1590.0,979.1 1589.9,991.5 1589.8,1003.9 1589.7,1016.2 1589.5,1028.4 1589.3,1040.5 1589.1,1052.4 1588.9,1064.3 1588.7,1075.9 1588.4,1087.5 1588.1,1098.9 1587.8,1110.1 1587.5,1121.1 1587.2,1131.9 1586.8,1142.6 1586.4,1153.0 1586.0,1163.3 1585.6,1173.3 1585.2,1183.1 1584.7,1192.8 1584.2,1202.2 1583.8,1211.4 1583.3,1220.4 1582.7,1229.2 1582.2,1237.8 1581.7,1246.2 1581.1,1254.4 1580.6,1262.4 1580.0,1270.2 1579.4,1277.8 1578.8,1285.2 1578.2,1292.5 1577.6,1299.5 1576.9,1306.4 1576.3,1313.1 1575.6,1319.6 1575.0,1326.0 1574.3,1332.2 1573.6,1338.2 1572.9,1344.1 1572.3,1349.9 1571.6,1355.5 1570.8,1360.9 1570.1,1366.2 1569.4,1371.4 1568.7,1376.5 1568.0,1381.4 1567.2,1386.2 1566.5,1390.9 1565.7,1395.5 1565.0,1399.9 1564.2,1404.3 1563.4,1408.5 1562.7,1412.6 1561.9,1416.7 1561.1,1420.6 1560.3,1424.5 1559.6,1428.2 1558.8,1431.9 1558.0,1435.5 1557.2,1439.0 1556.4,1442.4 1555.6,1445.7 1554.8,1449.0 1553.9,1452.2 1553.1,1455.3 1552.3,1458.3 1551.5,1461.3 1550.7,1464.2 1549.8,1467.1 1549.0,1469.9 1548.2,1472.6 1547.3,1475.3 1546.5,1477.9 1545.7,1480.4 1544.8,1482.9 1544.0,1485.4 1543.1,1487.8 1542.3,1490.1 1541.4,1492.4 1540.6,1494.7 1539.7,1496.9 1538.9,1499.0 1538.0,1501.2 1537.2,1503.2 1536.3,1505.3 1535.4,1507.3 1534.6,1509.2 1533.7,1511.1 1532.9,1513.0 1532.0,1514.9 1531.1,1516.7 1530.2,1518.5 1529.4,1520.2 1528.5,1521.9 1527.6,1523.6 1526.7,1525.2 1525.9,1526.9 1525.0,1528.5 1524.1,1530.0 1523.2,1531.6 1522.3,1533.1 1521.5,1534.5 1520.6,1536.0 1519.7,1537.4 1518.8,1538.8 1517.9,1540.2 1517.0,1541.6 1516.1,1542.9 1515.3,1544.2 1514.4,1545.5 1513.5,1546.7 1512.6,1548.0 1511.7,1549.2 1510.8,1550.4 1509.9,1551.6 1509.0,1552.8 1508.1,1553.9 1507.2,1555.0 1506.3,1556.2 1505.4,1557.2 1504.5,1558.3 1503.6,1559.4 1502.7,1560.4 1501.8,1561.4 1500.9,1562.5 1500.0,1563.4 1499.1,1564.4 1498.2,1565.4 1497.3,1566.3 1496.4,1567.3 1495.5,1568.2 1494.6,1569.1 1493.7,1570.0 1492.8,1570.9 1491.9,1571.7 1491.0,1572.6 1490.1,1573.4 1489.1,1574.3 1488.2,1575.1 1487.3,1575.9 1486.4,1576.7 1485.5,1577.5 1484.6,1578.2 1483.7,1579.0 1482.8,1579.7 1481.9,1580.5 1480.9,1581.2 1480.0,1581.9 1479.1,1582.6 1478.2,1583.3 1477.3,1584.0 1476.4,1584.7 1475.5,1585.4 1474.5,1586.0 1473.6,1586.7 1472.7,1587.3 1471.8,1588.0 1470.9,1588.6 1470.0,1589.2 1469.1,1589.8 1468.1,1590.4 1467.2,1591.0 1466.3,1591.6 1465.4,1592.2 1464.5,1592.7 1463.5,1593.3 1462.6,1593.9 1461.7,1594.4 1460.8,1595.0 1459.9,1595.5 1458.9,1596.0 1458.0,1596.5 1457.1,1597.1 1456.2,1597.6 1455.3,1598.1 1454.3,1598.6 1453.4,1599.1 1452.5,1599.5 1451.6,1600.0 1450.7,1600.5 1449.7,1601.0 1448.8,1601.4 1447.9,1601.9 1447.0,1602.3 1446.0,1602.8 1445.1,1603.2 1444.2,1603.6 1443.3,1604.1 1442.3,1604.5 1441.4,1604.9 1440.5,1605.3 1439.6,1605.7 1438.6,1606.1 1437.7,1606.5 1436.8,1606.9 1435.9,1607.3 1434.9,1607.7 1434.0,1608.1 1433.1,1608.4 1432.2,1608.8 1431.2,1609.2 1430.3,1609.5 1429.4,1609.9 1428.5,1610.3 1427.5,1610.6 1426.6,1610.9 1425.7,1611.3 1424.7,1611.6 1423.8,1612.0 1422.9,1612.3 1422.0,1612.6 1421.0,1612.9 1420.1,1613.3 1419.2,1613.6 1418.2,1613.9 1417.3,1614.2 1416.4,1614.5 1415.5,1614.8 1414.5,1615.1 1413.6,1615.4 1412.7,1615.7 1411.7,1616.0 1410.8,1616.3 1409.9,1616.5 1409.0,1616.8 1408.0,1617.1 1407.1,1617.4 1406.2,1617.6 1405.2,1617.9 1404.3,1618.2 1403.4,1618.4 1402.4,1618.7 1401.5,1618.9 1400.6,1619.2 1399.7,1619.4 1398.7,1619.7 1397.8,1619.9 1396.9,1620.2 1395.9,1620.4 1395.0,1620.7 1394.1,1620.9 1393.1,1621.1 1392.2,1621.3 1391.3,1621.6 1390.3,1621.8 1389.4,1622.0 1388.5,1622.2 1387.5,1622.5 1386.6,1622.7 1385.7,1622.9 1384.7,1623.1 1383.8,1623.3 1382.9,1623.5 1381.9,1623.7 1381.0,1623.9 1380.1,1624.1 1379.1,1624.3 1378.2,1624.5 1377.3,1624.7 1376.3,1624.9 1375.4,1625.1 1374.5,1625.3 1373.5,1625.4 1372.6,1625.6 1371.7,1625.8 1370.7,1626.0 1369.8,1626.2 1368.9,1626.3 1367.9,1626.5 1367.0,1626.7 1366.1,1626.9 1365.1,1627.0 1364.2,1627.2 1363.3,1627.4 1362.3,1627.5 1361.4,1627.7 1360.5,1627.8 1359.5,1628.0 1358.6,1628.1 1357.7,1628.3 1356.7,1628.5 1355.8,1628.6 1354.9,1628.8 1353.9,1628.9 1353.0,1629.1 1352.1,1629.2 1351.1,1629.3 1350.2,1629.5 1349.3,1629.6 1348.3,1629.8 1347.4,1629.9 1346.4,1630.0 1345.5,1630.2 1344.6,1630.3 1343.6,1630.4 1342.7,1630.6 1341.8,1630.7 1340.8,1630.8 1339.9,1630.9 1339.0,1631.1 1338.0,1631.2 1337.1,1631.3 1336.2,1631.4 1335.2,1631.6 1334.3,1631.7 1333.3,1631.8 1332.4,1631.9 1331.5,1632.0 1330.5,1632.1 1329.6,1632.3 1328.7,1632.4 1327.7,1632.5 1326.8,1632.6 1325.9,1632.7 1324.9,1632.8 1324.0,1632.9 1323.0,1633.0 1322.1,1633.1 1321.2,1633.2 1320.2,1633.3 1319.3,1633.4 1318.4,1633.5 1317.4,1633.6 1316.5,1633.7 1315.5,1633.8 1314.6,1633.9 1313.7,1634.0 1312.7,1634.1 1311.8,1634.2 1310.9,1634.3 1309.9,1634.4 1309.0,1634.4 1308.1,1634.5 1307.1,1634.6 1306.2,1634.7 1305.2,1634.8 1304.3,1634.9 1303.4,1635.0 1302.4,1635.0 1301.5,1635.1 1300.6,1635.2 1299.6,1635.3 1298.7,1635.4 1297.7,1635.4 1296.8,1635.5 1295.9,1635.6 1294.9,1635.7 1294.0,1635.7 1293.0,1635.8 1292.1,1635.9 1291.2,1636.0 1290.2,1636.0 1289.3,1636.1 1288.4,1636.2 1287.4,1636.2 1286.5,1636.3 1285.5,1636.4 1284.6,1636.4 1283.7,1636.5 1282.7,1636.6 1281.8,1636.6 1280.9,1636.7 1279.9,1636.8 1279.0,1636.8 1278.0,1636.9 1277.1,1636.9 1276.2,1637.0 1275.2,1637.1 1274.3,1637.1 1273.3,1637.2 1272.4,1637.2 1271.5,1637.3 1270.5,1637.4 1269.6,1637.4 1268.7,1637.5 1267.7,1637.5 1266.8,1637.6 1265.8,1637.6 1264.9,1637.7 1264.0,1637.7 1263.0,1637.8 1262.1,1637.8 1261.1,1637.9 1260.2,1637.9 1259.3,1638.0 1258.3,1638.0 1257.4,1638.1 1256.4,1638.1 1255.5,1638.2 1254.6,1638.2 1253.6,1638.2 1252.7,1638.3 1251.8,1638.3 1250.8,1638.4 1249.9,1638.4 1248.9,1638.5 1248.0,1638.5 1247.1,1638.5 1246.1,1638.6 1245.2,1638.6 1244.2,1638.7 1243.3,1638.7 1242.4,1638.7 1241.4,1638.8 1240.5,1638.8 1239.5,1638.8 1238.6,1638.9 1237.7,1638.9 1236.7,1639.0 1235.8,1639.0 1234.8,1639.0 1233.9,1639.1 1233.0,1639.1 1232.0,1639.1 1231.1,1639.2 1230.1,1639.2 1229.2,1639.2 1228.3,1639.2 1227.3,1639.3 1226.4,1639.3 1225.5,1639.3 1224.5,1639.4 1223.6,1639.4 1222.6,1639.4 1221.7,1639.4 1220.8,1639.5 1219.8,1639.5 1218.9,1639.5 1217.9,1639.6 1217.0,1639.6 1216.1,1639.6 1215.1,1639.6 1214.2,1639.7 1213.2,1639.7 1212.3,1639.7 1211.4,1639.7 1210.4,1639.7 1209.5,1639.8 1208.5,1639.8 1207.6,1639.8 1206.7,1639.8 1205.7,1639.8 1204.8,1639.9 1203.8,1639.9 1202.9,1639.9 1202.0,1639.9 1201.0,1639.9 1200.1,1640.0 1199.1,1640.0 1198.2,1640.0 1197.3,1640.0 1196.3,1640.0 1195.4,1640.0 1194.4,1640.1 1193.5,1640.1 1192.6,1640.1 1191.6,1640.1 1190.7,1640.1 1189.7,1640.1 1188.8,1640.2 1187.9,1640.2 1186.9,1640.2 1186.0,1640.2 1185.0,1640.2 1184.1,1640.2 1183.1,1640.2 1182.2,1640.2 1181.3,1640.3 1180.3,1640.3 1179.4,1640.3 1178.4,1640.3 1177.5,1640.3 1176.6,1640.3 1175.6,1640.3 1174.7,1640.3 1173.7,1640.3 1172.8,1640.3 1171.9,1640.4 1170.9,1640.4 1170.0,1640.4 1169.0,1640.4 1168.1,1640.4 1167.2,1640.4 1166.2,1640.4 1165.3,1640.4 1164.3,1640.4 1163.4,1640.4 1162.5,1640.4 1161.5,1640.4 1160.6,1640.4 1159.6,1640.4 1158.7,1640.4 1157.8,1640.4 1156.8,1640.4 1155.9,1640.4 1154.9,1640.5 1154.0,1640.5 1153.0,1640.5 1152.1,1640.5 1151.2,1640.5 1150.2,1640.5 1149.3,1640.5 1148.3,1640.5 1147.4,1640.5 1146.5,1640.5 1145.5,1640.5 1144.6,1640.5 1143.6,1640.5 1142.7,1640.5 1141.8,1640.5 1140.8,1640.5 1139.9,1640.5 1138.9,1640.5 1138.0,1640.5 1137.1,1640.5 1136.1,1640.5 1135.2,1640.5 1134.2,1640.5 1133.3,1640.5 1132.3,1640.5 1131.4,1640.5 1130.5,1640.5 1129.5,1640.4 1128.6,1640.4 1127.6,1640.4 1126.7,1640.4 1125.8,1640.4 1124.8,1640.4 1123.9,1640.4 1122.9,1640.4 1122.0,1640.4 1121.1,1640.4 1120.1,1640.4 1119.2,1640.4 1118.2,1640.4 1117.3,1640.4 1116.4,1640.4 1115.4,1640.4 1114.5,1640.4 1113.5,1640.4 1112.6,1640.4 1111.6,1640.4 1110.7,1640.3 1109.8,1640.3 1108.8,1640.3 1107.9,1640.3 1106.9,1640.3 1106.0,1640.3 1105.1,1640.3 1104.1,1640.3 1103.2,1640.3 1102.2,1640.3 1101.3,1640.3 1100.4,1640.3 1099.4,1640.2 1098.5,1640.2 1097.5,1640.2 1096.6,1640.2 1095.6,1640.2 1094.7,1640.2 1093.8,1640.2 1092.8,1640.2 1091.9,1640.2 1090.9,1640.2 1090.0,1640.1 1089.1,1640.1 1088.1,1640.1 1087.2,1640.1 1086.2,1640.1 1085.3,1640.1 1084.3,1640.1 1083.4,1640.1 1082.5,1640.0 1081.5,1640.0 1080.6,1640.0 1079.6,1640.0 1078.7,1640.0 1077.8,1640.0 1076.8,1640.0 1075.9,1640.0 1074.9,1639.9 1074.0,1639.9 1073.1,1639.9 1072.1,1639.9 1071.2,1639.9 1070.2,1639.9 1069.3,1639.9 1068.3,1639.8 1067.4,1639.8 1066.5,1639.8 1065.5,1639.8 1064.6,1639.8 1063.6,1639.8 1062.7,1639.7 1061.8,1639.7 1060.8,1639.7 1059.9,1639.7 1058.9,1639.7 1058.0,1639.7 1057.0,1639.6 1056.1,1639.6 1055.2,1639.6 1054.2,1639.6 1053.3,1639.6 1052.3,1639.6 1051.4,1639.5 1050.5,1639.5 1049.5,1639.5 1048.6,1639.5 1047.6,1639.5 1046.7,1639.5 1045.7,1639.4 1044.8,1639.4 1043.9,1639.4 1042.9,1639.4 1042.0,1639.4 1041.0,1639.3 1040.1,1639.3 1039.2,1639.3 1038.2,1639.3 1037.3,1639.3 1036.3,1639.2 1035.4,1639.2 1034.4,1639.2 1033.5,1639.2 1032.6,1639.2 1031.6,1639.1 1030.7,1639.1 1029.7,1639.1 1028.8,1639.1 1027.9,1639.1 1026.9,1639.0 1026.0,1639.0 1025.0,1639.0 1024.1,1639.0 1023.1,1639.0 1022.2,1638.9 1021.3,1638.9 1020.3,1638.9 1019.4,1638.9 1018.4,1638.9 1017.5,1638.8 1016.6,1638.8 1015.6,1638.8 1014.7,1638.8 1013.7,1638.7 1012.8,1638.7 1011.8,1638.7 1010.9,1638.7 1010.0,1638.7 1009.0,1638.6 1008.1,1638.6 1007.1,1638.6 1006.2,1638.6 1005.3,1638.5 1004.3,1638.5 1003.4,1638.5 1002.4,1638.5 1001.5,1638.4 1000.5,1638.4 999.6,1638.4 998.7,1638.4 997.7,1638.3 996.8,1638.3 995.8,1638.3 994.9,1638.3 994.0,1638.2 993.0,1638.2 992.1,1638.2 991.1,1638.2 990.2,1638.1 989.2,1638.1 988.3,1638.1 987.4,1638.1 986.4,1638.0 985.5,1638.0 984.5,1638.0 983.6,1638.0 982.7,1637.9 981.7,1637.9 980.8,1637.9 979.8,1637.9 978.9,1637.8 977.9,1637.8 977.0,1637.8 976.1,1637.7 975.1,1637.7 974.2,1637.7 973.2,1637.7 972.3,1637.6 971.4,1637.6 970.4,1637.6 969.5,1637.6 968.5,1637.5 967.6,1637.5 966.6,1637.5 965.7,1637.4 964.8,1637.4 963.8,1637.4 962.9,1637.4 961.9,1637.3 961.0,1637.3 960.1,1637.3 959.1,1637.2 958.2,1637.2 957.2,1637.2 956.3,1637.1 955.3,1637.1 954.4,1637.1 953.5,1637.1 952.5,1637.0 951.6,1637.0 950.6,1637.0 949.7,1636.9 948.8,1636.9 947.8,1636.9 946.9,1636.8 945.9,1636.8 945.0,1636.8 944.0,1636.8 943.1,1636.7 942.2,1636.7 941.2,1636.7 940.3,1636.6 939.3,1636.6 938.4,1636.6 937.5,1636.5 936.5,1636.5 935.6,1636.5 934.6,1636.4 933.7,1636.4 932.7,1636.4 931.8,1636.3 930.9,1636.3 929.9,1636.3 929.0,1636.2 928.0,1636.2 927.1,1636.2 926.2,1636.1 925.2,1636.1 924.3,1636.1 923.3,1636.0 922.4,1636.0 921.4,1636.0 920.5,1635.9 919.6,1635.9 918.6,1635.9 917.7,1635.8 916.7,1635.8 915.8,1635.8 914.9,1635.7 913.9,1635.7 913.0,1635.7 912.0,1635.6 911.1,1635.6 910.2,1635.6 909.2,1635.5 908.3,1635.5 907.3,1635.5 906.4,1635.4 905.4,1635.4 904.5,1635.3 903.6,1635.3 902.6,1635.3 901.7,1635.2 900.7,1635.2 899.8,1635.2 898.9,1635.1 897.9,1635.1 897.0,1635.1 896.0,1635.0 895.1,1635.0 894.1,1634.9 893.2,1634.9 892.3,1634.9 891.3,1634.8 890.4,1634.8 889.4,1634.7 888.5,1634.7 887.6,1634.7 886.6,1634.6 885.7,1634.6 884.7,1634.6 883.8,1634.5 882.8,1634.5 881.9,1634.4 881.0,1634.4 880.0,1634.4 879.1,1634.3 878.1,1634.3 877.2,1634.2 876.3,1634.2 875.3,1634.2 874.4,1634.1 873.4,1634.1 872.5,1634.0 871.6,1634.0 870.6,1634.0 869.7,1633.9 868.7,1633.9 867.8,1633.8 866.8,1633.8 865.9,1633.8 865.0,1633.7 864.0,1633.7 863.1,1633.6 862.1,1633.6 861.2,1633.5 860.3,1633.5 859.3,1633.5 858.4,1633.4 857.4,1633.4 856.5,1633.3 855.6,1633.3 854.6,1633.2 853.7,1633.2 852.7,1633.2 851.8,1633.1 850.8,1633.1 849.9,1633.0 849.0,1633.0 848.0,1632.9 847.1,1632.9 846.1,1632.8 845.2,1632.8 844.3,1632.8 843.3,1632.7 842.4,1632.7 841.4,1632.6 840.5,1632.6 839.6,1632.5 838.6,1632.5 837.7,1632.4 836.7,1632.4 835.8,1632.3 834.8,1632.3 833.9,1632.2 833.0,1632.2 832.0,1632.2 831.1,1632.1 830.1,1632.1 829.2,1632.0 828.3,1632.0 827.3,1631.9 826.4,1631.9 825.4,1631.8 824.5,1631.8 823.6,1631.7 822.6,1631.7 821.7,1631.6 820.7,1631.6 819.8,1631.5 818.9,1631.5 817.9,1631.4 817.0,1631.4 816.0,1631.3 815.1,1631.3 814.1,1631.2 813.2,1631.2 812.3,1631.1 811.3,1631.1 810.4,1631.0 809.4,1631.0 808.5,1630.9 807.6,1630.9 806.6,1630.8 805.7,1630.8 804.7,1630.7 803.8,1630.7 802.9,1630.6 801.9,1630.5 801.0,1630.5 800.0,1630.4 799.1,1630.4 798.2,1630.3 797.2,1630.3 796.3,1630.2 795.3,1630.2 794.4,1630.1 793.5,1630.1 792.5,1630.0 791.6,1629.9 790.6,1629.9 789.7,1629.8 788.8,1629.8 787.8,1629.7 786.9,1629.7 785.9,1629.6 785.0,1629.5 784.1,1629.5 783.1,1629.4 782.2,1629.4 781.2,1629.3 780.3,1629.3 779.3,1629.2 778.4,1629.1 777.5,1629.1 776.5,1629.0 775.6,1629.0 774.6,1628.9 773.7,1628.8 772.8,1628.8 771.8,1628.7 770.9,1628.7 769.9,1628.6 769.0,1628.5 768.1,1628.5 767.1,1628.4 766.2,1628.3 765.2,1628.3 764.3,1628.2 763.4,1628.2 762.4,1628.1 761.5,1628.0 760.5,1628.0 759.6,1627.9 758.7,1627.8 757.7,1627.8 756.8,1627.7 755.8,1627.6 754.9,1627.6 754.0,1627.5 753.0,1627.5 752.1,1627.4 751.1,1627.3 750.2,1627.3 749.3,1627.2 748.3,1627.1 747.4,1627.0 746.5,1627.0 745.5,1626.9 744.6,1626.8 743.6,1626.8 742.7,1626.7 741.8,1626.6 740.8,1626.6 739.9,1626.5 738.9,1626.4 738.0,1626.4 737.1,1626.3 736.1,1626.2 735.2,1626.1 734.2,1626.1 733.3,1626.0 732.4,1625.9 731.4,1625.8 730.5,1625.8 729.5,1625.7 728.6,1625.6 727.7,1625.6 726.7,1625.5 725.8,1625.4 724.8,1625.3 723.9,1625.3 723.0,1625.2 722.0,1625.1 721.1,1625.0 720.2,1624.9 719.2,1624.9 718.3,1624.8 717.3,1624.7 716.4,1624.6 715.5,1624.6 714.5,1624.5 713.6,1624.4 712.6,1624.3 711.7,1624.2 710.8,1624.2 709.8,1624.1 708.9,1624.0 707.9,1623.9 707.0,1623.8 706.1,1623.7 705.1,1623.7 704.2,1623.6 703.3,1623.5 702.3,1623.4 701.4,1623.3 700.4,1623.2 699.5,1623.2 698.6,1623.1 697.6,1623.0 696.7,1622.9 695.7,1622.8 694.8,1622.7 693.9,1622.6 692.9,1622.5 692.0,1622.5 691.1,1622.4 690.1,1622.3 689.2,1622.2 688.2,1622.1 687.3,1622.0 686.4,1621.9 685.4,1621.8 684.5,1621.7 683.6,1621.6 682.6,1621.5 681.7,1621.4 680.7,1621.3 679.8,1621.3 678.9,1621.2 677.9,1621.1 677.0,1621.0 676.0,1620.9 675.1,1620.8 674.2,1620.7 673.2,1620.6 672.3,1620.5 671.4,1620.4 670.4,1620.3 669.5,1620.2 668.6,1620.1 667.6,1620.0 666.7,1619.9 665.7,1619.8 664.8,1619.7 663.9,1619.6 662.9,1619.5 662.0,1619.4 661.1,1619.2 660.1,1619.1 659.2,1619.0 658.2,1618.9 657.3,1618.8 656.4,1618.7 655.4,1618.6 654.5,1618.5 653.6,1618.4 652.6,1618.3 651.7,1618.2 650.7,1618.0 649.8,1617.9 648.9,1617.8 647.9,1617.7 647.0,1617.6 646.1,1617.5 645.1,1617.4 644.2,1617.3 643.3,1617.1 642.3,1617.0 641.4,1616.9 640.4,1616.8 639.5,1616.7 638.6,1616.5 637.6,1616.4 636.7,1616.3 635.8,1616.2 634.8,1616.1 633.9,1615.9 633.0,1615.8 632.0,1615.7 631.1,1615.6 630.2,1615.4 629.2,1615.3 628.3,1615.2 627.3,1615.1 626.4,1614.9 625.5,1614.8 624.5,1614.7 623.6,1614.5 622.7,1614.4 621.7,1614.3 620.8,1614.1 619.9,1614.0 618.9,1613.9 618.0,1613.7 617.1,1613.6 616.1,1613.5 615.2,1613.3 614.3,1613.2 613.3,1613.0 612.4,1612.9 611.5,1612.8 610.5,1612.6 609.6,1612.5 608.7,1612.3 607.7,1612.2 606.8,1612.0 605.8,1611.9 604.9,1611.8 604.0,1611.6 603.0,1611.5 602.1,1611.3 601.2,1611.2 600.2,1611.0 599.3,1610.9 598.4,1610.7 597.4,1610.6 596.5,1610.4 595.6,1610.2 594.6,1610.1 593.7,1609.9 592.8,1609.8 591.8,1609.6 590.9,1609.4 590.0,1609.3 589.0,1609.1 588.1,1609.0 587.2,1608.8 586.2,1608.6 585.3,1608.5 584.4,1608.3 583.4,1608.1 582.5,1608.0 581.6,1607.8 580.6,1607.6 579.7,1607.4 578.8,1607.3 577.9,1607.1 576.9,1606.9 576.0,1606.7 575.1,1606.6 574.1,1606.4 573.2,1606.2 572.3,1606.0 571.3,1605.8 570.4,1605.7 569.5,1605.5 568.5,1605.3 567.6,1605.1 566.7,1604.9 565.7,1604.7 564.8,1604.5 563.9,1604.3 562.9,1604.2 562.0,1604.0 561.1,1603.8 560.2,1603.6 559.2,1603.4 558.3,1603.2 557.4,1603.0 556.4,1602.8 555.5,1602.6 554.6,1602.4 553.6,1602.2 552.7,1602.0 551.8,1601.7 550.9,1601.5 549.9,1601.3 549.0,1601.1 548.1,1600.9 547.1,1600.7 546.2,1600.5 545.3,1600.2 544.3,1600.0 543.4,1599.8 542.5,1599.6 541.6,1599.4 540.6,1599.1 539.7,1598.9 538.8,1598.7 537.8,1598.4 536.9,1598.2 536.0,1598.0 535.1,1597.7 534.1,1597.5 533.2,1597.3 532.3,1597.0 531.4,1596.8 530.4,1596.6 529.5,1596.3 528.6,1596.1 527.6,1595.8 526.7,1595.6 525.8,1595.3 524.9,1595.1 523.9,1594.8 523.0,1594.5 522.1,1594.3 521.2,1594.0 520.2,1593.8 519.3,1593.5 518.4,1593.2 517.5,1593.0 516.5,1592.7 515.6,1592.4 514.7,1592.2 513.8,1591.9 512.8,1591.6 511.9,1591.3 511.0,1591.0 510.1,1590.8 509.1,1590.5 508.2,1590.2 507.3,1589.9 506.4,1589.6 505.4,1589.3 504.5,1589.0 503.6,1588.7 502.7,1588.4 501.7,1588.1 500.8,1587.8 499.9,1587.5 499.0,1587.2 498.1,1586.9 497.1,1586.6 496.2,1586.3 495.3,1585.9 494.4,1585.6 493.4,1585.3 492.5,1585.0 491.6,1584.7 490.7,1584.3 489.8,1584.0 488.8,1583.7 487.9,1583.3 487.0,1583.0 486.1,1582.6 485.2,1582.3 484.2,1581.9 483.3,1581.6 482.4,1581.2 481.5,1580.9 480.6,1580.5 479.6,1580.2 478.7,1579.8 477.8,1579.4 476.9,1579.1 476.0,1578.7 475.0,1578.3 474.1,1577.9 473.2,1577.6 472.3,1577.2 471.4,1576.8 470.5,1576.4 469.5,1576.0 468.6,1575.6 467.7,1575.2 466.8,1574.8 465.9,1574.4 465.0,1574.0 464.0,1573.6 463.1,1573.2 462.2,1572.7 461.3,1572.3 460.4,1571.9 459.5,1571.5 458.6,1571.0 457.6,1570.6 456.7,1570.2 455.8,1569.7 454.9,1569.3 454.0,1568.8 453.1,1568.4 452.2,1567.9 451.3,1567.4 450.3,1567.0 449.4,1566.5 448.5,1566.0 447.6,1565.5 446.7,1565.1 445.8,1564.6 444.9,1564.1 444.0,1563.6 443.1,1563.1 442.1,1562.6 441.2,1562.1 440.3,1561.6 439.4,1561.1 438.5,1560.5 437.6,1560.0 436.7,1559.5 435.8,1558.9 434.9,1558.4 434.0,1557.9 433.1,1557.3 432.2,1556.8 431.3,1556.2 430.4,1555.6 429.5,1555.1 428.6,1554.5 427.6,1553.9 426.7,1553.3 425.8,1552.7 424.9,1552.2 424.0,1551.6 423.1,1550.9 422.2,1550.3 421.3,1549.7 420.4,1549.1 419.5,1548.5 418.6,1547.8 417.7,1547.2 416.8,1546.5 415.9,1545.9 415.0,1545.2 414.1,1544.6 413.2,1543.9 412.3,1543.2 411.5,1542.5 410.6,1541.9 409.7,1541.2 408.8,1540.5 407.9,1539.7 407.0,1539.0 406.1,1538.3 405.2,1537.6 404.3,1536.8 403.4,1536.1 402.5,1535.3 401.6,1534.6 400.7,1533.8 399.8,1533.0 399.0,1532.3 398.1,1531.5 397.2,1530.7 396.3,1529.9 395.4,1529.1 394.5,1528.2 393.6,1527.4 392.8,1526.6 391.9,1525.7 391.0,1524.9 390.1,1524.0 389.2,1523.1 388.3,1522.2 387.5,1521.3 386.6,1520.4 385.7,1519.5 384.8,1518.6 383.9,1517.7 383.1,1516.7 382.2,1515.8 381.3,1514.8 380.4,1513.9 379.6,1512.9 378.7,1511.9 377.8,1510.9 376.9,1509.9 376.1,1508.8 375.2,1507.8 374.3,1506.8 373.5,1505.7 372.6,1504.6 371.7,1503.6 370.9,1502.5 370.0,1501.4 369.1,1500.2 368.3,1499.1 367.4,1498.0 366.5,1496.8 365.7,1495.6 364.8,1494.5 364.0,1493.3 363.1,1492.1 362.3,1490.8 361.4,1489.6 360.5,1488.3 359.7,1487.1 358.8,1485.8 358.0,1484.5 357.1,1483.2 356.3,1481.9 355.4,1480.5 354.6,1479.2 353.8,1477.8 352.9,1476.4 352.1,1475.0 351.2,1473.6 350.4,1472.1 349.5,1470.6 348.7,1469.2 347.9,1467.7 347.0,1466.2 346.2,1464.6 345.4,1463.1 344.5,1461.5 343.7,1459.9 342.9,1458.3 342.1,1456.7 341.2,1455.0 340.4,1453.3 339.6,1451.6 338.8,1449.9 338.0,1448.2 337.2,1446.4 336.3,1444.6 335.5,1442.8 334.7,1441.0 333.9,1439.1 333.1,1437.3 332.3,1435.4 331.5,1433.4 330.7,1431.5 329.9,1429.5 329.1,1427.5 328.3,1425.5 327.5,1423.4 326.7,1421.3 325.9,1419.2 325.2,1417.0 324.4,1414.9 323.6,1412.7 322.8,1410.4 322.1,1408.2 321.3,1405.9 320.5,1403.5 319.7,1401.2 319.0,1398.8 318.2,1396.4 317.5,1393.9 316.7,1391.4 316.0,1388.9 315.2,1386.3 314.5,1383.7 313.7,1381.1 313.0,1378.4 312.2,1375.7 311.5,1372.9 310.8,1370.1 310.1,1367.3 309.3,1364.4 308.6,1361.5 307.9,1358.6 307.2,1355.6 306.5,1352.5 305.8,1349.4 305.1,1346.3 304.4,1343.1 303.7,1339.9 303.0,1336.7 302.3,1333.3 301.7,1330.0 301.0,1326.6 300.3,1323.1 299.7,1319.6 299.0,1316.0 298.4,1312.4 297.7,1308.8 297.1,1305.1 296.4,1301.3 295.8,1297.5 295.2,1293.6 294.5,1289.7 293.9,1285.7 293.3,1281.6 292.7,1277.5 292.1,1273.4 291.5,1269.2 291.0,1264.9 290.4,1260.6 289.8,1256.2 289.2,1251.7 288.7,1247.2 288.1,1242.6 287.6,1238.0 287.1,1233.3 286.5,1228.5 286.0,1223.7 285.5,1218.8 285.0,1213.8 284.5,1208.8 284.0,1203.7 283.5,1198.6 283.1,1193.4 282.6,1188.1 282.2,1182.8 281.7,1177.4 281.3,1171.9 280.9,1166.4 280.5,1160.8 280.1,1155.2 279.7,1149.4 279.3,1143.7 278.9,1137.8 278.5,1131.9 278.2,1126.0 277.8,1120.0 277.5,1113.9 277.2,1107.8 276.9,1101.6 276.6,1095.4 276.3,1089.1 276.0,1082.8 275.8,1076.4 275.5,1070.0 275.3,1063.5 275.0,1057.0 274.8,1050.4 274.6,1043.8 274.4,1037.2 274.3,1030.5 274.1,1023.8 274.0,1017.1 273.8,1010.3 273.7,1003.5 273.6,996.7 273.5,989.9 273.4,983.0 273.3,976.1 273.3,969.2 273.2,962.3 273.2,955.4 273.2,949.4" fill="none" stroke="#636363" stroke-width="8.8" stroke-linecap="square" stroke-linejoin="round" clip-path="url(#clipb)" />
<line x1="205.6" y1="1723" x2="1627.3" y2="1723" stroke="#b0b0b0" stroke-width="3.0" stroke-dasharray="12.32 5.33"/>
<line x1="205.6" y1="1611.37" x2="1627.3" y2="1611.37" stroke="#b0b0b0" stroke-width="3.0" stroke-dasharray="12.32 5.33"/>
<line x1="205.6" y1="1499.74" x2="1627.3" y2="1499.74" stroke="#b0b0b0" stroke-width="3.0" stroke-dasharray="12.32 5.33"/>
<line x1="205.6" y1="1388.11" x2="1627.3" y2="1388.11" stroke="#b0b0b0" stroke-width="3.0" stroke-dasharray="12.32 5.33"/>
<line x1="205.6" y1="1276.49" x2="1627.3" y2="1276.49" stroke="#b0b0b0" stroke-width="3.0" stroke-dasharray="12.32 5.33"/>
<line x1="205.6" y1="1164.86" x2="1627.3" y2="1164.86" stroke="#b0b0b0" stroke-width="3.0" stroke-dasharray="12.32 5.33"/>
<line x1="205.6" y1="1053.23" x2="1627.3" y2="1053.23" stroke="#b0b0b0" stroke-width="3.0" stroke-dasharray="12.32 5.33"/>
<line x1="205.6" y1="941.6" x2="1627.3" y2="941.6" stroke="#b0b0b0" stroke-width="3.0" stroke-dasharray="12.32 5.33"/>
<polyline points="273.2,1273.4 273.2,1270.3 273.2,1267.2 273.3,1264.1 273.3,1261.0 273.4,1257.9 273.5,1254.9 273.6,1251.8 273.7,1248.8 273.8,1245.8 274.0,1242.7 274.1,1239.8 274.3,1236.8 274.4,1233.9 274.6,1230.9 274.8,1228.0 275.0,1225.2 275.3,1222.3 275.5,1219.5 275.8,1216.7 276.0,1214.0 276.3,1211.2 276.6,1208.6 276.9,1205.9 277.2,1203.3 277.5,1200.7 277.8,1198.1 278.2,1195.6 278.5,1193.1 278.9,1190.7 279.3,1188.3 279.7,1185.9 280.1,1183.6 280.5,1181.3 280.9,1179.0 281.3,1176.8 281.7,1174.6 282.2,1172.4 282.6,1170.3 283.1,1168.3 283.5,1166.2 284.0,1164.2 284.5,1162.2 285.0,1160.3 285.5,1158.4 286.0,1156.6 286.5,1154.7 287.1,1153.0 287.6,1151.2 288.1,1149.5 288.7,1147.8 289.2,1146.2 289.8,1144.5 290.4,1142.9 291.0,1141.4 291.5,1139.9 292.1,1138.4 292.7,1136.9 293.3,1135.5 293.9,1134.1 294.5,1132.7 295.2,1131.4 295.8,1130.0 296.4,1128.8 297.1,1127.5 297.7,1126.3 298.4,1125.0 299.0,1123.9 299.7,1122.7 300.3,1121.6 301.0,1120.4 301.7,1119.4 302.3,1118.3 303.0,1117.2 303.7,1116.2 304.4,1115.2 305.1,1114.2 305.8,1113.3 306.5,1112.3 307.2,1111.4 307.9,1110.5 308.6,1109.6 309.3,1108.8 310.1,1107.9 310.8,1107.1 311.5,1106.3 312.2,1105.5 313.0,1104.7 313.7,1103.9 314.5,1103.2 315.2,1102.4 316.0,1101.7 316.7,1101.0 317.5,1100.3 318.2,1099.7 319.0,1099.0 319.7,1098.3 320.5,1097.7 321.3,1097.1 322.1,1096.5 322.8,1095.9 323.6,1095.3 324.4,1094.7 325.2,1094.1 325.9,1093.6 326.7,1093.0 327.5,1092.5 328.3,1092.0 329.1,1091.5 329.9,1091.0 330.7,1090.5 331.5,1090.0 332.3,1089.5 333.1,1089.1 333.9,1088.6 334.7,1088.2 335.5,1087.7 336.3,1087.3 337.2,1086.9 338.0,1086.4 338.8,1086.0 339.6,1085.6 340.4,1085.2 341.2,1084.9 342.1,1084.5 342.9,1084.1 343.7,1083.7 344.5,1083.4 345.4,1083.0 346.2,1082.7 347.0,1082.3 347.9,1082.0 348.7,1081.7 349.5,1081.3 350.4,1081.0 351.2,1080.7 352.1,1080.4 352.9,1080.1 353.8,1079.8 354.6,1079.5 355.4,1079.2 356.3,1079.0 357.1,1078.7 358.0,1078.4 358.8,1078.1 359.7,1077.9 360.5,1077.6 361.4,1077.4 362.3,1077.1 363.1,1076.9 364.0,1076.6 364.8,1076.4 365.7,1076.1 366.5,1075.9 367.4,1075.7 368.3,1075.5 369.1,1075.2 370.0,1075.0 370.9,1074.8 371.7,1074.6 372.6,1074.4 373.5,1074.2 374.3,1074.0 375.2,1073.8 376.1,1073.6 376.9,1073.4 377.8,1073.2 378.7,1073.0 379.6,1072.9 380.4,1072.7 381.3,1072.5 382.2,1072.3 383.1,1072.1 383.9,1072.0 384.8,1071.8 385.7,1071.6 386.6,1071.5 387.5,1071.3 388.3,1071.2 389.2,1071.0 390.1,1070.9 391.0,1070.7 391.9,1070.6 392.8,1070.4 393.6,1070.3 394.5,1070.1 395.4,1070.0 396.3,1069.8 397.2,1069.7 398.1,1069.6 399.0,1069.4 399.8,1069.3 400.7,1069.2 401.6,1069.1 402.5,1068.9 403.4,1068.8 404.3,1068.7 405.2,1068.6 406.1,1068.4 407.0,1068.3 407.9,1068.2 408.8,1068.1 409.7,1068.0 410.6,1067.9 411.5,1067.8 412.3,1067.6 413.2,1067.5 414.1,1067.4 415.0,1067.3 415.9,1067.2 416.8,1067.1 417.7,1067.0 418.6,1066.9 419.5,1066.8 420.4,1066.7 421.3,1066.6 422.2,1066.5 423.1,1066.4 424.0,1066.4 424.9,1066.3 425.8,1066.2 426.7,1066.1 427.6,1066.0 428.6,1065.9 429.5,1065.8 430.4,1065.7 431.3,1065.7 432.2,1065.6 433.1,1065.5 434.0,1065.4 434.9,1065.3 435.8,1065.3 436.7,1065.2 437.6,1065.1 438.5,1065.0 439.4,1065.0 440.3,1064.9 441.2,1064.8 442.1,1064.7 443.1,1064.7 444.0,1064.6 444.9,1064.5 445.8,1064.5 446.7,1064.4 447.6,1064.3 448.5,1064.3 449.4,1064.2 450.3,1064.1 451.3,1064.1 452.2,1064.0 453.1,1063.9 454.0,1063.9 454.9,1063.8 455.8,1063.7 456.7,1063.7 457.6,1063.6 458.6,1063.6 459.5,1063.5 460.4,1063.4 461.3,1063.4 462.2,1063.3 463.1,1063.3 464.0,1063.2 465.0,1063.2 465.9,1063.1 466.8,1063.1 467.7,1063.0 468.6,1063.0 469.5,1062.9 470.5,1062.9 471.4,1062.8 472.3,1062.8 473.2,1062.7 474.1,1062.7 475.0,1062.6 476.0,1062.6 476.9,1062.5 477.8,1062.5 478.7,1062.4 479.6,1062.4 480.6,1062.3 481.5,1062.3 482.4,1062.2 483.3,1062.2 484.2,1062.1 485.2,1062.1 486.1,1062.1 487.0,1062.0 487.9,1062.0 488.8,1061.9 489.8,1061.9 490.7,1061.8 491.6,1061.8 492.5,1061.8 493.4,1061.7 494.4,1061.7 495.3,1061.6 496.2,1061.6 497.1,1061.6 498.1,1061.5 499.0,1061.5 499.9,1061.5 500.8,1061.4 501.7,1061.4 502.7,1061.3 503.6,1061.3 504.5,1061.3 505.4,1061.2 506.4,1061.2 507.3,1061.2 508.2,1061.1 509.1,1061.1 510.1,1061.1 511.0,1061.0 511.9,1061.0 512.8,1061.0 513.8,1060.9 514.7,1060.9 515.6,1060.9 516.5,1060.8 517.5,1060.8 518.4,1060.8 519.3,1060.8 520.2,1060.7 521.2,1060.7 522.1,1060.7 523.0,1060.6 523.9,1060.6 524.9,1060.6 525.8,1060.5 526.7,1060.5 527.6,1060.5 528.6,1060.5 529.5,1060.4 530.4,1060.4 531.4,1060.4 532.3,1060.3 533.2,1060.3 534.1,1060.3 535.1,1060.3 536.0,1060.2 536.9,1060.2 537.8,1060.2 538.8,1060.2 539.7,1060.1 540.6,1060.1 541.6,1060.1 542.5,1060.1 543.4,1060.0 544.3,1060.0 545.3,1060.0 546.2,1060.0 547.1,1059.9 548.1,1059.9 549.0,1059.9 549.9,1059.9 550.9,1059.9 551.8,1059.8 552.7,1059.8 553.6,1059.8 554.6,1059.8 555.5,1059.7 556.4,1059.7 557.4,1059.7 558.3,1059.7 559.2,1059.7 560.2,1059.6 561.1,1059.6 562.0,1059.6 562.9,1059.6 563.9,1059.5 564.8,1059.5 565.7,1059.5 566.7,1059.5 567.6,1059.5 568.5,1059.4 569.5,1059.4 570.4,1059.4 571.3,1059.4 572.3,1059.4 573.2,1059.4 574.1,1059.3 575.1,1059.3 576.0,1059.3 576.9,1059.3 577.9,1059.3 578.8,1059.2 579.7,1059.2 580.6,1059.2 581.6,1059.2 582.5,1059.2 583.4,1059.2 584.4,1059.1 585.3,1059.1 586.2,1059.1 587.2,1059.1 588.1,1059.1 589.0,1059.1 590.0,1059.0 590.9,1059.0 591.8,1059.0 592.8,1059.0 593.7,1059.0 594.6,1059.0 595.6,1058.9 596.5,1058.9 597.4,1058.9 598.4,1058.9 599.3,1058.9 600.2,1058.9 601.2,1058.8 602.1,1058.8 603.0,1058.8 604.0,1058.8 604.9,1058.8 605.8,1058.8 606.8,1058.8 607.7,1058.7 608.7,1058.7 609.6,1058.7 610.5,1058.7 611.5,1058.7 612.4,1058.7 613.3,1058.7 614.3,1058.6 615.2,1058.6 616.1,1058.6 617.1,1058.6 618.0,1058.6 618.9,1058.6 619.9,1058.6 620.8,1058.6 621.7,1058.5 622.7,1058.5 623.6,1058.5 624.5,1058.5 625.5,1058.5 626.4,1058.5 627.3,1058.5 628.3,1058.5 629.2,1058.4 630.2,1058.4 631.1,1058.4 632.0,1058.4 633.0,1058.4 633.9,1058.4 634.8,1058.4 635.8,1058.4 636.7,1058.3 637.6,1058.3 638.6,1058.3 639.5,1058.3 640.4,1058.3 641.4,1058.3 642.3,1058.3 643.3,1058.3 644.2,1058.3 645.1,1058.2 646.1,1058.2 647.0,1058.2 647.9,1058.2 648.9,1058.2 649.8,1058.2 650.7,1058.2 651.7,1058.2 652.6,1058.2 653.6,1058.1 654.5,1058.1 655.4,1058.1 656.4,1058.1 657.3,1058.1 658.2,1058.1 659.2,1058.1 660.1,1058.1 661.1,1058.1 662.0,1058.1 662.9,1058.0 663.9,1058.0 664.8,1058.0 665.7,1058.0 666.7,1058.0 667.6,1058.0 668.6,1058.0 669.5,1058.0 670.4,1058.0 671.4,1058.0 672.3,1058.0 673.2,1057.9 674.2,1057.9 675.1,1057.9 676.0,1057.9 677.0,1057.9 677.9,1057.9 678.9,1057.9 679.8,1057.9 680.7,1057.9 681.7,1057.9 682.6,1057.9 683.6,1057.8 684.5,1057.8 685.4,1057.8 686.4,1057.8 687.3,1057.8 688.2,1057.8 689.2,1057.8 690.1,1057.8 691.1,1057.8 692.0,1057.8 692.9,1057.8 693.9,1057.8 694.8,1057.7 695.7,1057.7 696.7,1057.7 697.6,1057.7 698.6,1057.7 699.5,1057.7 700.4,1057.7 701.4,1057.7 702.3,1057.7 703.3,1057.7 704.2,1057.7 705.1,1057.7 706.1,1057.7 707.0,1057.7 707.9,1057.6 708.9,1057.6 709.8,1057.6 710.8,1057.6 711.7,1057.6 712.6,1057.6 713.6,1057.6 714.5,1057.6 715.5,1057.6 716.4,1057.6 717.3,1057.6 718.3,1057.6 719.2,1057.6 720.2,1057.6 721.1,1057.5 722.0,1057.5 723.0,1057.5 723.9,1057.5 724.8,1057.5 725.8,1057.5 726.7,1057.5 727.7,1057.5 728.6,1057.5 729.5,1057.5 730.5,1057.5 731.4,1057.5 732.4,1057.5 733.3,1057.5 734.2,1057.5 735.2,1057.4 736.1,1057.4 737.1,1057.4 738.0,1057.4 738.9,1057.4 739.9,1057.4 740.8,1057.4 741.8,1057.4 742.7,1057.4 743.6,1057.4 744.6,1057.4 745.5,1057.4 746.5,1057.4 747.4,1057.4 748.3,1057.4 749.3,1057.4 750.2,1057.4 751.1,1057.3 752.1,1057.3 753.0,1057.3 754.0,1057.3 754.9,1057.3 755.8,1057.3 756.8,1057.3 757.7,1057.3 758.7,1057.3 759.6,1057.3 760.5,1057.3 761.5,1057.3 762.4,1057.3 763.4,1057.3 764.3,1057.3 765.2,1057.3 766.2,1057.3 767.1,1057.3 768.1,1057.2 769.0,1057.2 769.9,1057.2 770.9,1057.2 771.8,1057.2 772.8,1057.2 773.7,1057.2 774.6,1057.2 775.6,1057.2 776.5,1057.2 777.5,1057.2 778.4,1057.2 779.3,1057.2 780.3,1057.2 781.2,1057.2 782.2,1057.2 783.1,1057.2 784.1,1057.2 785.0,1057.2 785.9,1057.2 786.9,1057.1 787.8,1057.1 788.8,1057.1 789.7,1057.1 790.6,1057.1 791.6,1057.1 792.5,1057.1 793.5,1057.1 794.4,1057.1 795.3,1057.1 796.3,1057.1 797.2,1057.1 798.2,1057.1 799.1,1057.1 800.0,1057.1 801.0,1057.1 801.9,1057.1 802.9,1057.1 803.8,1057.1 804.7,1057.1 805.7,1057.1 806.6,1057.1 807.6,1057.0 808.5,1057.0 809.4,1057.0 810.4,1057.0 811.3,1057.0 812.3,1057.0 813.2,1057.0 814.1,1057.0 815.1,1057.0 816.0,1057.0 817.0,1057.0 817.9,1057.0 818.9,1057.0 819.8,1057.0 820.7,1057.0 821.7,1057.0 822.6,1057.0 823.6,1057.0 824.5,1057.0 825.4,1057.0 826.4,1057.0 827.3,1057.0 828.3,1057.0 829.2,1057.0 830.1,1056.9 831.1,1056.9 832.0,1056.9 833.0,1056.9 833.9,1056.9 834.8,1056.9 835.8,1056.9 836.7,1056.9 837.7,1056.9 838.6,1056.9 839.6,1056.9 840.5,1056.9 841.4,1056.9 842.4,1056.9 843.3,1056.9 844.3,1056.9 845.2,1056.9 846.1,1056.9 847.1,1056.9 848.0,1056.9 849.0,1056.9 849.9,1056.9 850.8,1056.9 851.8,1056.9 852.7,1056.9 853.7,1056.9 854.6,1056.9 855.6,1056.8 856.5,1056.8 857.4,1056.8 858.4,1056.8 859.3,1056.8 860.3,1056.8 861.2,1056.8 862.1,1056.8 863.1,1056.8 864.0,1056.8 865.0,1056.8 865.9,1056.8 866.8,1056.8 867.8,1056.8 868.7,1056.8 869.7,1056.8 870.6,1056.8 871.6,1056.8 872.5,1056.8 873.4,1056.8 874.4,1056.8 875.3,1056.8 876.3,1056.8 877.2,1056.8 878.1,1056.8 879.1,1056.8 880.0,1056.8 881.0,1056.8 881.9,1056.8 882.8,1056.8 883.8,1056.8 884.7,1056.7 885.7,1056.7 886.6,1056.7 887.6,1056.7 888.5,1056.7 889.4,1056.7 890.4,1056.7 891.3,1056.7 892.3,1056.7 893.2,1056.7 894.1,1056.7 895.1,1056.7 896.0,1056.7 897.0,1056.7 897.9,1056.7 898.9,1056.7 899.8,1056.7 900.7,1056.7 901.7,1056.7 902.6,1056.7 903.6,1056.7 904.5,1056.7 905.4,1056.7 906.4,1056.7 907.3,1056.7 908.3,1056.7 909.2,1056.7 910.2,1056.7 911.1,1056.7 912.0,1056.7 913.0,1056.7 913.9,1056.7 914.9,1056.7 915.8,1056.7 916.7,1056.6 917.7,1056.6 918.6,1056.6 919.6,1056.6 920.5,1056.6 921.4,1056.6 922.4,1056.6 923.3,1056.6 924.3,1056.6 925.2,1056.6 926.2,1056.6 927.1,1056.6 928.0,1056.6 929.0,1056.6 929.9,1056.6 930.9,1056.6 931.8,1056.6 932.7,1056.6 933.7,1056.6 934.6,1056.6 935.6,1056.6 936.5,1056.6 937.5,1056.6 938.4,1056.6 939.3,1056.6 940.3,1056.6 941.2,1056.6 942.2,1056.6 943.1,1056.6 944.0,1056.6 945.0,1056.6 945.9,1056.6 946.9,1056.6 947.8,1056.6 948.8,1056.6 949.7,1056.6 950.6,1056.6 951.6,1056.6 952.5,1056.6 953.5,1056.6 954.4,1056.5 955.3,1056.5 956.3,1056.5 957.2,1056.5 958.2,1056.5 959.1,1056.5 960.1,1056.5 961.0,1056.5 961.9,1056.5 962.9,1056.5 963.8,1056.5 964.8,1056.5 965.7,1056.5 966.6,1056.5 967.6,1056.5 968.5,1056.5 969.5,1056.5 970.4,1056.5 971.4,1056.5 972.3,1056.5 973.2,1056.5 974.2,1056.5 975.1,1056.5 976.1,1056.5 977.0,1056.5 977.9,1056.5 978.9,1056.5 979.8,1056.5 980.8,1056.5 981.7,1056.5 982.7,1056.5 983.6,1056.5 984.5,1056.5 985.5,1056.5 986.4,1056.5 987.4,1056.5 988.3,1056.5 989.2,1056.5 990.2,1056.5 991.1,1056.5 992.1,1056.5 993.0,1056.5 994.0,1056.5 994.9,1056.5 995.8,1056.5 996.8,1056.5 997.7,1056.5 998.7,1056.5 999.6,1056.5 1000.5,1056.4 1001.5,1056.4 1002.4,1056.4 1003.4,1056.4 1004.3,1056.4 1005.3,1056.4 1006.2,1056.4 1007.1,1056.4 1008.1,1056.4 1009.0,1056.4 1010.0,1056.4 1010.9,1056.4 1011.8,1056.4 1012.8,1056.4 1013.7,1056.4 1014.7,1056.4 1015.6,1056.4 1016.6,1056.4 1017.5,1056.4 1018.4,1056.4 1019.4,1056.4 1020.3,1056.4 1021.3,1056.4 1022.2,1056.4 1023.1,1056.4 1024.1,1056.4 1025.0,1056.4 1026.0,1056.4 1026.9,1056.4 1027.9,1056.4 1028.8,1056.4 1029.7,1056.4 1030.7,1056.4 1031.6,1056.4 1032.6,1056.4 1033.5,1056.4 1034.4,1056.4 1035.4,1056.4 1036.3,1056.4 1037.3,1056.4 1038.2,1056.4 1039.2,1056.4 1040.1,1056.4 1041.0,1056.4 1042.0,1056.4 1042.9,1056.4 1043.9,1056.4 1044.8,1056.4 1045.7,1056.4 1046.7,1056.4 1047.6,1056.4 1048.6,1056.4 1049.5,1056.4 1050.5,1056.4 1051.4,1056.4 1052.3,1056.4 1053.3,1056.4 1054.2,1056.4 1055.2,1056.4 1056.1,1056.4 1057.0,1056.4 1058.0,1056.4 1058.9,1056.4 1059.9,1056.4 1060.8,1056.4 1061.8,1056.3 1062.7,1056.3 1063.6,1056.3 1064.6,1056.3 1065.5,1056.3 1066.5,1056.3 1067.4,1056.3 1068.3,1056.3 1069.3,1056.3 1070.2,1056.3 1071.2,1056.3 1072.1,1056.3 1073.1,1056.3 1074.0,1056.3 1074.9,1056.3 1075.9,1056.3 1076.8,1056.3 1077.8,1056.3 1078.7,1056.3 1079.6,1056.3 1080.6,1056.3 1081.5,1056.3 1082.5,1056.3 1083.4,1056.3 1084.3,1056.3 1085.3,1056.3 1086.2,1056.3 1087.2,1056.3 1088.1,1056.3 1089.1,1056.3 1090.0,1056.3 1090.9,1056.3 1091.9,1056.3 1092.8,1056.3 1093.8,1056.3 1094.7,1056.3 1095.6,1056.3 1096.6,1056.3 1097.5,1056.3 1098.5,1056.3 1099.4,1056.3 1100.4,1056.3 1101.3,1056.3 1102.2,1056.3 1103.2,1056.3 1104.1,1056.3 1105.1,1056.3 1106.0,1056.3 1106.9,1056.3 1107.9,1056.3 1108.8,1056.3 1109.8,1056.3 1110.7,1056.3 1111.6,1056.3 1112.6,1056.3 1113.5,1056.3 1114.5,1056.3 1115.4,1056.3 1116.4,1056.3 1117.3,1056.3 1118.2,1056.3 1119.2,1056.3 1120.1,1056.3 1121.1,1056.3 1122.0,1056.3 1122.9,1056.3 1123.9,1056.3 1124.8,1056.3 1125.8,1056.3 1126.7,1056.3 1127.6,1056.3 1128.6,1056.3 1129.5,1056.3 1130.5,1056.3 1131.4,1056.3 1132.3,1056.3 1133.3,1056.3 1134.2,1056.3 1135.2,1056.3 1136.1,1056.3 1137.1,1056.3 1138.0,1056.3 1138.9,1056.3 1139.9,1056.3 1140.8,1056.3 1141.8,1056.3 1142.7,1056.3 1143.6,1056.3 1144.6,1056.3 1145.5,1056.3 1146.5,1056.3 1147.4,1056.3 1148.3,1056.3 1149.3,1056.3 1150.2,1056.3 1151.2,1056.3 1152.1,1056.3 1153.0,1056.3 1154.0,1056.3 1154.9,1056.3 1155.9,1056.3 1156.8,1056.3 1157.8,1056.3 1158.7,1056.3 1159.6,1056.3 1160.6,1056.3 1161.5,1056.3 1162.5,1056.3 1163.4,1056.3 1164.3,1056.3 1165.3,1056.3 1166.2,1056.3 1167.2,1056.3 1168.1,1056.3 1169.0,1056.3 1170.0,1056.3 1170.9,1056.3 1171.9,1056.3 1172.8,1056.3 1173.7,1056.3 1174.7,1056.3 1175.6,1056.3 1176.6,1056.3 1177.5,1056.3 1178.4,1056.3 1179.4,1056.3 1180.3,1056.3 1181.3,1056.3 1182.2,1056.3 1183.1,1056.3 1184.1,1056.3 1185.0,1056.3 1186.0,1056.3 1186.9,1056.3 1187.9,1056.3 1188.8,1056.3 1189.7,1056.3 1190.7,1056.3 1191.6,1056.3 1192.6,1056.3 1193.5,1056.3 1194.4,1056.3 1195.4,1056.3 1196.3,1056.3 1197.3,1056.3 1198.2,1056.3 1199.1,1056.3 1200.1,1056.3 1201.0,1056.3 1202.0,1056.3 1202.9,1056.3 1203.8,1056.3 1204.8,1056.3 1205.7,1056.3 1206.7,1056.3 1207.6,1056.3 1208.5,1056.3 1209.5,1056.3 1210.4,1056.3 1211.4,1056.3 1212.3,1056.4 1213.2,1056.4 1214.2,1056.4 1215.1,1056.4 1216.1,1056.4 1217.0,1056.4 1217.9,1056.4 1218.9,1056.4 1219.8,1056.4 1220.8,1056.4 1221.7,1056.4 1222.6,1056.4 1223.6,1056.4 1224.5,1056.4 1225.5,1056.4 1226.4,1056.4 1227.3,1056.4 1228.3,1056.4 1229.2,1056.4 1230.1,1056.4 1231.1,1056.4 1232.0,1056.4 1233.0,1056.4 1233.9,1056.4 1234.8,1056.4 1235.8,1056.4 1236.7,1056.4 1237.7,1056.4 1238.6,1056.4 1239.5,1056.4 1240.5,1056.4 1241.4,1056.4 1242.4,1056.4 1243.3,1056.4 1244.2,1056.4 1245.2,1056.4 1246.1,1056.4 1247.1,1056.4 1248.0,1056.4 1248.9,1056.4 1249.9,1056.4 1250.8,1056.5 1251.8,1056.5 1252.7,1056.5 1253.6,1056.5 1254.6,1056.5 1255.5,1056.5 1256.4,1056.5 1257.4,1056.5 1258.3,1056.5 1259.3,1056.5 1260.2,1056.5 1261.1,1056.5 1262.1,1056.5 1263.0,1056.5 1264.0,1056.5 1264.9,1056.5 1265.8,1056.5 1266.8,1056.5 1267.7,1056.5 1268.7,1056.5 1269.6,1056.5 1270.5,1056.5 1271.5,1056.5 1272.4,1056.5 1273.3,1056.5 1274.3,1056.5 1275.2,1056.6 1276.2,1056.6 1277.1,1056.6 1278.0,1056.6 1279.0,1056.6 1279.9,1056.6 1280.9,1056.6 1281.8,1056.6 1282.7,1056.6 1283.7,1056.6 1284.6,1056.6 1285.5,1056.6 1286.5,1056.6 1287.4,1056.6 1288.4,1056.6 1289.3,1056.6 1290.2,1056.6 1291.2,1056.6 1292.1,1056.6 1293.0,1056.6 1294.0,1056.7 1294.9,1056.7 1295.9,1056.7 1296.8,1056.7 1297.7,1056.7 1298.7,1056.7 1299.6,1056.7 1300.6,1056.7 1301.5,1056.7 1302.4,1056.7 1303.4,1056.7 1304.3,1056.7 1305.2,1056.7 1306.2,1056.7 1307.1,1056.7 1308.1,1056.7 1309.0,1056.8 1309.9,1056.8 1310.9,1056.8 1311.8,1056.8 1312.7,1056.8 1313.7,1056.8 1314.6,1056.8 1315.5,1056.8 1316.5,1056.8 1317.4,1056.8 1318.4,1056.8 1319.3,1056.8 1320.2,1056.8 1321.2,1056.9 1322.1,1056.9 1323.0,1056.9 1324.0,1056.9 1324.9,1056.9 1325.9,1056.9 1326.8,1056.9 1327.7,1056.9 1328.7,1056.9 1329.6,1056.9 1330.5,1056.9 1331.5,1057.0 1332.4,1057.0 1333.3,1057.0 1334.3,1057.0 1335.2,1057.0 1336.2,1057.0 1337.1,1057.0 1338.0,1057.0 1339.0,1057.0 1339.9,1057.0 1340.8,1057.1 1341.8,1057.1 1342.7,1057.1 1343.6,1057.1 1344.6,1057.1 1345.5,1057.1 1346.4,1057.1 1347.4,1057.1 1348.3,1057.1 1349.3,1057.2 1350.2,1057.2 1351.1,1057.2 1352.1,1057.2 1353.0,1057.2 1353.9,1057.2 1354.9,1057.2 1355.8,1057.2 1356.7,1057.2 1357.7,1057.3 1358.6,1057.3 1359.5,1057.3 1360.5,1057.3 1361.4,1057.3 1362.3,1057.3 1363.3,1057.3 1364.2,1057.4 1365.1,1057.4 1366.1,1057.4 1367.0,1057.4 1367.9,1057.4 1368.9,1057.4 1369.8,1057.4 1370.7,1057.5 1371.7,1057.5 1372.6,1057.5 1373.5,1057.5 1374.5,1057.5 1375.4,1057.5 1376.3,1057.6 1377.3,1057.6 1378.2,1057.6 1379.1,1057.6 1380.1,1057.6 1381.0,1057.6 1381.9,1057.7 1382.9,1057.7 1383.8,1057.7 1384.7,1057.7 1385.7,1057.7 1386.6,1057.8 1387.5,1057.8 1388.5,1057.8 1389.4,1057.8 1390.3,1057.8 1391.3,1057.9 1392.2,1057.9 1393.1,1057.9 1394.1,1057.9 1395.0,1057.9 1395.9,1058.0 1396.9,1058.0 1397.8,1058.0 1398.7,1058.0 1399.7,1058.0 1400.6,1058.1 1401.5,1058.1 1402.4,1058.1 1403.4,1058.1 1404.3,1058.2 1405.2,1058.2 1406.2,1058.2 1407.1,1058.2 1408.0,1058.3 1409.0,1058.3 1409.9,1058.3 1410.8,1058.3 1411.7,1058.4 1412.7,1058.4 1413.6,1058.4 1414.5,1058.5 1415.5,1058.5 1416.4,1058.5 1417.3,1058.5 1418.2,1058.6 1419.2,1058.6 1420.1,1058.6 1421.0,1058.7 1422.0,1058.7 1422.9,1058.7 1423.8,1058.8 1424.7,1058.8 1425.7,1058.8 1426.6,1058.9 1427.5,1058.9 1428.5,1058.9 1429.4,1059.0 1430.3,1059.0 1431.2,1059.0 1432.2,1059.1 1433.1,1059.1 1434.0,1059.2 1434.9,1059.2 1435.9,1059.2 1436.8,1059.3 1437.7,1059.3 1438.6,1059.4 1439.6,1059.4 1440.5,1059.4 1441.4,1059.5 1442.3,1059.5 1443.3,1059.6 1444.2,1059.6 1445.1,1059.7 1446.0,1059.7 1447.0,1059.8 1447.9,1059.8 1448.8,1059.9 1449.7,1059.9 1450.7,1060.0 1451.6,1060.0 1452.5,1060.1 1453.4,1060.1 1454.3,1060.2 1455.3,1060.2 1456.2,1060.3 1457.1,1060.3 1458.0,1060.4 1458.9,1060.5 1459.9,1060.5 1460.8,1060.6 1461.7,1060.6 1462.6,1060.7 1463.5,1060.8 1464.5,1060.8 1465.4,1060.9 1466.3,1061.0 1467.2,1061.0 1468.1,1061.1 1469.1,1061.2 1470.0,1061.3 1470.9,1061.3 1471.8,1061.4 1472.7,1061.5 1473.6,1061.6 1474.5,1061.6 1475.5,1061.7 1476.4,1061.8 1477.3,1061.9 1478.2,1062.0 1479.1,1062.1 1480.0,1062.1 1480.9,1062.2 1481.9,1062.3 1482.8,1062.4 1483.7,1062.5 1484.6,1062.6 1485.5,1062.7 1486.4,1062.8 1487.3,1062.9 1488.2,1063.0 1489.1,1063.1 1490.1,1063.2 1491.0,1063.4 1491.9,1063.5 1492.8,1063.6 1493.7,1063.7 1494.6,1063.8 1495.5,1064.0 1496.4,1064.1 1497.3,1064.2 1498.2,1064.3 1499.1,1064.5 1500.0,1064.6 1500.9,1064.8 1501.8,1064.9 1502.7,1065.0 1503.6,1065.2 1504.5,1065.4 1505.4,1065.5 1506.3,1065.7 1507.2,1065.8 1508.1,1066.0 1509.0,1066.2 1509.9,1066.3 1510.8,1066.5 1511.7,1066.7 1512.6,1066.9 1513.5,1067.1 1514.4,1067.3 1515.3,1067.5 1516.1,1067.7 1517.0,1067.9 1517.9,1068.1 1518.8,1068.4 1519.7,1068.6 1520.6,1068.8 1521.5,1069.1 1522.3,1069.3 1523.2,1069.6 1524.1,1069.8 1525.0,1070.1 1525.9,1070.4 1526.7,1070.6 1527.6,1070.9 1528.5,1071.2 1529.4,1071.5 1530.2,1071.8 1531.1,1072.2 1532.0,1072.5 1532.9,1072.8 1533.7,1073.2 1534.6,1073.5 1535.4,1073.9 1536.3,1074.3 1537.2,1074.7 1538.0,1075.1 1538.9,1075.5 1539.7,1075.9 1540.6,1076.3 1541.4,1076.8 1542.3,1077.2 1543.1,1077.7 1544.0,1078.2 1544.8,1078.7 1545.7,1079.2 1546.5,1079.8 1547.3,1080.3 1548.2,1080.9 1549.0,1081.5 1549.8,1082.1 1550.7,1082.8 1551.5,1083.4 1552.3,1084.1 1553.1,1084.8 1553.9,1085.5 1554.8,1086.2 1555.6,1087.0 1556.4,1087.8 1557.2,1088.6 1558.0,1089.5 1558.8,1090.4 1559.6,1091.3 1560.3,1092.2 1561.1,1093.2 1561.9,1094.2 1562.7,1095.3 1563.4,1096.4 1564.2,1097.5 1565.0,1098.7 1565.7,1099.9 1566.5,1101.2 1567.2,1102.5 1568.0,1103.8 1568.7,1105.2 1569.4,1106.7 1570.1,1108.2 1570.8,1109.8 1571.6,1111.4 1572.3,1113.1 1572.9,1114.9 1573.6,1116.7 1574.3,1118.7 1575.0,1120.6 1575.6,1122.7 1576.3,1124.8 1576.9,1127.0 1577.6,1129.4 1578.2,1131.8 1578.8,1134.2 1579.4,1136.8 1580.0,1139.5 1580.6,1142.3 1581.1,1145.2 1581.7,1148.2 1582.2,1151.3 1582.7,1154.5 1583.3,1157.8 1583.8,1161.2 1584.2,1164.8 1584.7,1168.5 1585.2,1172.3 1585.6,1176.2 1586.0,1180.3 1586.4,1184.4 1586.8,1188.7 1587.2,1193.1 1587.5,1197.7 1587.8,1202.3 1588.1,1207.1 1588.4,1211.9 1588.7,1216.9 1588.9,1222.0 1589.1,1227.2 1589.3,1232.4 1589.5,1237.7 1589.7,1243.1 1589.8,1248.6 1589.9,1254.1 1590.0,1259.7 1590.1,1265.3 1590.1,1270.6" fill="none" stroke="#31a354" stroke-width="5.45" stroke-linecap="square" stroke-linejoin="round" clip-path="url(#clipb)" />
<polyline points="273.2,1499.7 273.2,1499.7 273.2,1499.5 273.3,1499.4 273.3,1499.2 273.4,1499.0 273.5,1498.7 273.6,1498.4 273.7,1498.0 273.8,1497.6 274.0,1497.2 274.1,1496.7 274.3,1496.2 274.4,1495.6 274.6,1495.0 274.8,1494.4 275.0,1493.8 275.3,1493.1 275.5,1492.4 275.8,1491.6 276.0,1490.8 276.3,1490.0 276.6,1489.2 276.9,1488.3 277.2,1487.4 277.5,1486.5 277.8,1485.5 278.2,1484.6 278.5,1483.6 278.9,1482.6 279.3,1481.6 279.7,1480.5 280.1,1479.5 280.5,1478.4 280.9,1477.3 281.3,1476.2 281.7,1475.1 282.2,1474.0 282.6,1472.9 283.1,1471.8 283.5,1470.6 284.0,1469.5 284.5,1468.3 285.0,1467.1 285.5,1466.0 286.0,1464.8 286.5,1463.6 287.1,1462.5 287.6,1461.3 288.1,1460.1 288.7,1458.9 289.2,1457.8 289.8,1456.6 290.4,1455.4 291.0,1454.2 291.5,1453.1 292.1,1451.9 292.7,1450.7 293.3,1449.6 293.9,1448.4 294.5,1447.3 295.2,1446.1 295.8,1445.0 296.4,1443.9 297.1,1442.8 297.7,1441.6 298.4,1440.5 299.0,1439.4 299.7,1438.3 300.3,1437.2 301.0,1436.2 301.7,1435.1 302.3,1434.0 303.0,1433.0 303.7,1431.9 304.4,1430.9 305.1,1429.8 305.8,1428.8 306.5,1427.8 307.2,1426.8 307.9,1425.8 308.6,1424.8 309.3,1423.8 310.1,1422.9 310.8,1421.9 311.5,1420.9 312.2,1420.0 313.0,1419.1 313.7,1418.1 314.5,1417.2 315.2,1416.3 316.0,1415.4 316.7,1414.5 317.5,1413.6 318.2,1412.8 319.0,1411.9 319.7,1411.1 320.5,1410.2 321.3,1409.4 322.1,1408.5 322.8,1407.7 323.6,1406.9 324.4,1406.1 325.2,1405.3 325.9,1404.5 326.7,1403.7 327.5,1403.0 328.3,1402.2 329.1,1401.4 329.9,1400.7 330.7,1400.0 331.5,1399.2 332.3,1398.5 333.1,1397.8 333.9,1397.1 334.7,1396.4 335.5,1395.7 336.3,1395.0 337.2,1394.3 338.0,1393.6 338.8,1393.0 339.6,1392.3 340.4,1391.7 341.2,1391.0 342.1,1390.4 342.9,1389.8 343.7,1389.1 344.5,1388.5 345.4,1387.9 346.2,1387.3 347.0,1386.7 347.9,1386.1 348.7,1385.5 349.5,1384.9 350.4,1384.4 351.2,1383.8 352.1,1383.2 352.9,1382.7 353.8,1382.1 354.6,1381.6 355.4,1381.1 356.3,1380.5 357.1,1380.0 358.0,1379.5 358.8,1379.0 359.7,1378.4 360.5,1377.9 361.4,1377.4 362.3,1376.9 363.1,1376.5 364.0,1376.0 364.8,1375.5 365.7,1375.0 366.5,1374.5 367.4,1374.1 368.3,1373.6 369.1,1373.2 370.0,1372.7 370.9,1372.3 371.7,1371.8 372.6,1371.4 373.5,1370.9 374.3,1370.5 375.2,1370.1 376.1,1369.7 376.9,1369.2 377.8,1368.8 378.7,1368.4 379.6,1368.0 380.4,1367.6 381.3,1367.2 382.2,1366.8 383.1,1366.4 383.9,1366.0 384.8,1365.7 385.7,1365.3 386.6,1364.9 387.5,1364.5 388.3,1364.2 389.2,1363.8 390.1,1363.4 391.0,1363.1 391.9,1362.7 392.8,1362.4 393.6,1362.0 394.5,1361.7 395.4,1361.3 396.3,1361.0 397.2,1360.7 398.1,1360.3 399.0,1360.0 399.8,1359.7 400.7,1359.4 401.6,1359.0 402.5,1358.7 403.4,1358.4 404.3,1358.1 405.2,1357.8 406.1,1357.5 407.0,1357.2 407.9,1356.9 408.8,1356.6 409.7,1356.3 410.6,1356.0 411.5,1355.7 412.3,1355.4 413.2,1355.1 414.1,1354.9 415.0,1354.6 415.9,1354.3 416.8,1354.0 417.7,1353.8 418.6,1353.5 419.5,1353.2 420.4,1353.0 421.3,1352.7 422.2,1352.4 423.1,1352.2 424.0,1351.9 424.9,1351.7 425.8,1351.4 426.7,1351.2 427.6,1350.9 428.6,1350.7 429.5,1350.4 430.4,1350.2 431.3,1349.9 432.2,1349.7 433.1,1349.5 434.0,1349.2 434.9,1349.0 435.8,1348.8 436.7,1348.6 437.6,1348.3 438.5,1348.1 439.4,1347.9 440.3,1347.7 441.2,1347.5 442.1,1347.2 443.1,1347.0 444.0,1346.8 444.9,1346.6 445.8,1346.4 446.7,1346.2 447.6,1346.0 448.5,1345.8 449.4,1345.6 450.3,1345.4 451.3,1345.2 452.2,1345.0 453.1,1344.8 454.0,1344.6 454.9,1344.4 455.8,1344.2 456.7,1344.0 457.6,1343.8 458.6,1343.6 459.5,1343.4 460.4,1343.3 461.3,1343.1 462.2,1342.9 463.1,1342.7 464.0,1342.5 465.0,1342.4 465.9,1342.2 466.8,1342.0 467.7,1341.8 468.6,1341.7 469.5,1341.5 470.5,1341.3 471.4,1341.2 472.3,1341.0 473.2,1340.8 474.1,1340.7 475.0,1340.5 476.0,1340.3 476.9,1340.2 477.8,1340.0 478.7,1339.9 479.6,1339.7 480.6,1339.6 481.5,1339.4 482.4,1339.2 483.3,1339.1 484.2,1338.9 485.2,1338.8 486.1,1338.6 487.0,1338.5 487.9,1338.4 488.8,1338.2 489.8,1338.1 490.7,1337.9 491.6,1337.8 492.5,1337.6 493.4,1337.5 494.4,1337.4 495.3,1337.2 496.2,1337.1 497.1,1336.9 498.1,1336.8 499.0,1336.7 499.9,1336.5 500.8,1336.4 501.7,1336.3 502.7,1336.1 503.6,1336.0 504.5,1335.9 505.4,1335.8 506.4,1335.6 507.3,1335.5 508.2,1335.4 509.1,1335.3 510.1,1335.1 511.0,1335.0 511.9,1334.9 512.8,1334.8 513.8,1334.7 514.7,1334.5 515.6,1334.4 516.5,1334.3 517.5,1334.2 518.4,1334.1 519.3,1333.9 520.2,1333.8 521.2,1333.7 522.1,1333.6 523.0,1333.5 523.9,1333.4 524.9,1333.3 525.8,1333.2 526.7,1333.1 527.6,1332.9 528.6,1332.8 529.5,1332.7 530.4,1332.6 531.4,1332.5 532.3,1332.4 533.2,1332.3 534.1,1332.2 535.1,1332.1 536.0,1332.0 536.9,1331.9 537.8,1331.8 538.8,1331.7 539.7,1331.6 540.6,1331.5 541.6,1331.4 542.5,1331.3 543.4,1331.2 544.3,1331.1 545.3,1331.0 546.2,1330.9 547.1,1330.8 548.1,1330.7 549.0,1330.6 549.9,1330.6 550.9,1330.5 551.8,1330.4 552.7,1330.3 553.6,1330.2 554.6,1330.1 555.5,1330.0 556.4,1329.9 557.4,1329.8 558.3,1329.7 559.2,1329.7 560.2,1329.6 561.1,1329.5 562.0,1329.4 562.9,1329.3 563.9,1329.2 564.8,1329.1 565.7,1329.1 566.7,1329.0 567.6,1328.9 568.5,1328.8 569.5,1328.7 570.4,1328.7 571.3,1328.6 572.3,1328.5 573.2,1328.4 574.1,1328.3 575.1,1328.3 576.0,1328.2 576.9,1328.1 577.9,1328.0 578.8,1328.0 579.7,1327.9 580.6,1327.8 581.6,1327.7 582.5,1327.7 583.4,1327.6 584.4,1327.5 585.3,1327.4 586.2,1327.4 587.2,1327.3 588.1,1327.2 589.0,1327.1 590.0,1327.1 590.9,1327.0 591.8,1326.9 592.8,1326.9 593.7,1326.8 594.6,1326.7 595.6,1326.7 596.5,1326.6 597.4,1326.5 598.4,1326.5 599.3,1326.4 600.2,1326.3 601.2,1326.3 602.1,1326.2 603.0,1326.1 604.0,1326.1 604.9,1326.0 605.8,1325.9 606.8,1325.9 607.7,1325.8 608.7,1325.7 609.6,1325.7 610.5,1325.6 611.5,1325.6 612.4,1325.5 613.3,1325.4 614.3,1325.4 615.2,1325.3 616.1,1325.3 617.1,1325.2 618.0,1325.1 618.9,1325.1 619.9,1325.0 620.8,1325.0 621.7,1324.9 622.7,1324.8 623.6,1324.8 624.5,1324.7 625.5,1324.7 626.4,1324.6 627.3,1324.6 628.3,1324.5 629.2,1324.4 630.2,1324.4 631.1,1324.3 632.0,1324.3 633.0,1324.2 633.9,1324.2 634.8,1324.1 635.8,1324.1 636.7,1324.0 637.6,1324.0 638.6,1323.9 639.5,1323.8 640.4,1323.8 641.4,1323.7 642.3,1323.7 643.3,1323.6 644.2,1323.6 645.1,1323.5 646.1,1323.5 647.0,1323.4 647.9,1323.4 648.9,1323.3 649.8,1323.3 650.7,1323.2 651.7,1323.2 652.6,1323.1 653.6,1323.1 654.5,1323.0 655.4,1323.0 656.4,1322.9 657.3,1322.9 658.2,1322.9 659.2,1322.8 660.1,1322.8 661.1,1322.7 662.0,1322.7 662.9,1322.6 663.9,1322.6 664.8,1322.5 665.7,1322.5 666.7,1322.4 667.6,1322.4 668.6,1322.4 669.5,1322.3 670.4,1322.3 671.4,1322.2 672.3,1322.2 673.2,1322.1 674.2,1322.1 675.1,1322.0 676.0,1322.0 677.0,1322.0 677.9,1321.9 678.9,1321.9 679.8,1321.8 680.7,1321.8 681.7,1321.7 682.6,1321.7 683.6,1321.7 684.5,1321.6 685.4,1321.6 686.4,1321.5 687.3,1321.5 688.2,1321.5 689.2,1321.4 690.1,1321.4 691.1,1321.3 692.0,1321.3 692.9,1321.3 693.9,1321.2 694.8,1321.2 695.7,1321.1 696.7,1321.1 697.6,1321.1 698.6,1321.0 699.5,1321.0 700.4,1321.0 701.4,1320.9 702.3,1320.9 703.3,1320.8 704.2,1320.8 705.1,1320.8 706.1,1320.7 707.0,1320.7 707.9,1320.7 708.9,1320.6 709.8,1320.6 710.8,1320.6 711.7,1320.5 712.6,1320.5 713.6,1320.5 714.5,1320.4 715.5,1320.4 716.4,1320.3 717.3,1320.3 718.3,1320.3 719.2,1320.2 720.2,1320.2 721.1,1320.2 722.0,1320.1 723.0,1320.1 723.9,1320.1 724.8,1320.0 725.8,1320.0 726.7,1320.0 727.7,1319.9 728.6,1319.9 729.5,1319.9 730.5,1319.8 731.4,1319.8 732.4,1319.8 733.3,1319.7 734.2,1319.7 735.2,1319.7 736.1,1319.7 737.1,1319.6 738.0,1319.6 738.9,1319.6 739.9,1319.5 740.8,1319.5 741.8,1319.5 742.7,1319.4 743.6,1319.4 744.6,1319.4 745.5,1319.3 746.5,1319.3 747.4,1319.3 748.3,1319.3 749.3,1319.2 750.2,1319.2 751.1,1319.2 752.1,1319.1 753.0,1319.1 754.0,1319.1 754.9,1319.0 755.8,1319.0 756.8,1319.0 757.7,1319.0 758.7,1318.9 759.6,1318.9 760.5,1318.9 761.5,1318.8 762.4,1318.8 763.4,1318.8 764.3,1318.8 765.2,1318.7 766.2,1318.7 767.1,1318.7 768.1,1318.7 769.0,1318.6 769.9,1318.6 770.9,1318.6 771.8,1318.5 772.8,1318.5 773.7,1318.5 774.6,1318.5 775.6,1318.4 776.5,1318.4 777.5,1318.4 778.4,1318.4 779.3,1318.3 780.3,1318.3 781.2,1318.3 782.2,1318.3 783.1,1318.2 784.1,1318.2 785.0,1318.2 785.9,1318.2 786.9,1318.1 787.8,1318.1 788.8,1318.1 789.7,1318.1 790.6,1318.0 791.6,1318.0 792.5,1318.0 793.5,1318.0 794.4,1317.9 795.3,1317.9 796.3,1317.9 797.2,1317.9 798.2,1317.8 799.1,1317.8 800.0,1317.8 801.0,1317.8 801.9,1317.7 802.9,1317.7 803.8,1317.7 804.7,1317.7 805.7,1317.6 806.6,1317.6 807.6,1317.6 808.5,1317.6 809.4,1317.6 810.4,1317.5 811.3,1317.5 812.3,1317.5 813.2,1317.5 814.1,1317.4 815.1,1317.4 816.0,1317.4 817.0,1317.4 817.9,1317.4 818.9,1317.3 819.8,1317.3 820.7,1317.3 821.7,1317.3 822.6,1317.2 823.6,1317.2 824.5,1317.2 825.4,1317.2 826.4,1317.2 827.3,1317.1 828.3,1317.1 829.2,1317.1 830.1,1317.1 831.1,1317.1 832.0,1317.0 833.0,1317.0 833.9,1317.0 834.8,1317.0 835.8,1316.9 836.7,1316.9 837.7,1316.9 838.6,1316.9 839.6,1316.9 840.5,1316.8 841.4,1316.8 842.4,1316.8 843.3,1316.8 844.3,1316.8 845.2,1316.7 846.1,1316.7 847.1,1316.7 848.0,1316.7 849.0,1316.7 849.9,1316.6 850.8,1316.6 851.8,1316.6 852.7,1316.6 853.7,1316.6 854.6,1316.6 855.6,1316.5 856.5,1316.5 857.4,1316.5 858.4,1316.5 859.3,1316.5 860.3,1316.4 861.2,1316.4 862.1,1316.4 863.1,1316.4 864.0,1316.4 865.0,1316.3 865.9,1316.3 866.8,1316.3 867.8,1316.3 868.7,1316.3 869.7,1316.3 870.6,1316.2 871.6,1316.2 872.5,1316.2 873.4,1316.2 874.4,1316.2 875.3,1316.1 876.3,1316.1 877.2,1316.1 878.1,1316.1 879.1,1316.1 880.0,1316.1 881.0,1316.0 881.9,1316.0 882.8,1316.0 883.8,1316.0 884.7,1316.0 885.7,1316.0 886.6,1315.9 887.6,1315.9 888.5,1315.9 889.4,1315.9 890.4,1315.9 891.3,1315.9 892.3,1315.8 893.2,1315.8 894.1,1315.8 895.1,1315.8 896.0,1315.8 897.0,1315.8 897.9,1315.7 898.9,1315.7 899.8,1315.7 900.7,1315.7 901.7,1315.7 902.6,1315.7 903.6,1315.6 904.5,1315.6 905.4,1315.6 906.4,1315.6 907.3,1315.6 908.3,1315.6 909.2,1315.5 910.2,1315.5 911.1,1315.5 912.0,1315.5 913.0,1315.5 913.9,1315.5 914.9,1315.5 915.8,1315.4 916.7,1315.4 917.7,1315.4 918.6,1315.4 919.6,1315.4 920.5,1315.4 921.4,1315.3 922.4,1315.3 923.3,1315.3 924.3,1315.3 925.2,1315.3 926.2,1315.3 927.1,1315.3 928.0,1315.2 929.0,1315.2 929.9,1315.2 930.9,1315.2 931.8,1315.2 932.7,1315.2 933.7,1315.2 934.6,1315.1 935.6,1315.1 936.5,1315.1 937.5,1315.1 938.4,1315.1 939.3,1315.1 940.3,1315.1 941.2,1315.0 942.2,1315.0 943.1,1315.0 944.0,1315.0 945.0,1315.0 945.9,1315.0 946.9,1315.0 947.8,1314.9 948.8,1314.9 949.7,1314.9 950.6,1314.9 951.6,1314.9 952.5,1314.9 953.5,1314.9 954.4,1314.9 955.3,1314.8 956.3,1314.8 957.2,1314.8 958.2,1314.8 959.1,1314.8 960.1,1314.8 961.0,1314.8 961.9,1314.7 962.9,1314.7 963.8,1314.7 964.8,1314.7 965.7,1314.7 966.6,1314.7 967.6,1314.7 968.5,1314.7 969.5,1314.6 970.4,1314.6 971.4,1314.6 972.3,1314.6 973.2,1314.6 974.2,1314.6 975.1,1314.6 976.1,1314.6 977.0,1314.5 977.9,1314.5 978.9,1314.5 979.8,1314.5 980.8,1314.5 981.7,1314.5 982.7,1314.5 983.6,1314.5 984.5,1314.5 985.5,1314.4 986.4,1314.4 987.4,1314.4 988.3,1314.4 989.2,1314.4 990.2,1314.4 991.1,1314.4 992.1,1314.4 993.0,1314.4 994.0,1314.3 994.9,1314.3 995.8,1314.3 996.8,1314.3 997.7,1314.3 998.7,1314.3 999.6,1314.3 1000.5,1314.3 1001.5,1314.3 1002.4,1314.2 1003.4,1314.2 1004.3,1314.2 1005.3,1314.2 1006.2,1314.2 1007.1,1314.2 1008.1,1314.2 1009.0,1314.2 1010.0,1314.2 1010.9,1314.2 1011.8,1314.1 1012.8,1314.1 1013.7,1314.1 1014.7,1314.1 1015.6,1314.1 1016.6,1314.1 1017.5,1314.1 1018.4,1314.1 1019.4,1314.1 1020.3,1314.1 1021.3,1314.0 1022.2,1314.0 1023.1,1314.0 1024.1,1314.0 1025.0,1314.0 1026.0,1314.0 1026.9,1314.0 1027.9,1314.0 1028.8,1314.0 1029.7,1314.0 1030.7,1313.9 1031.6,1313.9 1032.6,1313.9 1033.5,1313.9 1034.4,1313.9 1035.4,1313.9 1036.3,1313.9 1037.3,1313.9 1038.2,1313.9 1039.2,1313.9 1040.1,1313.9 1041.0,1313.9 1042.0,1313.8 1042.9,1313.8 1043.9,1313.8 1044.8,1313.8 1045.7,1313.8 1046.7,1313.8 1047.6,1313.8 1048.6,1313.8 1049.5,1313.8 1050.5,1313.8 1051.4,1313.8 1052.3,1313.8 1053.3,1313.7 1054.2,1313.7 1055.2,1313.7 1056.1,1313.7 1057.0,1313.7 1058.0,1313.7 1058.9,1313.7 1059.9,1313.7 1060.8,1313.7 1061.8,1313.7 1062.7,1313.7 1063.6,1313.7 1064.6,1313.7 1065.5,1313.7 1066.5,1313.6 1067.4,1313.6 1068.3,1313.6 1069.3,1313.6 1070.2,1313.6 1071.2,1313.6 1072.1,1313.6 1073.1,1313.6 1074.0,1313.6 1074.9,1313.6 1075.9,1313.6 1076.8,1313.6 1077.8,1313.6 1078.7,1313.6 1079.6,1313.6 1080.6,1313.6 1081.5,1313.5 1082.5,1313.5 1083.4,1313.5 1084.3,1313.5 1085.3,1313.5 1086.2,1313.5 1087.2,1313.5 1088.1,1313.5 1089.1,1313.5 1090.0,1313.5 1090.9,1313.5 1091.9,1313.5 1092.8,1313.5 1093.8,1313.5 1094.7,1313.5 1095.6,1313.5 1096.6,1313.5 1097.5,1313.5 1098.5,1313.5 1099.4,1313.5 1100.4,1313.5 1101.3,1313.4 1102.2,1313.4 1103.2,1313.4 1104.1,1313.4 1105.1,1313.4 1106.0,1313.4 1106.9,1313.4 1107.9,1313.4 1108.8,1313.4 1109.8,1313.4 1110.7,1313.4 1111.6,1313.4 1112.6,1313.4 1113.5,1313.4 1114.5,1313.4 1115.4,1313.4 1116.4,1313.4 1117.3,1313.4 1118.2,1313.4 1119.2,1313.4 1120.1,1313.4 1121.1,1313.4 1122.0,1313.4 1122.9,1313.4 1123.9,1313.4 1124.8,1313.4 1125.8,1313.4 1126.7,1313.4 1127.6,1313.4 1128.6,1313.4 1129.5,1313.4 1130.5,1313.4 1131.4,1313.4 1132.3,1313.4 1133.3,1313.4 1134.2,1313.4 1135.2,1313.4 1136.1,1313.4 1137.1,1313.4 1138.0,1313.4 1138.9,1313.4 1139.9,1313.4 1140.8,1313.4 1141.8,1313.4 1142.7,1313.4 1143.6,1313.4 1144.6,1313.4 1145.5,1313.4 1146.5,1313.4 1147.4,1313.4 1148.3,1313.4 1149.3,1313.4 1150.2,1313.4 1151.2,1313.4 1152.1,1313.4 1153.0,1313.4 1154.0,1313.4 1154.9,1313.4 1155.9,1313.4 1156.8,1313.4 1157.8,1313.4 1158.7,1313.4 1159.6,1313.4 1160.6,1313.4 1161.5,1313.4 1162.5,1313.4 1163.4,1313.4 1164.3,1313.4 1165.3,1313.4 1166.2,1313.4 1167.2,1313.4 1168.1,1313.4 1169.0,1313.4 1170.0,1313.4 1170.9,1313.4 1171.9,1313.4 1172.8,1313.4 1173.7,1313.4 1174.7,1313.4 1175.6,1313.4 1176.6,1313.4 1177.5,1313.4 1178.4,1313.4 1179.4,1313.4 1180.3,1313.4 1181.3,1313.5 1182.2,1313.5 1183.1,1313.5 1184.1,1313.5 1185.0,1313.5 1186.0,1313.5 1186.9,1313.5 1187.9,1313.5 1188.8,1313.5 1189.7,1313.5 1190.7,1313.5 1191.6,1313.5 1192.6,1313.5 1193.5,1313.5 1194.4,1313.5 1195.4,1313.5 1196.3,1313.5 1197.3,1313.6 1198.2,1313.6 1199.1,1313.6 1200.1,1313.6 1201.0,1313.6 1202.0,1313.6 1202.9,1313.6 1203.8,1313.6 1204.8,1313.6 1205.7,1313.6 1206.7,1313.6 1207.6,1313.6 1208.5,1313.7 1209.5,1313.7 1210.4,1313.7 1211.4,1313.7 1212.3,1313.7 1213.2,1313.7 1214.2,1313.7 1215.1,1313.7 1216.1,1313.7 1217.0,1313.8 1217.9,1313.8 1218.9,1313.8 1219.8,1313.8 1220.8,1313.8 1221.7,1313.8 1222.6,1313.8 1223.6,1313.8 1224.5,1313.8 1225.5,1313.9 1226.4,1313.9 1227.3,1313.9 1228.3,1313.9 1229.2,1313.9 1230.1,1313.9 1231.1,1313.9 1232.0,1314.0 1233.0,1314.0 1233.9,1314.0 1234.8,1314.0 1235.8,1314.0 1236.7,1314.0 1237.7,1314.0 1238.6,1314.1 1239.5,1314.1 1240.5,1314.1 1241.4,1314.1 1242.4,1314.1 1243.3,1314.1 1244.2,1314.2 1245.2,1314.2 1246.1,1314.2 1247.1,1314.2 1248.0,1314.2 1248.9,1314.2 1249.9,1314.3 1250.8,1314.3 1251.8,1314.3 1252.7,1314.3 1253.6,1314.3 1254.6,1314.4 1255.5,1314.4 1256.4,1314.4 1257.4,1314.4 1258.3,1314.4 1259.3,1314.5 1260.2,1314.5 1261.1,1314.5 1262.1,1314.5 1263.0,1314.5 1264.0,1314.6 1264.9,1314.6 1265.8,1314.6 1266.8,1314.6 1267.7,1314.7 1268.7,1314.7 1269.6,1314.7 1270.5,1314.7 1271.5,1314.8 1272.4,1314.8 1273.3,1314.8 1274.3,1314.8 1275.2,1314.9 1276.2,1314.9 1277.1,1314.9 1278.0,1314.9 1279.0,1315.0 1279.9,1315.0 1280.9,1315.0 1281.8,1315.1 1282.7,1315.1 1283.7,1315.1 1284.6,1315.1 1285.5,1315.2 1286.5,1315.2 1287.4,1315.2 1288.4,1315.3 1289.3,1315.3 1290.2,1315.3 1291.2,1315.3 1292.1,1315.4 1293.0,1315.4 1294.0,1315.4 1294.9,1315.5 1295.9,1315.5 1296.8,1315.5 1297.7,1315.6 1298.7,1315.6 1299.6,1315.6 1300.6,1315.7 1301.5,1315.7 1302.4,1315.8 1303.4,1315.8 1304.3,1315.8 1305.2,1315.9 1306.2,1315.9 1307.1,1315.9 1308.1,1316.0 1309.0,1316.0 1309.9,1316.1 1310.9,1316.1 1311.8,1316.1 1312.7,1316.2 1313.7,1316.2 1314.6,1316.3 1315.5,1316.3 1316.5,1316.3 1317.4,1316.4 1318.4,1316.4 1319.3,1316.5 1320.2,1316.5 1321.2,1316.6 1322.1,1316.6 1323.0,1316.7 1324.0,1316.7 1324.9,1316.7 1325.9,1316.8 1326.8,1316.8 1327.7,1316.9 1328.7,1316.9 1329.6,1317.0 1330.5,1317.0 1331.5,1317.1 1332.4,1317.1 1333.3,1317.2 1334.3,1317.2 1335.2,1317.3 1336.2,1317.3 1337.1,1317.4 1338.0,1317.5 1339.0,1317.5 1339.9,1317.6 1340.8,1317.6 1341.8,1317.7 1342.7,1317.7 1343.6,1317.8 1344.6,1317.8 1345.5,1317.9 1346.4,1318.0 1347.4,1318.0 1348.3,1318.1 1349.3,1318.1 1350.2,1318.2 1351.1,1318.3 1352.1,1318.3 1353.0,1318.4 1353.9,1318.5 1354.9,1318.5 1355.8,1318.6 1356.7,1318.7 1357.7,1318.7 1358.6,1318.8 1359.5,1318.9 1360.5,1318.9 1361.4,1319.0 1362.3,1319.1 1363.3,1319.1 1364.2,1319.2 1365.1,1319.3 1366.1,1319.4 1367.0,1319.4 1367.9,1319.5 1368.9,1319.6 1369.8,1319.7 1370.7,1319.7 1371.7,1319.8 1372.6,1319.9 1373.5,1320.0 1374.5,1320.1 1375.4,1320.2 1376.3,1320.2 1377.3,1320.3 1378.2,1320.4 1379.1,1320.5 1380.1,1320.6 1381.0,1320.7 1381.9,1320.8 1382.9,1320.8 1383.8,1320.9 1384.7,1321.0 1385.7,1321.1 1386.6,1321.2 1387.5,1321.3 1388.5,1321.4 1389.4,1321.5 1390.3,1321.6 1391.3,1321.7 1392.2,1321.8 1393.1,1321.9 1394.1,1322.0 1395.0,1322.1 1395.9,1322.2 1396.9,1322.3 1397.8,1322.4 1398.7,1322.5 1399.7,1322.6 1400.6,1322.7 1401.5,1322.8 1402.4,1323.0 1403.4,1323.1 1404.3,1323.2 1405.2,1323.3 1406.2,1323.4 1407.1,1323.5 1408.0,1323.7 1409.0,1323.8 1409.9,1323.9 1410.8,1324.0 1411.7,1324.1 1412.7,1324.3 1413.6,1324.4 1414.5,1324.5 1415.5,1324.7 1416.4,1324.8 1417.3,1324.9 1418.2,1325.1 1419.2,1325.2 1420.1,1325.3 1421.0,1325.5 1422.0,1325.6 1422.9,1325.8 1423.8,1325.9 1424.7,1326.1 1425.7,1326.2 1426.6,1326.4 1427.5,1326.5 1428.5,1326.7 1429.4,1326.8 1430.3,1327.0 1431.2,1327.1 1432.2,1327.3 1433.1,1327.4 1434.0,1327.6 1434.9,1327.8 1435.9,1327.9 1436.8,1328.1 1437.7,1328.3 1438.6,1328.5 1439.6,1328.6 1440.5,1328.8 1441.4,1329.0 1442.3,1329.2 1443.3,1329.4 1444.2,1329.5 1445.1,1329.7 1446.0,1329.9 1447.0,1330.1 1447.9,1330.3 1448.8,1330.5 1449.7,1330.7 1450.7,1330.9 1451.6,1331.1 1452.5,1331.3 1453.4,1331.5 1454.3,1331.8 1455.3,1332.0 1456.2,1332.2 1457.1,1332.4 1458.0,1332.6 1458.9,1332.9 1459.9,1333.1 1460.8,1333.3 1461.7,1333.6 1462.6,1333.8 1463.5,1334.0 1464.5,1334.3 1465.4,1334.5 1466.3,1334.8 1467.2,1335.0 1468.1,1335.3 1469.1,1335.5 1470.0,1335.8 1470.9,1336.1 1471.8,1336.4 1472.7,1336.6 1473.6,1336.9 1474.5,1337.2 1475.5,1337.5 1476.4,1337.8 1477.3,1338.1 1478.2,1338.4 1479.1,1338.7 1480.0,1339.0 1480.9,1339.3 1481.9,1339.6 1482.8,1339.9 1483.7,1340.2 1484.6,1340.5 1485.5,1340.9 1486.4,1341.2 1487.3,1341.6 1488.2,1341.9 1489.1,1342.3 1490.1,1342.6 1491.0,1343.0 1491.9,1343.3 1492.8,1343.7 1493.7,1344.1 1494.6,1344.5 1495.5,1344.8 1496.4,1345.2 1497.3,1345.6 1498.2,1346.0 1499.1,1346.5 1500.0,1346.9 1500.9,1347.3 1501.8,1347.7 1502.7,1348.2 1503.6,1348.6 1504.5,1349.1 1505.4,1349.5 1506.3,1350.0 1507.2,1350.4 1508.1,1350.9 1509.0,1351.4 1509.9,1351.9 1510.8,1352.4 1511.7,1352.9 1512.6,1353.4 1513.5,1353.9 1514.4,1354.5 1515.3,1355.0 1516.1,1355.6 1517.0,1356.1 1517.9,1356.7 1518.8,1357.3 1519.7,1357.9 1520.6,1358.5 1521.5,1359.1 1522.3,1359.7 1523.2,1360.3 1524.1,1360.9 1525.0,1361.6 1525.9,1362.2 1526.7,1362.9 1527.6,1363.6 1528.5,1364.3 1529.4,1365.0 1530.2,1365.7 1531.1,1366.4 1532.0,1367.2 1532.9,1367.9 1533.7,1368.7 1534.6,1369.5 1535.4,1370.3 1536.3,1371.1 1537.2,1371.9 1538.0,1372.8 1538.9,1373.6 1539.7,1374.5 1540.6,1375.4 1541.4,1376.3 1542.3,1377.2 1543.1,1378.2 1544.0,1379.1 1544.8,1380.1 1545.7,1381.1 1546.5,1382.1 1547.3,1383.1 1548.2,1384.2 1549.0,1385.3 1549.8,1386.3 1550.7,1387.5 1551.5,1388.6 1552.3,1389.7 1553.1,1390.9 1553.9,1392.1 1554.8,1393.3 1555.6,1394.6 1556.4,1395.8 1557.2,1397.1 1558.0,1398.5 1558.8,1399.8 1559.6,1401.2 1560.3,1402.6 1561.1,1404.0 1561.9,1405.4 1562.7,1406.9 1563.4,1408.4 1564.2,1409.9 1565.0,1411.5 1565.7,1413.1 1566.5,1414.7 1567.2,1416.3 1568.0,1418.0 1568.7,1419.7 1569.4,1421.5 1570.1,1423.2 1570.8,1425.0 1571.6,1426.8 1572.3,1428.7 1572.9,1430.6 1573.6,1432.5 1574.3,1434.4 1575.0,1436.3 1575.6,1438.3 1576.3,1440.3 1576.9,1442.4 1577.6,1444.4 1578.2,1446.5 1578.8,1448.6 1579.4,1450.7 1580.0,1452.8 1580.6,1454.9 1581.1,1457.0 1581.7,1459.2 1582.2,1461.3 1582.7,1463.5 1583.3,1465.6 1583.8,1467.7 1584.2,1469.8 1584.7,1471.9 1585.2,1473.9 1585.6,1476.0 1586.0,1477.9 1586.4,1479.9 1586.8,1481.8 1587.2,1483.6 1587.5,1485.4 1587.8,1487.1 1588.1,1488.7 1588.4,1490.2 1588.7,1491.7 1588.9,1493.0 1589.1,1494.2 1589.3,1495.3 1589.5,1496.4 1589.7,1497.2 1589.8,1498.0 1589.9,1498.6 1590.0,1499.1 1590.1,1499.5 1590.1,1499.7" fill="none" stroke="#756bb1" stroke-width="5.45" stroke-linecap="butt" stroke-linejoin="round" stroke-dasharray="20.17 8.72" clip-path="url(#clipb)" />
<polyline points="273.2,5741.6 273.2,5741.6 273.2,5741.6 273.3,5291.6 273.3,4488.6 273.4,3953.3 273.5,3571.0 273.6,3284.2 273.7,3061.2 273.8,2882.8 274.0,2736.8 274.1,2615.2 274.3,2512.3 274.4,2424.1 274.6,2347.6 274.8,2280.7 275.0,2221.7 275.3,2169.3 275.5,2122.4 275.8,2080.1 276.0,2041.9 276.3,2007.2 276.6,1975.5 276.9,1946.4 277.2,1919.7 277.5,1895.0 277.8,1872.2 278.2,1851.0 278.5,1831.2 278.9,1812.8 279.3,1795.5 279.7,1779.4 280.1,1764.2 280.5,1749.9 280.9,1736.5 281.3,1723.7 281.7,1711.7 282.2,1700.3 282.6,1689.5 283.1,1679.3 283.5,1669.5 284.0,1660.2 284.5,1651.3 285.0,1642.9 285.5,1634.8 286.0,1627.1 286.5,1619.7 287.1,1612.6 287.6,1605.8 288.1,1599.3 288.7,1593.0 289.2,1587.0 289.8,1581.2 290.4,1575.6 291.0,1570.2 291.5,1565.1 292.1,1560.1 292.7,1555.2 293.3,1550.6 293.9,1546.1 294.5,1541.7 295.2,1537.5 295.8,1533.4 296.4,1529.5 297.1,1525.6 297.7,1521.9 298.4,1518.3 299.0,1514.8 299.7,1511.4 300.3,1508.1 301.0,1504.9 301.7,1501.8 302.3,1498.8 303.0,1495.9 303.7,1493.0 304.4,1490.2 305.1,1487.5 305.8,1484.9 306.5,1482.3 307.2,1479.8 307.9,1477.3 308.6,1474.9 309.3,1472.6 310.1,1470.3 310.8,1468.1 311.5,1466.0 312.2,1463.8 313.0,1461.8 313.7,1459.8 314.5,1457.8 315.2,1455.9 316.0,1454.0 316.7,1452.1 317.5,1450.3 318.2,1448.6 319.0,1446.8 319.7,1445.1 320.5,1443.5 321.3,1441.9 322.1,1440.3 322.8,1438.7 323.6,1437.2 324.4,1435.7 325.2,1434.2 325.9,1432.8 326.7,1431.4 327.5,1430.0 328.3,1428.6 329.1,1427.3 329.9,1426.0 330.7,1424.7 331.5,1423.4 332.3,1422.2 333.1,1421.0 333.9,1419.8 334.7,1418.6 335.5,1417.5 336.3,1416.3 337.2,1415.2 338.0,1414.1 338.8,1413.0 339.6,1412.0 340.4,1410.9 341.2,1409.9 342.1,1408.9 342.9,1407.9 343.7,1407.0 344.5,1406.0 345.4,1405.1 346.2,1404.1 347.0,1403.2 347.9,1402.3 348.7,1401.4 349.5,1400.6 350.4,1399.7 351.2,1398.9 352.1,1398.0 352.9,1397.2 353.8,1396.4 354.6,1395.6 355.4,1394.8 356.3,1394.1 357.1,1393.3 358.0,1392.6 358.8,1391.8 359.7,1391.1 360.5,1390.4 361.4,1389.7 362.3,1389.0 363.1,1388.3 364.0,1387.6 364.8,1386.9 365.7,1386.3 366.5,1385.6 367.4,1385.0 368.3,1384.3 369.1,1383.7 370.0,1383.1 370.9,1382.5 371.7,1381.9 372.6,1381.3 373.5,1380.7 374.3,1380.1 375.2,1379.6 376.1,1379.0 376.9,1378.5 377.8,1377.9 378.7,1377.4 379.6,1376.8 380.4,1376.3 381.3,1375.8 382.2,1375.3 383.1,1374.8 383.9,1374.2 384.8,1373.8 385.7,1373.3 386.6,1372.8 387.5,1372.3 388.3,1371.8 389.2,1371.4 390.1,1370.9 391.0,1370.4 391.9,1370.0 392.8,1369.5 393.6,1369.1 394.5,1368.7 395.4,1368.2 396.3,1367.8 397.2,1367.4 398.1,1367.0 399.0,1366.5 399.8,1366.1 400.7,1365.7 401.6,1365.3 402.5,1364.9 403.4,1364.6 404.3,1364.2 405.2,1363.8 406.1,1363.4 407.0,1363.0 407.9,1362.7 408.8,1362.3 409.7,1361.9 410.6,1361.6 411.5,1361.2 412.3,1360.9 413.2,1360.5 414.1,1360.2 415.0,1359.8 415.9,1359.5 416.8,1359.2 417.7,1358.8 418.6,1358.5 419.5,1358.2 420.4,1357.9 421.3,1357.6 422.2,1357.2 423.1,1356.9 424.0,1356.6 424.9,1356.3 425.8,1356.0 426.7,1355.7 427.6,1355.4 428.6,1355.1 429.5,1354.9 430.4,1354.6 431.3,1354.3 432.2,1354.0 433.1,1353.7 434.0,1353.4 434.9,1353.2 435.8,1352.9 436.7,1352.6 437.6,1352.4 438.5,1352.1 439.4,1351.8 440.3,1351.6 441.2,1351.3 442.1,1351.1 443.1,1350.8 444.0,1350.6 444.9,1350.3 445.8,1350.1 446.7,1349.8 447.6,1349.6 448.5,1349.4 449.4,1349.1 450.3,1348.9 451.3,1348.7 452.2,1348.4 453.1,1348.2 454.0,1348.0 454.9,1347.8 455.8,1347.5 456.7,1347.3 457.6,1347.1 458.6,1346.9 459.5,1346.7 460.4,1346.5 461.3,1346.3 462.2,1346.0 463.1,1345.8 464.0,1345.6 465.0,1345.4 465.9,1345.2 466.8,1345.0 467.7,1344.8 468.6,1344.6 469.5,1344.4 470.5,1344.3 471.4,1344.1 472.3,1343.9 473.2,1343.7 474.1,1343.5 475.0,1343.3 476.0,1343.1 476.9,1342.9 477.8,1342.8 478.7,1342.6 479.6,1342.4 480.6,1342.2 481.5,1342.1 482.4,1341.9 483.3,1341.7 484.2,1341.5 485.2,1341.4 486.1,1341.2 487.0,1341.0 487.9,1340.9 488.8,1340.7 489.8,1340.5 490.7,1340.4 491.6,1340.2 492.5,1340.1 493.4,1339.9 494.4,1339.8 495.3,1339.6 496.2,1339.4 497.1,1339.3 498.1,1339.1 499.0,1339.0 499.9,1338.8 500.8,1338.7 501.7,1338.5 502.7,1338.4 503.6,1338.3 504.5,1338.1 505.4,1338.0 506.4,1337.8 507.3,1337.7 508.2,1337.5 509.1,1337.4 510.1,1337.3 511.0,1337.1 511.9,1337.0 512.8,1336.9 513.8,1336.7 514.7,1336.6 515.6,1336.5 516.5,1336.3 517.5,1336.2 518.4,1336.1 519.3,1336.0 520.2,1335.8 521.2,1335.7 522.1,1335.6 523.0,1335.5 523.9,1335.3 524.9,1335.2 525.8,1335.1 526.7,1335.0 527.6,1334.8 528.6,1334.7 529.5,1334.6 530.4,1334.5 531.4,1334.4 532.3,1334.3 533.2,1334.1 534.1,1334.0 535.1,1333.9 536.0,1333.8 536.9,1333.7 537.8,1333.6 538.8,1333.5 539.7,1333.4 540.6,1333.3 541.6,1333.1 542.5,1333.0 543.4,1332.9 544.3,1332.8 545.3,1332.7 546.2,1332.6 547.1,1332.5 548.1,1332.4 549.0,1332.3 549.9,1332.2 550.9,1332.1 551.8,1332.0 552.7,1331.9 553.6,1331.8 554.6,1331.7 555.5,1331.6 556.4,1331.5 557.4,1331.4 558.3,1331.3 559.2,1331.2 560.2,1331.1 561.1,1331.0 562.0,1331.0 562.9,1330.9 563.9,1330.8 564.8,1330.7 565.7,1330.6 566.7,1330.5 567.6,1330.4 568.5,1330.3 569.5,1330.2 570.4,1330.1 571.3,1330.1 572.3,1330.0 573.2,1329.9 574.1,1329.8 575.1,1329.7 576.0,1329.6 576.9,1329.5 577.9,1329.5 578.8,1329.4 579.7,1329.3 580.6,1329.2 581.6,1329.1 582.5,1329.1 583.4,1329.0 584.4,1328.9 585.3,1328.8 586.2,1328.7 587.2,1328.7 588.1,1328.6 589.0,1328.5 590.0,1328.4 590.9,1328.4 591.8,1328.3 592.8,1328.2 593.7,1328.1 594.6,1328.1 595.6,1328.0 596.5,1327.9 597.4,1327.8 598.4,1327.8 599.3,1327.7 600.2,1327.6 601.2,1327.5 602.1,1327.5 603.0,1327.4 604.0,1327.3 604.9,1327.3 605.8,1327.2 606.8,1327.1 607.7,1327.1 608.7,1327.0 609.6,1326.9 610.5,1326.9 611.5,1326.8 612.4,1326.7 613.3,1326.7 614.3,1326.6 615.2,1326.5 616.1,1326.5 617.1,1326.4 618.0,1326.3 618.9,1326.3 619.9,1326.2 620.8,1326.1 621.7,1326.1 622.7,1326.0 623.6,1326.0 624.5,1325.9 625.5,1325.8 626.4,1325.8 627.3,1325.7 628.3,1325.6 629.2,1325.6 630.2,1325.5 631.1,1325.5 632.0,1325.4 633.0,1325.4 633.9,1325.3 634.8,1325.2 635.8,1325.2 636.7,1325.1 637.6,1325.1 638.6,1325.0 639.5,1325.0 640.4,1324.9 641.4,1324.8 642.3,1324.8 643.3,1324.7 644.2,1324.7 645.1,1324.6 646.1,1324.6 647.0,1324.5 647.9,1324.5 648.9,1324.4 649.8,1324.4 650.7,1324.3 651.7,1324.2 652.6,1324.2 653.6,1324.1 654.5,1324.1 655.4,1324.0 656.4,1324.0 657.3,1323.9 658.2,1323.9 659.2,1323.8 660.1,1323.8 661.1,1323.7 662.0,1323.7 662.9,1323.6 663.9,1323.6 664.8,1323.5 665.7,1323.5 666.7,1323.4 667.6,1323.4 668.6,1323.4 669.5,1323.3 670.4,1323.3 671.4,1323.2 672.3,1323.2 673.2,1323.1 674.2,1323.1 675.1,1323.0 676.0,1323.0 677.0,1322.9 677.9,1322.9 678.9,1322.8 679.8,1322.8 680.7,1322.8 681.7,1322.7 682.6,1322.7 683.6,1322.6 684.5,1322.6 685.4,1322.5 686.4,1322.5 687.3,1322.4 688.2,1322.4 689.2,1322.4 690.1,1322.3 691.1,1322.3 692.0,1322.2 692.9,1322.2 693.9,1322.2 694.8,1322.1 695.7,1322.1 696.7,1322.0 697.6,1322.0 698.6,1321.9 699.5,1321.9 700.4,1321.9 701.4,1321.8 702.3,1321.8 703.3,1321.8 704.2,1321.7 705.1,1321.7 706.1,1321.6 707.0,1321.6 707.9,1321.6 708.9,1321.5 709.8,1321.5 710.8,1321.4 711.7,1321.4 712.6,1321.4 713.6,1321.3 714.5,1321.3 715.5,1321.3 716.4,1321.2 717.3,1321.2 718.3,1321.1 719.2,1321.1 720.2,1321.1 721.1,1321.0 722.0,1321.0 723.0,1321.0 723.9,1320.9 724.8,1320.9 725.8,1320.9 726.7,1320.8 727.7,1320.8 728.6,1320.8 729.5,1320.7 730.5,1320.7 731.4,1320.6 732.4,1320.6 733.3,1320.6 734.2,1320.5 735.2,1320.5 736.1,1320.5 737.1,1320.4 738.0,1320.4 738.9,1320.4 739.9,1320.3 740.8,1320.3 741.8,1320.3 742.7,1320.3 743.6,1320.2 744.6,1320.2 745.5,1320.2 746.5,1320.1 747.4,1320.1 748.3,1320.1 749.3,1320.0 750.2,1320.0 751.1,1320.0 752.1,1319.9 753.0,1319.9 754.0,1319.9 754.9,1319.8 755.8,1319.8 756.8,1319.8 757.7,1319.8 758.7,1319.7 759.6,1319.7 760.5,1319.7 761.5,1319.6 762.4,1319.6 763.4,1319.6 764.3,1319.5 765.2,1319.5 766.2,1319.5 767.1,1319.5 768.1,1319.4 769.0,1319.4 769.9,1319.4 770.9,1319.3 771.8,1319.3 772.8,1319.3 773.7,1319.3 774.6,1319.2 775.6,1319.2 776.5,1319.2 777.5,1319.1 778.4,1319.1 779.3,1319.1 780.3,1319.1 781.2,1319.0 782.2,1319.0 783.1,1319.0 784.1,1319.0 785.0,1318.9 785.9,1318.9 786.9,1318.9 787.8,1318.8 788.8,1318.8 789.7,1318.8 790.6,1318.8 791.6,1318.7 792.5,1318.7 793.5,1318.7 794.4,1318.7 795.3,1318.6 796.3,1318.6 797.2,1318.6 798.2,1318.6 799.1,1318.5 800.0,1318.5 801.0,1318.5 801.9,1318.5 802.9,1318.4 803.8,1318.4 804.7,1318.4 805.7,1318.4 806.6,1318.3 807.6,1318.3 808.5,1318.3 809.4,1318.3 810.4,1318.2 811.3,1318.2 812.3,1318.2 813.2,1318.2 814.1,1318.1 815.1,1318.1 816.0,1318.1 817.0,1318.1 817.9,1318.1 818.9,1318.0 819.8,1318.0 820.7,1318.0 821.7,1318.0 822.6,1317.9 823.6,1317.9 824.5,1317.9 825.4,1317.9 826.4,1317.8 827.3,1317.8 828.3,1317.8 829.2,1317.8 830.1,1317.8 831.1,1317.7 832.0,1317.7 833.0,1317.7 833.9,1317.7 834.8,1317.7 835.8,1317.6 836.7,1317.6 837.7,1317.6 838.6,1317.6 839.6,1317.5 840.5,1317.5 841.4,1317.5 842.4,1317.5 843.3,1317.5 844.3,1317.4 845.2,1317.4 846.1,1317.4 847.1,1317.4 848.0,1317.4 849.0,1317.3 849.9,1317.3 850.8,1317.3 851.8,1317.3 852.7,1317.3 853.7,1317.2 854.6,1317.2 855.6,1317.2 856.5,1317.2 857.4,1317.2 858.4,1317.1 859.3,1317.1 860.3,1317.1 861.2,1317.1 862.1,1317.1 863.1,1317.0 864.0,1317.0 865.0,1317.0 865.9,1317.0 866.8,1317.0 867.8,1316.9 868.7,1316.9 869.7,1316.9 870.6,1316.9 871.6,1316.9 872.5,1316.8 873.4,1316.8 874.4,1316.8 875.3,1316.8 876.3,1316.8 877.2,1316.7 878.1,1316.7 879.1,1316.7 880.0,1316.7 881.0,1316.7 881.9,1316.7 882.8,1316.6 883.8,1316.6 884.7,1316.6 885.7,1316.6 886.6,1316.6 887.6,1316.5 888.5,1316.5 889.4,1316.5 890.4,1316.5 891.3,1316.5 892.3,1316.5 893.2,1316.4 894.1,1316.4 895.1,1316.4 896.0,1316.4 897.0,1316.4 897.9,1316.4 898.9,1316.3 899.8,1316.3 900.7,1316.3 901.7,1316.3 902.6,1316.3 903.6,1316.3 904.5,1316.2 905.4,1316.2 906.4,1316.2 907.3,1316.2 908.3,1316.2 909.2,1316.2 910.2,1316.1 911.1,1316.1 912.0,1316.1 913.0,1316.1 913.9,1316.1 914.9,1316.1 915.8,1316.0 916.7,1316.0 917.7,1316.0 918.6,1316.0 919.6,1316.0 920.5,1316.0 921.4,1315.9 922.4,1315.9 923.3,1315.9 924.3,1315.9 925.2,1315.9 926.2,1315.9 927.1,1315.9 928.0,1315.8 929.0,1315.8 929.9,1315.8 930.9,1315.8 931.8,1315.8 932.7,1315.8 933.7,1315.7 934.6,1315.7 935.6,1315.7 936.5,1315.7 937.5,1315.7 938.4,1315.7 939.3,1315.7 940.3,1315.6 941.2,1315.6 942.2,1315.6 943.1,1315.6 944.0,1315.6 945.0,1315.6 945.9,1315.6 946.9,1315.5 947.8,1315.5 948.8,1315.5 949.7,1315.5 950.6,1315.5 951.6,1315.5 952.5,1315.5 953.5,1315.4 954.4,1315.4 955.3,1315.4 956.3,1315.4 957.2,1315.4 958.2,1315.4 959.1,1315.4 960.1,1315.3 961.0,1315.3 961.9,1315.3 962.9,1315.3 963.8,1315.3 964.8,1315.3 965.7,1315.3 966.6,1315.3 967.6,1315.2 968.5,1315.2 969.5,1315.2 970.4,1315.2 971.4,1315.2 972.3,1315.2 973.2,1315.2 974.2,1315.2 975.1,1315.1 976.1,1315.1 977.0,1315.1 977.9,1315.1 978.9,1315.1 979.8,1315.1 980.8,1315.1 981.7,1315.1 982.7,1315.0 983.6,1315.0 984.5,1315.0 985.5,1315.0 986.4,1315.0 987.4,1315.0 988.3,1315.0 989.2,1315.0 990.2,1314.9 991.1,1314.9 992.1,1314.9 993.0,1314.9 994.0,1314.9 994.9,1314.9 995.8,1314.9 996.8,1314.9 997.7,1314.9 998.7,1314.8 999.6,1314.8 1000.5,1314.8 1001.5,1314.8 1002.4,1314.8 1003.4,1314.8 1004.3,1314.8 1005.3,1314.8 1006.2,1314.8 1007.1,1314.7 1008.1,1314.7 1009.0,1314.7 1010.0,1314.7 1010.9,1314.7 1011.8,1314.7 1012.8,1314.7 1013.7,1314.7 1014.7,1314.7 1015.6,1314.6 1016.6,1314.6 1017.5,1314.6 1018.4,1314.6 1019.4,1314.6 1020.3,1314.6 1021.3,1314.6 1022.2,1314.6 1023.1,1314.6 1024.1,1314.6 1025.0,1314.5 1026.0,1314.5 1026.9,1314.5 1027.9,1314.5 1028.8,1314.5 1029.7,1314.5 1030.7,1314.5 1031.6,1314.5 1032.6,1314.5 1033.5,1314.5 1034.4,1314.5 1035.4,1314.4 1036.3,1314.4 1037.3,1314.4 1038.2,1314.4 1039.2,1314.4 1040.1,1314.4 1041.0,1314.4 1042.0,1314.4 1042.9,1314.4 1043.9,1314.4 1044.8,1314.4 1045.7,1314.3 1046.7,1314.3 1047.6,1314.3 1048.6,1314.3 1049.5,1314.3 1050.5,1314.3 1051.4,1314.3 1052.3,1314.3 1053.3,1314.3 1054.2,1314.3 1055.2,1314.3 1056.1,1314.3 1057.0,1314.2 1058.0,1314.2 1058.9,1314.2 1059.9,1314.2 1060.8,1314.2 1061.8,1314.2 1062.7,1314.2 1063.6,1314.2 1064.6,1314.2 1065.5,1314.2 1066.5,1314.2 1067.4,1314.2 1068.3,1314.2 1069.3,1314.2 1070.2,1314.1 1071.2,1314.1 1072.1,1314.1 1073.1,1314.1 1074.0,1314.1 1074.9,1314.1 1075.9,1314.1 1076.8,1314.1 1077.8,1314.1 1078.7,1314.1 1079.6,1314.1 1080.6,1314.1 1081.5,1314.1 1082.5,1314.1 1083.4,1314.1 1084.3,1314.1 1085.3,1314.0 1086.2,1314.0 1087.2,1314.0 1088.1,1314.0 1089.1,1314.0 1090.0,1314.0 1090.9,1314.0 1091.9,1314.0 1092.8,1314.0 1093.8,1314.0 1094.7,1314.0 1095.6,1314.0 1096.6,1314.0 1097.5,1314.0 1098.5,1314.0 1099.4,1314.0 1100.4,1314.0 1101.3,1314.0 1102.2,1314.0 1103.2,1314.0 1104.1,1314.0 1105.1,1313.9 1106.0,1313.9 1106.9,1313.9 1107.9,1313.9 1108.8,1313.9 1109.8,1313.9 1110.7,1313.9 1111.6,1313.9 1112.6,1313.9 1113.5,1313.9 1114.5,1313.9 1115.4,1313.9 1116.4,1313.9 1117.3,1313.9 1118.2,1313.9 1119.2,1313.9 1120.1,1313.9 1121.1,1313.9 1122.0,1313.9 1122.9,1313.9 1123.9,1313.9 1124.8,1313.9 1125.8,1313.9 1126.7,1313.9 1127.6,1313.9 1128.6,1313.9 1129.5,1313.9 1130.5,1313.9 1131.4,1313.9 1132.3,1313.9 1133.3,1313.9 1134.2,1313.9 1135.2,1313.9 1136.1,1313.9 1137.1,1313.9 1138.0,1313.9 1138.9,1313.9 1139.9,1313.9 1140.8,1313.9 1141.8,1313.9 1142.7,1313.9 1143.6,1313.9 1144.6,1313.9 1145.5,1313.9 1146.5,1313.9 1147.4,1313.9 1148.3,1313.9 1149.3,1313.9 1150.2,1313.9 1151.2,1313.9 1152.1,1313.9 1153.0,1313.9 1154.0,1313.9 1154.9,1313.9 1155.9,1313.9 1156.8,1313.9 1157.8,1313.9 1158.7,1313.9 1159.6,1313.9 1160.6,1313.9 1161.5,1313.9 1162.5,1313.9 1163.4,1313.9 1164.3,1313.9 1165.3,1313.9 1166.2,1313.9 1167.2,1313.9 1168.1,1313.9 1169.0,1313.9 1170.0,1313.9 1170.9,1313.9 1171.9,1313.9 1172.8,1313.9 1173.7,1313.9 1174.7,1313.9 1175.6,1313.9 1176.6,1313.9 1177.5,1313.9 1178.4,1314.0 1179.4,1314.0 1180.3,1314.0 1181.3,1314.0 1182.2,1314.0 1183.1,1314.0 1184.1,1314.0 1185.0,1314.0 1186.0,1314.0 1186.9,1314.0 1187.9,1314.0 1188.8,1314.0 1189.7,1314.0 1190.7,1314.0 1191.6,1314.0 1192.6,1314.0 1193.5,1314.0 1194.4,1314.1 1195.4,1314.1 1196.3,1314.1 1197.3,1314.1 1198.2,1314.1 1199.1,1314.1 1200.1,1314.1 1201.0,1314.1 1202.0,1314.1 1202.9,1314.1 1203.8,1314.1 1204.8,1314.1 1205.7,1314.2 1206.7,1314.2 1207.6,1314.2 1208.5,1314.2 1209.5,1314.2 1210.4,1314.2 1211.4,1314.2 1212.3,1314.2 1213.2,1314.2 1214.2,1314.2 1215.1,1314.3 1216.1,1314.3 1217.0,1314.3 1217.9,1314.3 1218.9,1314.3 1219.8,1314.3 1220.8,1314.3 1221.7,1314.3 1222.6,1314.4 1223.6,1314.4 1224.5,1314.4 1225.5,1314.4 1226.4,1314.4 1227.3,1314.4 1228.3,1314.4 1229.2,1314.4 1230.1,1314.5 1231.1,1314.5 1232.0,1314.5 1233.0,1314.5 1233.9,1314.5 1234.8,1314.5 1235.8,1314.6 1236.7,1314.6 1237.7,1314.6 1238.6,1314.6 1239.5,1314.6 1240.5,1314.6 1241.4,1314.7 1242.4,1314.7 1243.3,1314.7 1244.2,1314.7 1245.2,1314.7 1246.1,1314.7 1247.1,1314.8 1248.0,1314.8 1248.9,1314.8 1249.9,1314.8 1250.8,1314.8 1251.8,1314.9 1252.7,1314.9 1253.6,1314.9 1254.6,1314.9 1255.5,1314.9 1256.4,1315.0 1257.4,1315.0 1258.3,1315.0 1259.3,1315.0 1260.2,1315.0 1261.1,1315.1 1262.1,1315.1 1263.0,1315.1 1264.0,1315.1 1264.9,1315.2 1265.8,1315.2 1266.8,1315.2 1267.7,1315.2 1268.7,1315.3 1269.6,1315.3 1270.5,1315.3 1271.5,1315.3 1272.4,1315.4 1273.3,1315.4 1274.3,1315.4 1275.2,1315.4 1276.2,1315.5 1277.1,1315.5 1278.0,1315.5 1279.0,1315.6 1279.9,1315.6 1280.9,1315.6 1281.8,1315.6 1282.7,1315.7 1283.7,1315.7 1284.6,1315.7 1285.5,1315.8 1286.5,1315.8 1287.4,1315.8 1288.4,1315.9 1289.3,1315.9 1290.2,1315.9 1291.2,1316.0 1292.1,1316.0 1293.0,1316.0 1294.0,1316.1 1294.9,1316.1 1295.9,1316.1 1296.8,1316.2 1297.7,1316.2 1298.7,1316.2 1299.6,1316.3 1300.6,1316.3 1301.5,1316.3 1302.4,1316.4 1303.4,1316.4 1304.3,1316.5 1305.2,1316.5 1306.2,1316.5 1307.1,1316.6 1308.1,1316.6 1309.0,1316.7 1309.9,1316.7 1310.9,1316.7 1311.8,1316.8 1312.7,1316.8 1313.7,1316.9 1314.6,1316.9 1315.5,1317.0 1316.5,1317.0 1317.4,1317.0 1318.4,1317.1 1319.3,1317.1 1320.2,1317.2 1321.2,1317.2 1322.1,1317.3 1323.0,1317.3 1324.0,1317.4 1324.9,1317.4 1325.9,1317.5 1326.8,1317.5 1327.7,1317.6 1328.7,1317.6 1329.6,1317.7 1330.5,1317.7 1331.5,1317.8 1332.4,1317.8 1333.3,1317.9 1334.3,1317.9 1335.2,1318.0 1336.2,1318.0 1337.1,1318.1 1338.0,1318.2 1339.0,1318.2 1339.9,1318.3 1340.8,1318.3 1341.8,1318.4 1342.7,1318.5 1343.6,1318.5 1344.6,1318.6 1345.5,1318.6 1346.4,1318.7 1347.4,1318.8 1348.3,1318.8 1349.3,1318.9 1350.2,1319.0 1351.1,1319.0 1352.1,1319.1 1353.0,1319.2 1353.9,1319.2 1354.9,1319.3 1355.8,1319.4 1356.7,1319.4 1357.7,1319.5 1358.6,1319.6 1359.5,1319.7 1360.5,1319.7 1361.4,1319.8 1362.3,1319.9 1363.3,1319.9 1364.2,1320.0 1365.1,1320.1 1366.1,1320.2 1367.0,1320.3 1367.9,1320.3 1368.9,1320.4 1369.8,1320.5 1370.7,1320.6 1371.7,1320.7 1372.6,1320.8 1373.5,1320.8 1374.5,1320.9 1375.4,1321.0 1376.3,1321.1 1377.3,1321.2 1378.2,1321.3 1379.1,1321.4 1380.1,1321.5 1381.0,1321.6 1381.9,1321.6 1382.9,1321.7 1383.8,1321.8 1384.7,1321.9 1385.7,1322.0 1386.6,1322.1 1387.5,1322.2 1388.5,1322.3 1389.4,1322.4 1390.3,1322.5 1391.3,1322.6 1392.2,1322.8 1393.1,1322.9 1394.1,1323.0 1395.0,1323.1 1395.9,1323.2 1396.9,1323.3 1397.8,1323.4 1398.7,1323.5 1399.7,1323.6 1400.6,1323.8 1401.5,1323.9 1402.4,1324.0 1403.4,1324.1 1404.3,1324.2 1405.2,1324.4 1406.2,1324.5 1407.1,1324.6 1408.0,1324.7 1409.0,1324.9 1409.9,1325.0 1410.8,1325.1 1411.7,1325.3 1412.7,1325.4 1413.6,1325.5 1414.5,1325.7 1415.5,1325.8 1416.4,1326.0 1417.3,1326.1 1418.2,1326.3 1419.2,1326.4 1420.1,1326.6 1421.0,1326.7 1422.0,1326.9 1422.9,1327.0 1423.8,1327.2 1424.7,1327.3 1425.7,1327.5 1426.6,1327.6 1427.5,1327.8 1428.5,1328.0 1429.4,1328.1 1430.3,1328.3 1431.2,1328.5 1432.2,1328.7 1433.1,1328.8 1434.0,1329.0 1434.9,1329.2 1435.9,1329.4 1436.8,1329.6 1437.7,1329.7 1438.6,1329.9 1439.6,1330.1 1440.5,1330.3 1441.4,1330.5 1442.3,1330.7 1443.3,1330.9 1444.2,1331.1 1445.1,1331.3 1446.0,1331.5 1447.0,1331.7 1447.9,1332.0 1448.8,1332.2 1449.7,1332.4 1450.7,1332.6 1451.6,1332.8 1452.5,1333.1 1453.4,1333.3 1454.3,1333.5 1455.3,1333.8 1456.2,1334.0 1457.1,1334.2 1458.0,1334.5 1458.9,1334.7 1459.9,1335.0 1460.8,1335.3 1461.7,1335.5 1462.6,1335.8 1463.5,1336.0 1464.5,1336.3 1465.4,1336.6 1466.3,1336.9 1467.2,1337.2 1468.1,1337.4 1469.1,1337.7 1470.0,1338.0 1470.9,1338.3 1471.8,1338.6 1472.7,1338.9 1473.6,1339.2 1474.5,1339.6 1475.5,1339.9 1476.4,1340.2 1477.3,1340.5 1478.2,1340.9 1479.1,1341.2 1480.0,1341.6 1480.9,1341.9 1481.9,1342.3 1482.8,1342.6 1483.7,1343.0 1484.6,1343.4 1485.5,1343.7 1486.4,1344.1 1487.3,1344.5 1488.2,1344.9 1489.1,1345.3 1490.1,1345.7 1491.0,1346.1 1491.9,1346.5 1492.8,1347.0 1493.7,1347.4 1494.6,1347.9 1495.5,1348.3 1496.4,1348.8 1497.3,1349.2 1498.2,1349.7 1499.1,1350.2 1500.0,1350.7 1500.9,1351.2 1501.8,1351.7 1502.7,1352.2 1503.6,1352.7 1504.5,1353.2 1505.4,1353.8 1506.3,1354.3 1507.2,1354.9 1508.1,1355.4 1509.0,1356.0 1509.9,1356.6 1510.8,1357.2 1511.7,1357.8 1512.6,1358.4 1513.5,1359.1 1514.4,1359.7 1515.3,1360.4 1516.1,1361.0 1517.0,1361.7 1517.9,1362.4 1518.8,1363.1 1519.7,1363.9 1520.6,1364.6 1521.5,1365.4 1522.3,1366.1 1523.2,1366.9 1524.1,1367.7 1525.0,1368.5 1525.9,1369.4 1526.7,1370.2 1527.6,1371.1 1528.5,1372.0 1529.4,1372.9 1530.2,1373.8 1531.1,1374.8 1532.0,1375.8 1532.9,1376.7 1533.7,1377.8 1534.6,1378.8 1535.4,1379.9 1536.3,1381.0 1537.2,1382.1 1538.0,1383.2 1538.9,1384.4 1539.7,1385.6 1540.6,1386.8 1541.4,1388.1 1542.3,1389.4 1543.1,1390.7 1544.0,1392.1 1544.8,1393.5 1545.7,1394.9 1546.5,1396.4 1547.3,1397.9 1548.2,1399.4 1549.0,1401.0 1549.8,1402.7 1550.7,1404.4 1551.5,1406.1 1552.3,1407.9 1553.1,1409.7 1553.9,1411.7 1554.8,1413.6 1555.6,1415.6 1556.4,1417.7 1557.2,1419.9 1558.0,1422.1 1558.8,1424.4 1559.6,1426.8 1560.3,1429.3 1561.1,1431.8 1561.9,1434.4 1562.7,1437.2 1563.4,1440.0 1564.2,1443.0 1565.0,1446.0 1565.7,1449.2 1566.5,1452.5 1567.2,1455.9 1568.0,1459.5 1568.7,1463.2 1569.4,1467.1 1570.1,1471.2 1570.8,1475.4 1571.6,1479.9 1572.3,1484.5 1572.9,1489.4 1573.6,1494.5 1574.3,1499.8 1575.0,1505.5 1575.6,1511.4 1576.3,1517.7 1576.9,1524.3 1577.6,1531.3 1578.2,1538.7 1578.8,1546.6 1579.4,1554.9 1580.0,1563.8 1580.6,1573.3 1581.1,1583.4 1581.7,1594.3 1582.2,1606.0 1582.7,1618.6 1583.3,1632.2 1583.8,1646.9 1584.2,1662.9 1584.7,1680.4 1585.2,1699.6 1585.6,1720.6 1586.0,1743.9 1586.4,1769.8 1586.8,1798.7 1587.2,1831.3 1587.5,1868.2 1587.8,1910.4 1588.1,1959.0 1588.4,2015.8 1588.7,2083.0 1588.9,2163.5 1589.1,2262.0 1589.3,2385.1 1589.5,2543.4 1589.7,2754.4 1589.8,3049.9 1589.9,3493.2 1590.0,4232.0 1590.1,5709.6 1590.1,5741.6" fill="none" stroke="#3182bd" stroke-width="5.45" stroke-linecap="butt" stroke-linejoin="round" stroke-dasharray="34.88 8.72 5.45 8.72" clip-path="url(#clipb)" />
<polyline points="273.2,1279.6 273.2,1282.7 273.2,1285.8 273.3,1288.9 273.3,1292.0 273.4,1295.1 273.5,1298.2 273.6,1301.3 273.7,1304.4 273.8,1307.5 274.0,1310.6 274.1,1313.7 274.3,1316.8 274.4,1319.9 274.6,1323.0 274.8,1326.1 275.0,1329.2 275.3,1332.3 275.5,1335.4 275.8,1338.5 276.0,1341.6 276.3,1344.7 276.6,1347.8 276.9,1350.9 277.2,1354.0 277.5,1357.1 277.8,1360.2 278.2,1363.3 278.5,1366.3 278.9,1369.4 279.3,1372.5 279.7,1375.6 280.1,1378.7 280.5,1381.8 280.9,1384.8 281.3,1387.9 281.7,1391.0 282.2,1394.1 282.6,1397.2 283.1,1400.2 283.5,1403.3 284.0,1406.4 284.5,1409.5 285.0,1412.5 285.5,1415.6 286.0,1418.7 286.5,1421.7 287.1,1424.8 287.6,1427.8 288.1,1430.9 288.7,1434.0 289.2,1437.0 289.8,1440.1 290.4,1443.1 291.0,1446.2 291.5,1449.2 292.1,1452.3 292.7,1455.3 293.3,1458.3 293.9,1461.4 294.5,1464.4 295.2,1467.5 295.8,1470.5 296.4,1473.5 297.1,1476.5 297.7,1479.6 298.4,1482.6 299.0,1485.6 299.7,1488.6 300.3,1491.6 301.0,1494.7 301.7,1497.7 302.3,1500.7 303.0,1503.7 303.7,1506.7 304.4,1509.7 305.1,1512.7 305.8,1515.7 306.5,1518.7 307.2,1521.7 307.9,1524.7 308.6,1527.6 309.3,1530.6 310.1,1533.6 310.8,1536.6 311.5,1539.5 312.2,1542.5 313.0,1545.5 313.7,1548.4 314.5,1551.4 315.2,1554.4 316.0,1557.3 316.7,1560.3 317.5,1563.2 318.2,1566.2 319.0,1569.1 319.7,1572.0 320.5,1575.0 321.3,1577.9 322.1,1580.8 322.8,1583.8 323.6,1586.7 324.4,1589.6 325.2,1592.5 325.9,1595.4 326.7,1598.3 327.5,1601.2 328.3,1604.1 329.1,1607.0 329.9,1609.9 330.7,1612.8 331.5,1615.7 332.3,1618.6 333.1,1621.4 333.9,1624.3 334.7,1627.2 335.5,1630.1 336.3,1632.9 337.2,1635.8 338.0,1638.6 338.8,1641.5 339.6,1644.3 340.4,1647.2 341.2,1650.0 342.1,1652.8 342.9,1655.7 343.7,1658.5 344.5,1661.3 345.4,1664.1 346.2,1667.0 347.0,1669.8 347.9,1672.6 348.7,1675.4 349.5,1678.2 350.4,1681.0 351.2,1683.8 352.1,1686.5 352.9,1689.3 353.8,1692.1 354.6,1694.9 355.4,1697.6 356.3,1700.4 357.1,1703.1 358.0,1705.9 358.8,1708.6 359.7,1711.4 360.5,1714.1 361.4,1716.9 362.3,1719.6 363.1,1722.3 364.0,1725.0 364.8,1727.8 365.7,1730.5 366.5,1733.2 367.4,1735.9 368.3,1738.6 369.1,1741.3 370.0,1744.0 370.9,1746.7 371.7,1749.3 372.6,1752.0 373.5,1754.7 374.3,1757.3 375.2,1760.0 376.1,1762.7 376.9,1765.3 377.8,1767.9 378.7,1770.6 379.6,1773.2 380.4,1775.9 381.3,1778.5 382.2,1781.1 383.1,1783.7 383.9,1786.3 384.8,1788.9 385.7,1791.5 386.6,1794.1 387.5,1796.7 388.3,1799.3 389.2,1801.9 390.1,1804.5 391.0,1807.0 391.9,1809.6 392.8,1812.2 393.6,1814.7 394.5,1817.3 395.4,1819.8 396.3,1822.3 397.2,1824.9 398.1,1827.4 399.0,1829.9 399.8,1832.4 400.7,1835.0 401.6,1837.5 402.5,1840.0 403.4,1842.5 404.3,1845.0 405.2,1847.4 406.1,1849.9 407.0,1852.4 407.9,1854.9 408.8,1857.3 409.7,1859.8 410.6,1862.2 411.5,1864.7 412.3,1867.1 413.2,1869.6 414.1,1872.0 415.0,1874.4 415.9,1876.9 416.8,1879.3 417.7,1881.7 418.6,1884.1 419.5,1886.5 420.4,1888.9 421.3,1891.3 422.2,1893.7 423.1,1896.0 424.0,1898.4 424.9,1900.8 425.8,1903.1 426.7,1905.5 427.6,1907.8 428.6,1910.2 429.5,1912.5 430.4,1914.9 431.3,1917.2 432.2,1919.5 433.1,1921.8 434.0,1924.1 434.9,1926.4 435.8,1928.7 436.7,1931.0 437.6,1933.3 438.5,1935.6 439.4,1937.9 440.3,1940.2 441.2,1942.4 442.1,1944.7 443.1,1946.9 444.0,1949.2 444.9,1951.4 445.8,1953.7 446.7,1955.9 447.6,1958.1 448.5,1960.4 449.4,1962.6 450.3,1964.8 451.3,1967.0 452.2,1969.2 453.1,1971.4 454.0,1973.6 454.9,1975.8 455.8,1977.9 456.7,1980.1 457.6,1982.3 458.6,1984.4 459.5,1986.6 460.4,1988.7 461.3,1990.9 462.2,1993.0 463.1,1995.2 464.0,1997.3 465.0,1999.4 465.9,2001.5 466.8,2003.6 467.7,2005.7 468.6,2007.8 469.5,2009.9 470.5,2012.0 471.4,2014.1 472.3,2016.2 473.2,2018.2 474.1,2020.3 475.0,2022.4 476.0,2024.4 476.9,2026.5 477.8,2028.5 478.7,2030.5 479.6,2032.6 480.6,2034.6 481.5,2036.6 482.4,2038.6 483.3,2040.6 484.2,2042.6 485.2,2044.6 486.1,2046.6 487.0,2048.6 487.9,2050.6 488.8,2052.6 489.8,2054.5 490.7,2056.5 491.6,2058.5 492.5,2060.4 493.4,2062.4 494.4,2064.3 495.3,2066.2 496.2,2068.2 497.1,2070.1 498.1,2072.0 499.0,2073.9 499.9,2075.8 500.8,2077.7 501.7,2079.6 502.7,2081.5 503.6,2083.4 504.5,2085.3 505.4,2087.2 506.4,2089.0 507.3,2090.9 508.2,2092.8 509.1,2094.6 510.1,2096.5 511.0,2098.3 511.9,2100.2 512.8,2102.0 513.8,2103.8 514.7,2105.6 515.6,2107.5 516.5,2109.3 517.5,2111.1 518.4,2112.9 519.3,2114.7 520.2,2116.5 521.2,2118.2 522.1,2120.0 523.0,2121.8 523.9,2123.6 524.9,2125.3 525.8,2127.1 526.7,2128.8 527.6,2130.6 528.6,2132.3 529.5,2134.1 530.4,2135.8 531.4,2137.5 532.3,2139.2 533.2,2141.0 534.1,2142.7 535.1,2144.4 536.0,2146.1 536.9,2147.8 537.8,2149.4 538.8,2151.1 539.7,2152.8 540.6,2154.5 541.6,2156.2 542.5,2157.8 543.4,2159.5 544.3,2161.1 545.3,2162.8 546.2,2164.4 547.1,2166.1 548.1,2167.7 549.0,2169.3 549.9,2170.9 550.9,2172.6 551.8,2174.2 552.7,2175.8 553.6,2177.4 554.6,2179.0 555.5,2180.6 556.4,2182.2 557.4,2183.7 558.3,2185.3 559.2,2186.9 560.2,2188.5 561.1,2190.0 562.0,2191.6 562.9,2193.1 563.9,2194.7 564.8,2196.2 565.7,2197.8 566.7,2199.3 567.6,2200.8 568.5,2202.4 569.5,2203.9 570.4,2205.4 571.3,2206.9 572.3,2208.4 573.2,2209.9 574.1,2211.4 575.1,2212.9 576.0,2214.4 576.9,2215.9 577.9,2217.3 578.8,2218.8 579.7,2220.3 580.6,2221.7 581.6,2223.2 582.5,2224.6 583.4,2226.1 584.4,2227.5 585.3,2229.0 586.2,2230.4 587.2,2231.8 588.1,2233.3 589.0,2234.7 590.0,2236.1 590.9,2237.5 591.8,2238.9 592.8,2240.3 593.7,2241.7 594.6,2243.1 595.6,2244.5 596.5,2245.9 597.4,2247.3 598.4,2248.6 599.3,2250.0 600.2,2251.4 601.2,2252.7 602.1,2254.1 603.0,2255.4 604.0,2256.8 604.9,2258.1 605.8,2259.5 606.8,2260.8 607.7,2262.1 608.7,2263.5 609.6,2264.8 610.5,2266.1 611.5,2267.4 612.4,2268.7 613.3,2270.0 614.3,2271.3 615.2,2272.6 616.1,2273.9 617.1,2275.2 618.0,2276.5 618.9,2277.8 619.9,2279.1 620.8,2280.3 621.7,2281.6 622.7,2282.9 623.6,2284.1 624.5,2285.4 625.5,2286.6 626.4,2287.9 627.3,2289.1 628.3,2290.4 629.2,2291.6 630.2,2292.8 631.1,2294.1 632.0,2295.3 633.0,2296.5 633.9,2297.7 634.8,2298.9 635.8,2300.2 636.7,2301.4 637.6,2302.6 638.6,2303.8 639.5,2304.9 640.4,2306.1 641.4,2307.3 642.3,2308.5 643.3,2309.7 644.2,2310.8 645.1,2312.0 646.1,2313.2 647.0,2314.3 647.9,2315.5 648.9,2316.7 649.8,2317.8 650.7,2319.0 651.7,2320.1 652.6,2321.2 653.6,2322.4 654.5,2323.5 655.4,2324.6 656.4,2325.8 657.3,2326.9 658.2,2328.0 659.2,2329.1 660.1,2330.2 661.1,2331.3 662.0,2332.4 662.9,2333.5 663.9,2334.6 664.8,2335.7 665.7,2336.8 666.7,2337.9 667.6,2339.0 668.6,2340.1 669.5,2341.1 670.4,2342.2 671.4,2343.3 672.3,2344.3 673.2,2345.4 674.2,2346.5 675.1,2347.5 676.0,2348.6 677.0,2349.6 677.9,2350.7 678.9,2351.7 679.8,2352.7 680.7,2353.8 681.7,2354.8 682.6,2355.8 683.6,2356.9 684.5,2357.9 685.4,2358.9 686.4,2359.9 687.3,2360.9 688.2,2361.9 689.2,2362.9 690.1,2363.9 691.1,2364.9 692.0,2365.9 692.9,2366.9 693.9,2367.9 694.8,2368.9 695.7,2369.9 696.7,2370.9 697.6,2371.9 698.6,2372.8 699.5,2373.8 700.4,2374.8 701.4,2375.7 702.3,2376.7 703.3,2377.7 704.2,2378.6 705.1,2379.6 706.1,2380.5 707.0,2381.5 707.9,2382.4 708.9,2383.3 709.8,2384.3 710.8,2385.2 711.7,2386.2 712.6,2387.1 713.6,2388.0 714.5,2388.9 715.5,2389.9 716.4,2390.8 717.3,2391.7 718.3,2392.6 719.2,2393.5 720.2,2394.4 721.1,2395.3 722.0,2396.2 723.0,2397.1 723.9,2398.0 724.8,2398.9 725.8,2399.8 726.7,2400.7 727.7,2401.6 728.6,2402.5 729.5,2403.3 730.5,2404.2 731.4,2405.1 732.4,2406.0 733.3,2406.8 734.2,2407.7 735.2,2408.6 736.1,2409.4 737.1,2410.3 738.0,2411.1 738.9,2412.0 739.9,2412.8 740.8,2413.7 741.8,2414.5 742.7,2415.4 743.6,2416.2 744.6,2417.1 745.5,2417.9 746.5,2418.7 747.4,2419.6 748.3,2420.4 749.3,2421.2 750.2,2422.0 751.1,2422.9 752.1,2423.7 753.0,2424.5 754.0,2425.3 754.9,2426.1 755.8,2426.9 756.8,2427.7 757.7,2428.5 758.7,2429.3 759.6,2430.1 760.5,2430.9 761.5,2431.7 762.4,2432.5 763.4,2433.3 764.3,2434.1 765.2,2434.9 766.2,2435.7 767.1,2436.4 768.1,2437.2 769.0,2438.0 769.9,2438.8 770.9,2439.6 771.8,2440.3 772.8,2441.1 773.7,2441.9 774.6,2442.6 775.6,2443.4 776.5,2444.1 777.5,2444.9 778.4,2445.6 779.3,2446.4 780.3,2447.2 781.2,2447.9 782.2,2448.6 783.1,2449.4 784.1,2450.1 785.0,2450.9 785.9,2451.6 786.9,2452.3 787.8,2453.1 788.8,2453.8 789.7,2454.5 790.6,2455.3 791.6,2456.0 792.5,2456.7 793.5,2457.4 794.4,2458.2 795.3,2458.9 796.3,2459.6 797.2,2460.3 798.2,2461.0 799.1,2461.7 800.0,2462.4 801.0,2463.1 801.9,2463.8 802.9,2464.5 803.8,2465.2 804.7,2465.9 805.7,2466.6 806.6,2467.3 807.6,2468.0 808.5,2468.7 809.4,2469.4 810.4,2470.1 811.3,2470.8 812.3,2471.5 813.2,2472.1 814.1,2472.8 815.1,2473.5 816.0,2474.2 817.0,2474.8 817.9,2475.5 818.9,2476.2 819.8,2476.9 820.7,2477.5 821.7,2478.2 822.6,2478.8 823.6,2479.5 824.5,2480.2 825.4,2480.8 826.4,2481.5 827.3,2482.1 828.3,2482.8 829.2,2483.4 830.1,2484.1 831.1,2484.7 832.0,2485.4 833.0,2486.0 833.9,2486.7 834.8,2487.3 835.8,2487.9 836.7,2488.6 837.7,2489.2 838.6,2489.9 839.6,2490.5 840.5,2491.1 841.4,2491.7 842.4,2492.4 843.3,2493.0 844.3,2493.6 845.2,2494.2 846.1,2494.9 847.1,2495.5 848.0,2496.1 849.0,2496.7 849.9,2497.3 850.8,2497.9 851.8,2498.5 852.7,2499.2 853.7,2499.8 854.6,2500.4 855.6,2501.0 856.5,2501.6 857.4,2502.2 858.4,2502.8 859.3,2503.4 860.3,2504.0 861.2,2504.6 862.1,2505.2 863.1,2505.8 864.0,2506.3 865.0,2506.9 865.9,2507.5 866.8,2508.1 867.8,2508.7 868.7,2509.3 869.7,2509.9 870.6,2510.4 871.6,2511.0 872.5,2511.6 873.4,2512.2 874.4,2512.7 875.3,2513.3 876.3,2513.9 877.2,2514.5 878.1,2515.0 879.1,2515.6 880.0,2516.2 881.0,2516.7 881.9,2517.3 882.8,2517.8 883.8,2518.4 884.7,2519.0 885.7,2519.5 886.6,2520.1 887.6,2520.6 888.5,2521.2 889.4,2521.7 890.4,2522.3 891.3,2522.8 892.3,2523.4 893.2,2523.9 894.1,2524.5 895.1,2525.0 896.0,2525.5 897.0,2526.1 897.9,2526.6 898.9,2527.2 899.8,2527.7 900.7,2528.2 901.7,2528.8 902.6,2529.3 903.6,2529.8 904.5,2530.3 905.4,2530.9 906.4,2531.4 907.3,2531.9 908.3,2532.4 909.2,2533.0 910.2,2533.5 911.1,2534.0 912.0,2534.5 913.0,2535.0 913.9,2535.5 914.9,2536.1 915.8,2536.6 916.7,2537.1 917.7,2537.6 918.6,2538.1 919.6,2538.6 920.5,2539.1 921.4,2539.6 922.4,2540.1 923.3,2540.6 924.3,2541.1 925.2,2541.6 926.2,2542.1 927.1,2542.6 928.0,2543.1 929.0,2543.6 929.9,2544.1 930.9,2544.6 931.8,2545.0 932.7,2545.5 933.7,2546.0 934.6,2546.5 935.6,2547.0 936.5,2547.5 937.5,2547.9 938.4,2548.4 939.3,2548.9 940.3,2549.4 941.2,2549.8 942.2,2550.3 943.1,2550.8 944.0,2551.3 945.0,2551.7 945.9,2552.2 946.9,2552.7 947.8,2553.1 948.8,2553.6 949.7,2554.0 950.6,2554.5 951.6,2555.0 952.5,2555.4 953.5,2555.9 954.4,2556.3 955.3,2556.8 956.3,2557.2 957.2,2557.7 958.2,2558.1 959.1,2558.6 960.1,2559.0 961.0,2559.5 961.9,2559.9 962.9,2560.4 963.8,2560.8 964.8,2561.2 965.7,2561.7 966.6,2562.1 967.6,2562.5 968.5,2563.0 969.5,2563.4 970.4,2563.8 971.4,2564.3 972.3,2564.7 973.2,2565.1 974.2,2565.5 975.1,2566.0 976.1,2566.4 977.0,2566.8 977.9,2567.2 978.9,2567.6 979.8,2568.1 980.8,2568.5 981.7,2568.9 982.7,2569.3 983.6,2569.7 984.5,2570.1 985.5,2570.5 986.4,2570.9 987.4,2571.3 988.3,2571.7 989.2,2572.1 990.2,2572.5 991.1,2572.9 992.1,2573.3 993.0,2573.7 994.0,2574.1 994.9,2574.5 995.8,2574.9 996.8,2575.3 997.7,2575.7 998.7,2576.0 999.6,2576.4 1000.5,2576.8 1001.5,2577.2 1002.4,2577.6 1003.4,2577.9 1004.3,2578.3 1005.3,2578.7 1006.2,2579.1 1007.1,2579.4 1008.1,2579.8 1009.0,2580.2 1010.0,2580.5 1010.9,2580.9 1011.8,2581.2 1012.8,2581.6 1013.7,2582.0 1014.7,2582.3 1015.6,2582.7 1016.6,2583.0 1017.5,2583.4 1018.4,2583.7 1019.4,2584.1 1020.3,2584.4 1021.3,2584.8 1022.2,2585.1 1023.1,2585.4 1024.1,2585.8 1025.0,2586.1 1026.0,2586.5 1026.9,2586.8 1027.9,2587.1 1028.8,2587.5 1029.7,2587.8 1030.7,2588.1 1031.6,2588.4 1032.6,2588.7 1033.5,2589.1 1034.4,2589.4 1035.4,2589.7 1036.3,2590.0 1037.3,2590.3 1038.2,2590.6 1039.2,2591.0 1040.1,2591.3 1041.0,2591.6 1042.0,2591.9 1042.9,2592.2 1043.9,2592.5 1044.8,2592.8 1045.7,2593.1 1046.7,2593.3 1047.6,2593.6 1048.6,2593.9 1049.5,2594.2 1050.5,2594.5 1051.4,2594.8 1052.3,2595.1 1053.3,2595.3 1054.2,2595.6 1055.2,2595.9 1056.1,2596.2 1057.0,2596.4 1058.0,2596.7 1058.9,2597.0 1059.9,2597.2 1060.8,2597.5 1061.8,2597.7 1062.7,2598.0 1063.6,2598.3 1064.6,2598.5 1065.5,2598.8 1066.5,2599.0 1067.4,2599.2 1068.3,2599.5 1069.3,2599.7 1070.2,2600.0 1071.2,2600.2 1072.1,2600.4 1073.1,2600.7 1074.0,2600.9 1074.9,2601.1 1075.9,2601.3 1076.8,2601.6 1077.8,2601.8 1078.7,2602.0 1079.6,2602.2 1080.6,2602.4 1081.5,2602.6 1082.5,2602.8 1083.4,2603.0 1084.3,2603.2 1085.3,2603.4 1086.2,2603.6 1087.2,2603.8 1088.1,2604.0 1089.1,2604.2 1090.0,2604.4 1090.9,2604.6 1091.9,2604.7 1092.8,2604.9 1093.8,2605.1 1094.7,2605.3 1095.6,2605.4 1096.6,2605.6 1097.5,2605.8 1098.5,2605.9 1099.4,2606.1 1100.4,2606.2 1101.3,2606.4 1102.2,2606.5 1103.2,2606.7 1104.1,2606.8 1105.1,2607.0 1106.0,2607.1 1106.9,2607.2 1107.9,2607.4 1108.8,2607.5 1109.8,2607.6 1110.7,2607.7 1111.6,2607.9 1112.6,2608.0 1113.5,2608.1 1114.5,2608.2 1115.4,2608.3 1116.4,2608.4 1117.3,2608.5 1118.2,2608.6 1119.2,2608.7 1120.1,2608.8 1121.1,2608.9 1122.0,2608.9 1122.9,2609.0 1123.9,2609.1 1124.8,2609.2 1125.8,2609.2 1126.7,2609.3 1127.6,2609.4 1128.6,2609.4 1129.5,2609.5 1130.5,2609.5 1131.4,2609.6 1132.3,2609.6 1133.3,2609.7 1134.2,2609.7 1135.2,2609.7 1136.1,2609.8 1137.1,2609.8 1138.0,2609.8 1138.9,2609.8 1139.9,2609.8 1140.8,2609.8 1141.8,2609.8 1142.7,2609.8 1143.6,2609.8 1144.6,2609.8 1145.5,2609.8 1146.5,2609.8 1147.4,2609.8 1148.3,2609.8 1149.3,2609.8 1150.2,2609.7 1151.2,2609.7 1152.1,2609.7 1153.0,2609.6 1154.0,2609.6 1154.9,2609.5 1155.9,2609.5 1156.8,2609.4 1157.8,2609.3 1158.7,2609.3 1159.6,2609.2 1160.6,2609.1 1161.5,2609.0 1162.5,2609.0 1163.4,2608.9 1164.3,2608.8 1165.3,2608.7 1166.2,2608.6 1167.2,2608.5 1168.1,2608.3 1169.0,2608.2 1170.0,2608.1 1170.9,2608.0 1171.9,2607.9 1172.8,2607.7 1173.7,2607.6 1174.7,2607.4 1175.6,2607.3 1176.6,2607.1 1177.5,2607.0 1178.4,2606.8 1179.4,2606.6 1180.3,2606.4 1181.3,2606.3 1182.2,2606.1 1183.1,2605.9 1184.1,2605.7 1185.0,2605.5 1186.0,2605.3 1186.9,2605.1 1187.9,2604.9 1188.8,2604.6 1189.7,2604.4 1190.7,2604.2 1191.6,2603.9 1192.6,2603.7 1193.5,2603.4 1194.4,2603.2 1195.4,2602.9 1196.3,2602.7 1197.3,2602.4 1198.2,2602.1 1199.1,2601.8 1200.1,2601.5 1201.0,2601.2 1202.0,2600.9 1202.9,2600.6 1203.8,2600.3 1204.8,2600.0 1205.7,2599.7 1206.7,2599.3 1207.6,2599.0 1208.5,2598.7 1209.5,2598.3 1210.4,2597.9 1211.4,2597.6 1212.3,2597.2 1213.2,2596.8 1214.2,2596.5 1215.1,2596.1 1216.1,2595.7 1217.0,2595.3 1217.9,2594.9 1218.9,2594.5 1219.8,2594.0 1220.8,2593.6 1221.7,2593.2 1222.6,2592.7 1223.6,2592.3 1224.5,2591.8 1225.5,2591.4 1226.4,2590.9 1227.3,2590.4 1228.3,2590.0 1229.2,2589.5 1230.1,2589.0 1231.1,2588.5 1232.0,2588.0 1233.0,2587.4 1233.9,2586.9 1234.8,2586.4 1235.8,2585.8 1236.7,2585.3 1237.7,2584.7 1238.6,2584.2 1239.5,2583.6 1240.5,2583.0 1241.4,2582.5 1242.4,2581.9 1243.3,2581.3 1244.2,2580.7 1245.2,2580.0 1246.1,2579.4 1247.1,2578.8 1248.0,2578.2 1248.9,2577.5 1249.9,2576.9 1250.8,2576.2 1251.8,2575.5 1252.7,2574.8 1253.6,2574.2 1254.6,2573.5 1255.5,2572.8 1256.4,2572.1 1257.4,2571.3 1258.3,2570.6 1259.3,2569.9 1260.2,2569.1 1261.1,2568.4 1262.1,2567.6 1263.0,2566.8 1264.0,2566.1 1264.9,2565.3 1265.8,2564.5 1266.8,2563.7 1267.7,2562.8 1268.7,2562.0 1269.6,2561.2 1270.5,2560.4 1271.5,2559.5 1272.4,2558.6 1273.3,2557.8 1274.3,2556.9 1275.2,2556.0 1276.2,2555.1 1277.1,2554.2 1278.0,2553.3 1279.0,2552.4 1279.9,2551.4 1280.9,2550.5 1281.8,2549.5 1282.7,2548.6 1283.7,2547.6 1284.6,2546.6 1285.5,2545.6 1286.5,2544.6 1287.4,2543.6 1288.4,2542.6 1289.3,2541.5 1290.2,2540.5 1291.2,2539.4 1292.1,2538.4 1293.0,2537.3 1294.0,2536.2 1294.9,2535.1 1295.9,2534.0 1296.8,2532.9 1297.7,2531.8 1298.7,2530.6 1299.6,2529.5 1300.6,2528.3 1301.5,2527.1 1302.4,2526.0 1303.4,2524.8 1304.3,2523.6 1305.2,2522.3 1306.2,2521.1 1307.1,2519.9 1308.1,2518.6 1309.0,2517.4 1309.9,2516.1 1310.9,2514.8 1311.8,2513.5 1312.7,2512.2 1313.7,2510.9 1314.6,2509.6 1315.5,2508.3 1316.5,2506.9 1317.4,2505.5 1318.4,2504.2 1319.3,2502.8 1320.2,2501.4 1321.2,2500.0 1322.1,2498.6 1323.0,2497.1 1324.0,2495.7 1324.9,2494.2 1325.9,2492.7 1326.8,2491.3 1327.7,2489.8 1328.7,2488.3 1329.6,2486.7 1330.5,2485.2 1331.5,2483.7 1332.4,2482.1 1333.3,2480.5 1334.3,2479.0 1335.2,2477.4 1336.2,2475.7 1337.1,2474.1 1338.0,2472.5 1339.0,2470.8 1339.9,2469.2 1340.8,2467.5 1341.8,2465.8 1342.7,2464.1 1343.6,2462.4 1344.6,2460.7 1345.5,2458.9 1346.4,2457.2 1347.4,2455.4 1348.3,2453.7 1349.3,2451.9 1350.2,2450.1 1351.1,2448.2 1352.1,2446.4 1353.0,2444.5 1353.9,2442.7 1354.9,2440.8 1355.8,2438.9 1356.7,2437.0 1357.7,2435.1 1358.6,2433.2 1359.5,2431.2 1360.5,2429.3 1361.4,2427.3 1362.3,2425.3 1363.3,2423.3 1364.2,2421.3 1365.1,2419.2 1366.1,2417.2 1367.0,2415.1 1367.9,2413.1 1368.9,2411.0 1369.8,2408.9 1370.7,2406.7 1371.7,2404.6 1372.6,2402.5 1373.5,2400.3 1374.5,2398.1 1375.4,2395.9 1376.3,2393.7 1377.3,2391.5 1378.2,2389.2 1379.1,2387.0 1380.1,2384.7 1381.0,2382.4 1381.9,2380.1 1382.9,2377.8 1383.8,2375.5 1384.7,2373.1 1385.7,2370.8 1386.6,2368.4 1387.5,2366.0 1388.5,2363.6 1389.4,2361.2 1390.3,2358.7 1391.3,2356.3 1392.2,2353.8 1393.1,2351.3 1394.1,2348.8 1395.0,2346.3 1395.9,2343.7 1396.9,2341.2 1397.8,2338.6 1398.7,2336.0 1399.7,2333.4 1400.6,2330.8 1401.5,2328.2 1402.4,2325.5 1403.4,2322.9 1404.3,2320.2 1405.2,2317.5 1406.2,2314.8 1407.1,2312.0 1408.0,2309.3 1409.0,2306.5 1409.9,2303.7 1410.8,2300.9 1411.7,2298.1 1412.7,2295.3 1413.6,2292.4 1414.5,2289.6 1415.5,2286.7 1416.4,2283.8 1417.3,2280.9 1418.2,2278.0 1419.2,2275.0 1420.1,2272.0 1421.0,2269.1 1422.0,2266.1 1422.9,2263.0 1423.8,2260.0 1424.7,2257.0 1425.7,2253.9 1426.6,2250.8 1427.5,2247.7 1428.5,2244.6 1429.4,2241.5 1430.3,2238.3 1431.2,2235.1 1432.2,2231.9 1433.1,2228.7 1434.0,2225.5 1434.9,2222.3 1435.9,2219.0 1436.8,2215.8 1437.7,2212.5 1438.6,2209.2 1439.6,2205.8 1440.5,2202.5 1441.4,2199.1 1442.3,2195.8 1443.3,2192.4 1444.2,2189.0 1445.1,2185.5 1446.0,2182.1 1447.0,2178.6 1447.9,2175.1 1448.8,2171.6 1449.7,2168.1 1450.7,2164.6 1451.6,2161.1 1452.5,2157.5 1453.4,2153.9 1454.3,2150.3 1455.3,2146.7 1456.2,2143.0 1457.1,2139.4 1458.0,2135.7 1458.9,2132.0 1459.9,2128.3 1460.8,2124.6 1461.7,2120.9 1462.6,2117.1 1463.5,2113.3 1464.5,2109.5 1465.4,2105.7 1466.3,2101.9 1467.2,2098.1 1468.1,2094.2 1469.1,2090.3 1470.0,2086.4 1470.9,2082.5 1471.8,2078.6 1472.7,2074.7 1473.6,2070.7 1474.5,2066.7 1475.5,2062.7 1476.4,2058.7 1477.3,2054.7 1478.2,2050.6 1479.1,2046.6 1480.0,2042.5 1480.9,2038.4 1481.9,2034.3 1482.8,2030.1 1483.7,2026.0 1484.6,2021.8 1485.5,2017.6 1486.4,2013.4 1487.3,2009.2 1488.2,2005.0 1489.1,2000.8 1490.1,1996.5 1491.0,1992.2 1491.9,1987.9 1492.8,1983.6 1493.7,1979.3 1494.6,1974.9 1495.5,1970.6 1496.4,1966.2 1497.3,1961.8 1498.2,1957.4 1499.1,1953.0 1500.0,1948.5 1500.9,1944.1 1501.8,1939.6 1502.7,1935.1 1503.6,1930.6 1504.5,1926.1 1505.4,1921.5 1506.3,1917.0 1507.2,1912.4 1508.1,1907.8 1509.0,1903.2 1509.9,1898.6 1510.8,1894.0 1511.7,1889.4 1512.6,1884.7 1513.5,1880.0 1514.4,1875.3 1515.3,1870.6 1516.1,1865.9 1517.0,1861.2 1517.9,1856.4 1518.8,1851.7 1519.7,1846.9 1520.6,1842.1 1521.5,1837.3 1522.3,1832.5 1523.2,1827.7 1524.1,1822.8 1525.0,1818.0 1525.9,1813.1 1526.7,1808.2 1527.6,1803.3 1528.5,1798.4 1529.4,1793.5 1530.2,1788.5 1531.1,1783.6 1532.0,1778.6 1532.9,1773.6 1533.7,1768.6 1534.6,1763.6 1535.4,1758.6 1536.3,1753.6 1537.2,1748.5 1538.0,1743.5 1538.9,1738.4 1539.7,1733.3 1540.6,1728.2 1541.4,1723.1 1542.3,1718.0 1543.1,1712.9 1544.0,1707.8 1544.8,1702.6 1545.7,1697.5 1546.5,1692.3 1547.3,1687.1 1548.2,1681.9 1549.0,1676.7 1549.8,1671.5 1550.7,1666.3 1551.5,1661.0 1552.3,1655.8 1553.1,1650.5 1553.9,1645.2 1554.8,1640.0 1555.6,1634.7 1556.4,1629.4 1557.2,1624.1 1558.0,1618.8 1558.8,1613.4 1559.6,1608.1 1560.3,1602.7 1561.1,1597.4 1561.9,1592.0 1562.7,1586.7 1563.4,1581.3 1564.2,1575.9 1565.0,1570.5 1565.7,1565.1 1566.5,1559.7 1567.2,1554.3 1568.0,1548.8 1568.7,1543.4 1569.4,1538.0 1570.1,1532.5 1570.8,1527.0 1571.6,1521.6 1572.3,1516.1 1572.9,1510.6 1573.6,1505.1 1574.3,1499.7 1575.0,1494.2 1575.6,1488.7 1576.3,1483.1 1576.9,1477.6 1577.6,1472.1 1578.2,1466.6 1578.8,1461.0 1579.4,1455.5 1580.0,1450.0 1580.6,1444.4 1581.1,1438.9 1581.7,1433.3 1582.2,1427.7 1582.7,1422.2 1583.3,1416.6 1583.8,1411.0 1584.2,1405.5 1584.7,1399.9 1585.2,1394.3 1585.6,1388.7 1586.0,1383.1 1586.4,1377.5 1586.8,1371.9 1587.2,1366.3 1587.5,1360.7 1587.8,1355.1 1588.1,1349.5 1588.4,1343.9 1588.7,1338.3 1588.9,1332.7 1589.1,1327.1 1589.3,1321.4 1589.5,1315.8 1589.7,1310.2 1589.8,1304.6 1589.9,1299.0 1590.0,1293.4 1590.1,1287.7 1590.1,1282.3" fill="none" stroke="#e6550d" stroke-width="5.45" stroke-linecap="butt" stroke-linejoin="round" stroke-dasharray="5.45 8.99" clip-path="url(#clipb)" />
<rect x="205.6" y="941.6" width="1421.7" height="781.4" fill="none" stroke="#000" stroke-width="3.33" stroke-linejoin="miter"/>
<line x1="197.3" y1="1723.0" x2="205.6" y2="1723.0" stroke="#000" stroke-width="2.5"/>
<line x1="197.3" y1="1679.6" x2="205.6" y2="1679.6" stroke="#000" stroke-width="2.5"/>
<line x1="191.0" y1="1636.2" x2="205.6" y2="1636.2" stroke="#000" stroke-width="3.33"/>
<line x1="197.3" y1="1592.8" x2="205.6" y2="1592.8" stroke="#000" stroke-width="2.5"/>
<line x1="197.3" y1="1549.4" x2="205.6" y2="1549.4" stroke="#000" stroke-width="2.5"/>
<line x1="197.3" y1="1505.9" x2="205.6" y2="1505.9" stroke="#000" stroke-width="2.5"/>
<line x1="191.0" y1="1462.5" x2="205.6" y2="1462.5" stroke="#000" stroke-width="3.33"/>
<line x1="197.3" y1="1419.1" x2="205.6" y2="1419.1" stroke="#000" stroke-width="2.5"/>
<line x1="197.3" y1="1375.7" x2="205.6" y2="1375.7" stroke="#000" stroke-width="2.5"/>
<line x1="197.3" y1="1332.3" x2="205.6" y2="1332.3" stroke="#000" stroke-width="2.5"/>
<line x1="191.0" y1="1288.9" x2="205.6" y2="1288.9" stroke="#000" stroke-width="3.33"/>
<line x1="197.3" y1="1245.5" x2="205.6" y2="1245.5" stroke="#000" stroke-width="2.5"/>
<line x1="197.3" y1="1202.1" x2="205.6" y2="1202.1" stroke="#000" stroke-width="2.5"/>
<line x1="197.3" y1="1158.7" x2="205.6" y2="1158.7" stroke="#000" stroke-width="2.5"/>
<line x1="191.0" y1="1115.2" x2="205.6" y2="1115.2" stroke="#000" stroke-width="3.33"/>
<line x1="197.3" y1="1071.8" x2="205.6" y2="1071.8" stroke="#000" stroke-width="2.5"/>
<line x1="197.3" y1="1028.4" x2="205.6" y2="1028.4" stroke="#000" stroke-width="2.5"/>
<line x1="197.3" y1="985.0" x2="205.6" y2="985.0" stroke="#000" stroke-width="2.5"/>
<line x1="1627.3" y1="1723.0" x2="1641.9" y2="1723.0" stroke="#000" stroke-width="3.33"/>
<line x1="1627.3" y1="1611.4" x2="1635.6" y2="1611.4" stroke="#000" stroke-width="2.5"/>
<line x1="1627.3" y1="1499.7" x2="1641.9" y2="1499.7" stroke="#000" stroke-width="3.33"/>
<line x1="1627.3" y1="1388.1" x2="1635.6" y2="1388.1" stroke="#000" stroke-width="2.5"/>
<line x1="1627.3" y1="1276.5" x2="1641.9" y2="1276.5" stroke="#000" stroke-width="3.33"/>
<line x1="1627.3" y1="1164.9" x2="1635.6" y2="1164.9" stroke="#000" stroke-width="2.5"/>
<line x1="1627.3" y1="1053.2" x2="1641.9" y2="1053.2" stroke="#000" stroke-width="3.33"/>
<line x1="1627.3" y1="941.6" x2="1635.6" y2="941.6" stroke="#000" stroke-width="2.5"/>
<line x1="205.6" y1="1723.0" x2="205.6" y2="1737.6" stroke="#000" stroke-width="3.33"/>
<line x1="442.5" y1="1723.0" x2="442.5" y2="1737.6" stroke="#000" stroke-width="3.33"/>
<line x1="679.5" y1="1723.0" x2="679.5" y2="1737.6" stroke="#000" stroke-width="3.33"/>
<line x1="916.5" y1="1723.0" x2="916.5" y2="1737.6" stroke="#000" stroke-width="3.33"/>
<line x1="1153.4" y1="1723.0" x2="1153.4" y2="1737.6" stroke="#000" stroke-width="3.33"/>
<line x1="1390.3" y1="1723.0" x2="1390.3" y2="1737.6" stroke="#000" stroke-width="3.33"/>
<line x1="1627.3" y1="1723.0" x2="1627.3" y2="1737.6" stroke="#000" stroke-width="3.33"/>
<text x="77.24" y="863.35" font-size="44.0" font-style="normal" textLength="99.67" lengthAdjust="spacingAndGlyphs" fill="#000" >180°</text>
<text x="78.01" y="689.75" font-size="44.0" font-style="normal" textLength="98.88" lengthAdjust="spacingAndGlyphs" fill="#000" >200°</text>
<text x="78.01" y="516.15" font-size="44.0" font-style="normal" textLength="98.88" lengthAdjust="spacingAndGlyphs" fill="#000" >220°</text>
<text x="78.01" y="342.55" font-size="44.0" font-style="normal" textLength="98.88" lengthAdjust="spacingAndGlyphs" fill="#000" >240°</text>
<text x="78.01" y="168.95" font-size="44.0" font-style="normal" textLength="98.88" lengthAdjust="spacingAndGlyphs" fill="#000" >260°</text>
<text x="1658.53" y="750.8" font-size="44.0" font-style="normal" textLength="57.55" lengthAdjust="spacingAndGlyphs" fill="#000" >−1</text>
<text x="1657.49" y="527.6" font-size="44.0" font-style="normal" textLength="25.83" lengthAdjust="spacingAndGlyphs" fill="#000" >0</text>
<text x="1657.68" y="304.4" font-size="44.0" font-style="normal" textLength="24.26" lengthAdjust="spacingAndGlyphs" fill="#000" >1</text>
<text x="1656.63" y="81.2" font-size="44.0" font-style="normal" textLength="24.15" lengthAdjust="spacingAndGlyphs" fill="#000" >2</text>
<text transform="translate(49.4,0) rotate(-90)" x="-688.87" y="0" font-size="44.0" font-style="normal" textLength="424.2" lengthAdjust="spacingAndGlyphs" fill="#000" >HLOS azimuth angle</text>
<text transform="translate(49.4,0) rotate(-90)" x="-253.1" y="0" font-size="44.0" font-style="italic" textLength="25.5" lengthAdjust="spacingAndGlyphs" fill="#000" >θ</text>
<text transform="translate(1766.1,0) rotate(-90)" x="-742.06" y="0" font-size="44.0" font-style="normal" textLength="529.41" lengthAdjust="spacingAndGlyphs" fill="#000" >Trigonometric function of</text>
<text transform="translate(1766.1,0) rotate(-90)" x="-200.32" y="0" font-size="44.0" font-style="italic" textLength="25.73" lengthAdjust="spacingAndGlyphs" fill="#000" >θ</text>
<text x="77.24" y="1651.93" font-size="44.0" font-style="normal" textLength="99.67" lengthAdjust="spacingAndGlyphs" fill="#000" >100°</text>
<text x="77.24" y="1478.28" font-size="44.0" font-style="normal" textLength="99.67" lengthAdjust="spacingAndGlyphs" fill="#000" >120°</text>
<text x="77.24" y="1304.64" font-size="44.0" font-style="normal" textLength="99.67" lengthAdjust="spacingAndGlyphs" fill="#000" >140°</text>
<text x="77.24" y="1130.99" font-size="44.0" font-style="normal" textLength="99.67" lengthAdjust="spacingAndGlyphs" fill="#000" >160°</text>
<text x="77.24" y="957.35" font-size="44.0" font-style="normal" textLength="99.67" lengthAdjust="spacingAndGlyphs" fill="#000" >180°</text>
<text x="1658.52" y="1737.8" font-size="44.0" font-style="normal" textLength="57.61" lengthAdjust="spacingAndGlyphs" fill="#000" >−2</text>
<text x="1658.53" y="1514.54" font-size="44.0" font-style="normal" textLength="57.55" lengthAdjust="spacingAndGlyphs" fill="#000" >−1</text>
<text x="1657.49" y="1291.29" font-size="44.0" font-style="normal" textLength="25.83" lengthAdjust="spacingAndGlyphs" fill="#000" >0</text>
<text x="1657.68" y="1068.03" font-size="44.0" font-style="normal" textLength="24.26" lengthAdjust="spacingAndGlyphs" fill="#000" >1</text>
<text transform="translate(49.4,0) rotate(-90)" x="-1563.97" y="0" font-size="44.0" font-style="normal" textLength="424.2" lengthAdjust="spacingAndGlyphs" fill="#000" >HLOS azimuth angle</text>
<text transform="translate(49.4,0) rotate(-90)" x="-1128.2" y="0" font-size="44.0" font-style="italic" textLength="25.5" lengthAdjust="spacingAndGlyphs" fill="#000" >θ</text>
<text transform="translate(1766.1,0) rotate(-90)" x="-1617.16" y="0" font-size="44.0" font-style="normal" textLength="529.41" lengthAdjust="spacingAndGlyphs" fill="#000" >Trigonometric function of</text>
<text transform="translate(1766.1,0) rotate(-90)" x="-1075.42" y="0" font-size="44.0" font-style="italic" textLength="25.73" lengthAdjust="spacingAndGlyphs" fill="#000" >θ</text>
<text x="205.34" y="49.6" font-size="44.0" font-style="normal" textLength="58.44" lengthAdjust="spacingAndGlyphs" fill="#000" >(a)</text>
<text x="206.06" y="925" font-size="44.0" font-style="normal" textLength="57.88" lengthAdjust="spacingAndGlyphs" fill="#000" >(b)</text>
<rect x="740.4" y="76.6" width="350.9" height="64.8" rx="9" ry="9" fill="#fff" stroke="#808080" stroke-width="3.2"/>
<text x="753.41" y="120.8" font-size="44.0" font-style="normal" textLength="325.43" lengthAdjust="spacingAndGlyphs" fill="#000" >Ascending orbit</text>
<rect x="726.1" y="952.3" width="379.8" height="64.2" rx="9" ry="9" fill="#fff" stroke="#808080" stroke-width="3.2"/>
<text x="736.31" y="996.7" font-size="44.0" font-style="normal" textLength="356.3" lengthAdjust="spacingAndGlyphs" fill="#000" >Descending orbit</text>
<text x="148.52" y="1783.7" font-size="44.0" font-style="normal" textLength="114.12" lengthAdjust="spacingAndGlyphs" fill="#000" >90° S</text>
<text x="385.31" y="1783.7" font-size="44.0" font-style="normal" textLength="114.94" lengthAdjust="spacingAndGlyphs" fill="#000" >60° S</text>
<text x="622.84" y="1783.7" font-size="44.0" font-style="normal" textLength="113.79" lengthAdjust="spacingAndGlyphs" fill="#000" >30° S</text>
<text x="894.49" y="1783.7" font-size="44.0" font-style="normal" textLength="46.74" lengthAdjust="spacingAndGlyphs" fill="#000" >0°</text>
<text x="1096.5" y="1783.7" font-size="44.0" font-style="normal" textLength="118.73" lengthAdjust="spacingAndGlyphs" fill="#000" >30° N</text>
<text x="1332.78" y="1783.7" font-size="44.0" font-style="normal" textLength="119.07" lengthAdjust="spacingAndGlyphs" fill="#000" >60° N</text>
<text x="1570.69" y="1783.7" font-size="44.0" font-style="normal" textLength="118.13" lengthAdjust="spacingAndGlyphs" fill="#000" >90° N</text>
<text x="828.93" y="1840.6" font-size="44.0" font-style="normal" textLength="172.12" lengthAdjust="spacingAndGlyphs" fill="#000" >Latitude</text>
<rect x="229.2" y="1861.5" width="1373.9" height="71.3" rx="9" ry="9" fill="#fff" stroke="#d6d6d6" stroke-width="3.1"/>
<line x1="245.6" y1="1894.1" x2="329.0" y2="1894.1" stroke="#636363" stroke-width="8.8" stroke-linecap="square"/>
<line x1="473.3" y1="1894.1" x2="556.8" y2="1894.1" stroke="#31a354" stroke-width="5.45" stroke-linecap="square"/>
<line x1="766.3" y1="1894.1" x2="849.6" y2="1894.1" stroke="#756bb1" stroke-width="5.45" stroke-dasharray="20.17 8.72"/>
<line x1="1069.1" y1="1894.1" x2="1152.4" y2="1894.1" stroke="#3182bd" stroke-width="5.45" stroke-dasharray="34.88 8.72 5.45 8.72"/>
<line x1="1368.0" y1="1894.1" x2="1451.3" y2="1894.1" stroke="#e6550d" stroke-width="5.45" stroke-dasharray="5.45 8.99"/>
<text x="363.04" y="1908.9" font-size="44.0" font-style="italic" textLength="25.05" lengthAdjust="spacingAndGlyphs" fill="#000" >θ</text>
<text x="590.62" y="1908.9" font-size="44.0" font-style="normal" textLength="58.47" lengthAdjust="spacingAndGlyphs" fill="#000" >sin</text>
<text x="655.2" y="1908.9" font-size="44.0" font-style="italic" textLength="25.5" lengthAdjust="spacingAndGlyphs" fill="#000" >θ</text>
<text x="884.12" y="1908.9" font-size="44.0" font-style="normal" textLength="69.6" lengthAdjust="spacingAndGlyphs" fill="#000" >cos</text>
<text x="959.23" y="1908.9" font-size="44.0" font-style="italic" textLength="25.17" lengthAdjust="spacingAndGlyphs" fill="#000" >θ</text>
<text x="1187.09" y="1908.9" font-size="44.0" font-style="normal" textLength="63.84" lengthAdjust="spacingAndGlyphs" fill="#000" >cot</text>
<text x="1257.45" y="1908.9" font-size="44.0" font-style="italic" textLength="24.94" lengthAdjust="spacingAndGlyphs" fill="#000" >θ</text>
<text x="1485.18" y="1908.9" font-size="44.0" font-style="normal" textLength="66.96" lengthAdjust="spacingAndGlyphs" fill="#000" >tan</text>
<text x="1559.02" y="1908.9" font-size="44.0" font-style="italic" textLength="25.28" lengthAdjust="spacingAndGlyphs" fill="#000" >θ</text>
<rect x="190" y="940" width="3" height="3.3" fill="#000"/>
</svg></body></html>
